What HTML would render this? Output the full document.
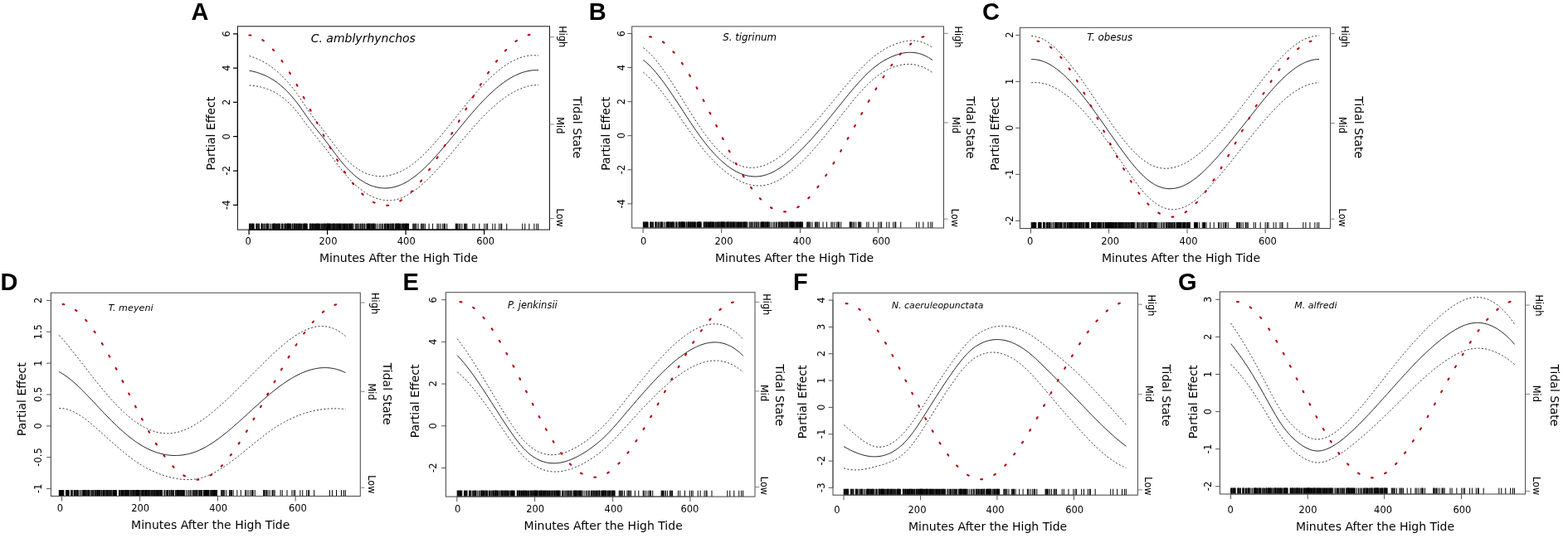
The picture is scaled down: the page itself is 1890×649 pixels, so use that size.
<!DOCTYPE html>
<html><head><meta charset="utf-8"><title>Partial effects of tidal state</title>
<style>html,body{margin:0;padding:0;background:#fff;}svg{display:block;}</style></head>
<body>
<svg width="1890" height="649" viewBox="0 0 1890 649">
<rect width="1890" height="649" fill="#fff"/>
<g><path d="M300.5 85.23 L302.69 85.66 L304.88 86.14 L307.08 86.69 L309.27 87.29 L311.46 87.97 L313.65 88.71 L315.84 89.53 L318.03 90.42 L320.23 91.4 L322.42 92.46 L324.61 93.6 L326.8 94.84 L328.99 96.17 L331.19 97.6 L333.38 99.13 L335.57 100.77 L337.76 102.51 L339.95 104.37 L342.14 106.34 L344.34 108.43 L346.53 110.63 L348.72 112.95 L350.91 115.37 L353.1 117.92 L355.3 120.58 L357.49 123.35 L359.68 126.23 L361.87 129.23 L364.06 132.32 L366.25 135.46 L368.45 138.6 L370.64 141.69 L372.83 144.72 L375.02 147.68 L377.21 150.58 L379.41 153.42 L381.6 156.2 L383.79 158.94 L385.98 161.66 L388.17 164.4 L390.36 167.16 L392.56 169.99 L394.75 172.88 L396.94 175.81 L399.13 178.77 L401.32 181.74 L403.52 184.7 L405.71 187.62 L407.9 190.49 L410.09 193.3 L412.28 196.01 L414.47 198.61 L416.67 201.1 L418.86 203.46 L421.05 205.72 L423.24 207.85 L425.43 209.87 L427.63 211.78 L429.82 213.57 L432.01 215.25 L434.2 216.81 L436.39 218.26 L438.58 219.6 L440.78 220.82 L442.97 221.93 L445.16 222.94 L447.35 223.82 L449.54 224.6 L451.74 225.27 L453.93 225.83 L456.12 226.28 L458.31 226.62 L460.5 226.85 L462.69 226.97 L464.89 226.98 L467.08 226.89 L469.27 226.69 L471.46 226.38 L473.65 225.97 L475.85 225.45 L478.04 224.82 L480.23 224.09 L482.42 223.25 L484.61 222.31 L486.81 221.27 L489 220.12 L491.19 218.87 L493.38 217.52 L495.57 216.07 L497.76 214.53 L499.96 212.89 L502.15 211.17 L504.34 209.36 L506.53 207.47 L508.72 205.51 L510.92 203.47 L513.11 201.37 L515.3 199.2 L517.49 196.97 L519.68 194.68 L521.87 192.34 L524.07 189.95 L526.26 187.51 L528.45 185.04 L530.64 182.52 L532.83 179.97 L535.03 177.39 L537.22 174.79 L539.41 172.16 L541.6 169.51 L543.79 166.84 L545.98 164.17 L548.18 161.49 L550.37 158.8 L552.56 156.11 L554.75 153.43 L556.94 150.75 L559.14 148.09 L561.33 145.44 L563.52 142.81 L565.71 140.2 L567.9 137.62 L570.09 135.07 L572.29 132.56 L574.48 130.08 L576.67 127.64 L578.86 125.25 L581.05 122.91 L583.25 120.62 L585.44 118.38 L587.63 116.2 L589.82 114.08 L592.01 112.02 L594.2 110.01 L596.4 108.07 L598.59 106.2 L600.78 104.39 L602.97 102.65 L605.16 100.97 L607.36 99.37 L609.55 97.84 L611.74 96.39 L613.93 95.01 L616.12 93.71 L618.31 92.49 L620.51 91.35 L622.7 90.29 L624.89 89.32 L627.08 88.43 L629.27 87.63 L631.47 86.93 L633.66 86.31 L635.85 85.79 L638.04 85.36 L640.23 85.03 L642.42 84.8 L644.62 84.67 L646.81 84.64 L649 84.71" fill="none" stroke="#222" stroke-width="1"/>
<path d="M300.5 67.49 L302.69 68.18 L304.88 68.93 L307.08 69.74 L309.27 70.62 L311.46 71.57 L313.65 72.6 L315.84 73.7 L318.03 74.88 L320.23 76.14 L322.42 77.49 L324.61 78.92 L326.8 80.45 L328.99 82.06 L331.19 83.78 L333.38 85.59 L335.57 87.5 L337.76 89.51 L339.95 91.64 L342.14 93.87 L344.34 96.21 L346.53 98.65 L348.72 101.2 L350.91 103.85 L353.1 106.61 L355.3 109.48 L357.49 112.44 L359.68 115.52 L361.87 118.69 L364.06 121.94 L366.25 125.23 L368.45 128.52 L370.64 131.75 L372.83 134.89 L375.02 137.97 L377.21 140.96 L379.41 143.89 L381.6 146.75 L383.79 149.56 L385.98 152.34 L388.17 155.11 L390.36 157.91 L392.56 160.76 L394.75 163.65 L396.94 166.59 L399.13 169.53 L401.32 172.47 L403.52 175.39 L405.71 178.26 L407.9 181.07 L410.09 183.8 L412.28 186.42 L414.47 188.92 L416.67 191.29 L418.86 193.53 L421.05 195.65 L423.24 197.63 L425.43 199.48 L427.63 201.21 L429.82 202.81 L432.01 204.28 L434.2 205.62 L436.39 206.85 L438.58 207.94 L440.78 208.92 L442.97 209.78 L445.16 210.53 L447.35 211.16 L449.54 211.67 L451.74 212.08 L453.93 212.37 L456.12 212.56 L458.31 212.65 L460.5 212.63 L462.69 212.51 L464.89 212.29 L467.08 211.97 L469.27 211.56 L471.46 211.05 L473.65 210.45 L475.85 209.76 L478.04 208.98 L480.23 208.11 L482.42 207.15 L484.61 206.1 L486.81 204.95 L489 203.72 L491.19 202.38 L493.38 200.95 L495.57 199.42 L497.76 197.8 L499.96 196.09 L502.15 194.29 L504.34 192.4 L506.53 190.44 L508.72 188.4 L510.92 186.28 L513.11 184.1 L515.3 181.85 L517.49 179.54 L519.68 177.18 L521.87 174.76 L524.07 172.29 L526.26 169.78 L528.45 167.22 L530.64 164.63 L532.83 162.01 L535.03 159.35 L537.22 156.67 L539.41 153.97 L541.6 151.25 L543.79 148.52 L545.98 145.78 L548.18 143.03 L550.37 140.28 L552.56 137.53 L554.75 134.78 L556.94 132.05 L559.14 129.33 L561.33 126.62 L563.52 123.94 L565.71 121.29 L567.9 118.66 L570.09 116.07 L572.29 113.51 L574.48 110.99 L576.67 108.52 L578.86 106.1 L581.05 103.73 L583.25 101.42 L585.44 99.16 L587.63 96.97 L589.82 94.83 L592.01 92.76 L594.2 90.75 L596.4 88.81 L598.59 86.94 L600.78 85.14 L602.97 83.41 L605.16 81.75 L607.36 80.17 L609.55 78.67 L611.74 77.25 L613.93 75.91 L616.12 74.65 L618.31 73.48 L620.51 72.4 L622.7 71.4 L624.89 70.49 L627.08 69.68 L629.27 68.96 L631.47 68.34 L633.66 67.82 L635.85 67.39 L638.04 67.07 L640.23 66.85 L642.42 66.73 L644.62 66.72 L646.81 66.83 L649 67.04" fill="none" stroke="#333" stroke-width="1" stroke-dasharray="2 2.3"/>
<path d="M300.5 102.96 L302.69 103.14 L304.88 103.36 L307.08 103.64 L309.27 103.97 L311.46 104.36 L313.65 104.83 L315.84 105.36 L318.03 105.97 L320.23 106.65 L322.42 107.42 L324.61 108.28 L326.8 109.23 L328.99 110.28 L331.19 111.42 L333.38 112.67 L335.57 114.04 L337.76 115.51 L339.95 117.1 L342.14 118.82 L344.34 120.65 L346.53 122.61 L348.72 124.69 L350.91 126.89 L353.1 129.22 L355.3 131.68 L357.49 134.25 L359.68 136.95 L361.87 139.78 L364.06 142.7 L366.25 145.68 L368.45 148.68 L370.64 151.64 L372.83 154.55 L375.02 157.4 L377.21 160.2 L379.41 162.94 L381.6 165.65 L383.79 168.32 L385.98 170.99 L388.17 173.68 L390.36 176.41 L392.56 179.22 L394.75 182.1 L396.94 185.04 L399.13 188.01 L401.32 191.01 L403.52 194 L405.71 196.98 L407.9 199.92 L410.09 202.8 L412.28 205.6 L414.47 208.3 L416.67 210.9 L418.86 213.39 L421.05 215.79 L423.24 218.08 L425.43 220.26 L427.63 222.35 L429.82 224.33 L432.01 226.22 L434.2 228 L436.39 229.68 L438.58 231.25 L440.78 232.72 L442.97 234.09 L445.16 235.34 L447.35 236.49 L449.54 237.53 L451.74 238.46 L453.93 239.28 L456.12 239.99 L458.31 240.58 L460.5 241.06 L462.69 241.43 L464.89 241.68 L467.08 241.81 L469.27 241.82 L471.46 241.71 L473.65 241.48 L475.85 241.13 L478.04 240.66 L480.23 240.07 L482.42 239.36 L484.61 238.53 L486.81 237.59 L489 236.53 L491.19 235.37 L493.38 234.1 L495.57 232.72 L497.76 231.25 L499.96 229.69 L502.15 228.04 L504.34 226.31 L506.53 224.5 L508.72 222.61 L510.92 220.66 L513.11 218.63 L515.3 216.54 L517.49 214.39 L519.68 212.18 L521.87 209.92 L524.07 207.61 L526.26 205.25 L528.45 202.85 L530.64 200.41 L532.83 197.94 L535.03 195.43 L537.22 192.9 L539.41 190.34 L541.6 187.76 L543.79 185.17 L545.98 182.56 L548.18 179.95 L550.37 177.32 L552.56 174.7 L554.75 172.08 L556.94 169.46 L559.14 166.85 L561.33 164.26 L563.52 161.68 L565.71 159.12 L567.9 156.59 L570.09 154.08 L572.29 151.6 L574.48 149.16 L576.67 146.76 L578.86 144.4 L581.05 142.09 L583.25 139.82 L585.44 137.61 L587.63 135.44 L589.82 133.33 L592.01 131.28 L594.2 129.28 L596.4 127.34 L598.59 125.46 L600.78 123.64 L602.97 121.88 L605.16 120.19 L607.36 118.57 L609.55 117.01 L611.74 115.52 L613.93 114.1 L616.12 112.76 L618.31 111.49 L620.51 110.3 L622.7 109.18 L624.89 108.14 L627.08 107.18 L629.27 106.31 L631.47 105.52 L633.66 104.81 L635.85 104.19 L638.04 103.66 L640.23 103.22 L642.42 102.87 L644.62 102.61 L646.81 102.45 L649 102.39" fill="none" stroke="#333" stroke-width="1" stroke-dasharray="2 2.3"/>
<path d="M300.5 42.47 L301.4 42.52 L302.24 42.57 L303.09 42.65 L303.93 42.77 L304.77 42.92 L305.61 43.1 L306.46 43.32 L307.3 43.56 L308.14 43.84 L308.99 44.15 L309.83 44.48 L310.67 44.85 L311.51 45.25 L312.36 45.68 L313.2 46.14 L314.04 46.62 L314.89 47.14 L315.73 47.68 L316.57 48.25 L317.41 48.84 L318.26 49.47 L319.1 50.12 L319.94 50.79 L320.79 51.5 L321.63 52.23 L322.47 52.98 L323.31 53.76 L324.16 54.56 L325 55.39 L325.84 56.24 L326.69 57.11 L327.53 58.01 L328.37 58.93 L329.21 59.87 L330.06 60.83 L330.9 61.82 L331.74 62.82 L332.59 63.85 L333.43 64.9 L334.27 65.96 L335.11 67.05 L335.96 68.16 L336.8 69.28 L337.64 70.43 L338.49 71.59 L339.33 72.77 L340.17 73.97 L341.01 75.19 L341.86 76.42 L342.7 77.67 L343.54 78.93 L344.39 80.21 L345.23 81.51 L346.07 82.82 L346.91 84.15 L347.76 85.49 L348.6 86.84 L349.44 88.21 L350.29 89.59 L351.13 90.99 L351.97 92.39 L352.81 93.81 L353.66 95.24 L354.5 96.69 L355.34 98.14 L356.19 99.61 L357.03 101.08 L357.87 102.57 L358.71 104.06 L359.56 105.56 L360.4 107.08 L361.24 108.6 L362.09 110.13 L362.93 111.67 L363.77 113.21 L364.61 114.76 L365.46 116.32 L366.3 117.89 L367.14 119.46 L367.99 121.04 L368.83 122.62 L369.67 124.21 L370.51 125.8 L371.36 127.4 L372.2 129 L373.04 130.6 L373.89 132.21 L374.73 133.82 L375.57 135.43 L376.41 137.05 L377.26 138.66 L378.1 140.28 L378.94 141.9 L379.79 143.52 L380.63 145.14 L381.47 146.76 L382.31 148.38 L383.16 150 L384 151.62 L384.84 153.23 L385.69 154.85 L386.53 156.46 L387.37 158.07 L388.21 159.68 L389.06 161.28 L389.9 162.88 L390.74 164.47 L391.59 166.06 L392.43 167.65 L393.27 169.23 L394.11 170.8 L394.96 172.37 L395.8 173.93 L396.64 175.48 L397.49 177.03 L398.33 178.56 L399.17 180.09 L400.01 181.61 L400.86 183.12 L401.7 184.63 L402.54 186.12 L403.39 187.6 L404.23 189.07 L405.07 190.53 L405.91 191.98 L406.76 193.42 L407.6 194.84 L408.44 196.25 L409.29 197.65 L410.13 199.03 L410.97 200.4 L411.81 201.76 L412.66 203.1 L413.5 204.43 L414.34 205.74 L415.19 207.03 L416.03 208.31 L416.87 209.57 L417.71 210.82 L418.56 212.04 L419.4 213.25 L420.24 214.44 L421.09 215.62 L421.93 216.77 L422.77 217.91 L423.61 219.03 L424.46 220.13 L425.3 221.21 L426.14 222.28 L426.99 223.32 L427.83 224.35 L428.67 225.35 L429.51 226.34 L430.36 227.3 L431.2 228.25 L432.04 229.18 L432.89 230.08 L433.73 230.97 L434.57 231.83 L435.41 232.68 L436.26 233.5 L437.1 234.3 L437.94 235.09 L438.79 235.85 L439.63 236.58 L440.47 237.3 L441.31 238 L442.16 238.67 L443 239.32 L443.84 239.95 L444.69 240.55 L445.53 241.14 L446.37 241.7 L447.21 242.24 L448.06 242.75 L448.9 243.24 L449.74 243.71 L450.59 244.15 L451.43 244.57 L452.27 244.97 L453.11 245.34 L453.96 245.69 L454.8 246.01 L455.64 246.31 L456.49 246.58 L457.33 246.83 L458.17 247.05 L459.01 247.25 L459.86 247.42 L460.7 247.57 L461.54 247.69 L462.39 247.78 L463.23 247.85 L464.07 247.89 L464.91 247.91 L465.76 247.9 L466.6 247.86 L467.44 247.8 L468.29 247.7 L469.13 247.59 L469.97 247.44 L470.81 247.27 L471.66 247.07 L472.5 246.85 L473.34 246.6 L474.19 246.33 L475.03 246.03 L475.87 245.71 L476.71 245.36 L477.56 244.99 L478.4 244.59 L479.24 244.17 L480.09 243.73 L480.93 243.27 L481.77 242.78 L482.61 242.27 L483.46 241.73 L484.3 241.18 L485.14 240.6 L485.99 240 L486.83 239.39 L487.67 238.75 L488.51 238.08 L489.36 237.4 L490.2 236.7 L491.04 235.98 L491.89 235.24 L492.73 234.48 L493.57 233.7 L494.41 232.9 L495.26 232.08 L496.1 231.25 L496.94 230.39 L497.79 229.52 L498.63 228.63 L499.47 227.73 L500.31 226.81 L501.16 225.87 L502 224.91 L502.84 223.94 L503.69 222.95 L504.53 221.94 L505.37 220.92 L506.21 219.89 L507.06 218.84 L507.9 217.78 L508.74 216.7 L509.59 215.6 L510.43 214.5 L511.27 213.38 L512.11 212.24 L512.96 211.1 L513.8 209.94 L514.64 208.76 L515.49 207.58 L516.33 206.38 L517.17 205.18 L518.01 203.96 L518.86 202.73 L519.7 201.48 L520.54 200.23 L521.39 198.97 L522.23 197.69 L523.07 196.41 L523.91 195.12 L524.76 193.82 L525.6 192.5 L526.44 191.18 L527.29 189.86 L528.13 188.52 L528.97 187.17 L529.81 185.82 L530.66 184.46 L531.5 183.09 L532.34 181.72 L533.19 180.34 L534.03 178.95 L534.87 177.55 L535.71 176.15 L536.56 174.75 L537.4 173.33 L538.24 171.92 L539.09 170.5 L539.93 169.07 L540.77 167.64 L541.61 166.2 L542.46 164.76 L543.3 163.32 L544.14 161.88 L544.99 160.43 L545.83 158.98 L546.67 157.52 L547.51 156.06 L548.36 154.61 L549.2 153.15 L550.04 151.68 L550.89 150.22 L551.73 148.76 L552.57 147.29 L553.41 145.83 L554.26 144.36 L555.1 142.89 L555.94 141.43 L556.79 139.96 L557.63 138.5 L558.47 137.04 L559.31 135.58 L560.16 134.12 L561 132.66 L561.84 131.2 L562.69 129.75 L563.53 128.3 L564.37 126.85 L565.21 125.41 L566.06 123.97 L566.9 122.53 L567.74 121.1 L568.59 119.67 L569.43 118.24 L570.27 116.82 L571.11 115.41 L571.96 114 L572.8 112.6 L573.64 111.2 L574.49 109.81 L575.33 108.42 L576.17 107.04 L577.01 105.67 L577.86 104.31 L578.7 102.95 L579.54 101.6 L580.39 100.26 L581.23 98.93 L582.07 97.6 L582.91 96.28 L583.76 94.98 L584.6 93.68 L585.44 92.39 L586.29 91.11 L587.13 89.84 L587.97 88.58 L588.81 87.34 L589.66 86.1 L590.5 84.87 L591.34 83.66 L592.19 82.46 L593.03 81.27 L593.87 80.09 L594.71 78.92 L595.56 77.77 L596.4 76.63 L597.24 75.5 L598.09 74.38 L598.93 73.28 L599.77 72.2 L600.61 71.12 L601.46 70.07 L602.3 69.02 L603.14 68 L603.99 66.98 L604.83 65.99 L605.67 65.01 L606.51 64.04 L607.36 63.09 L608.2 62.16 L609.04 61.24 L609.89 60.35 L610.73 59.46 L611.57 58.6 L612.41 57.76 L613.26 56.93 L614.1 56.12 L614.94 55.33 L615.79 54.56 L616.63 53.81 L617.47 53.08 L618.31 52.36 L619.16 51.67 L620 51 L620.84 50.35 L621.69 49.72 L622.53 49.11 L623.37 48.52 L624.21 47.95 L625.06 47.41 L625.9 46.88 L626.74 46.38 L627.59 45.91 L628.43 45.45 L629.27 45.02 L630.11 44.61 L630.96 44.23 L631.8 43.87 L632.64 43.53 L633.49 43.22 L634.33 42.93 L635.17 42.67 L636.01 42.43 L636.86 42.22 L637.7 42.03 L639.46 41.65" fill="none" stroke="#b2000e" stroke-width="2.1" stroke-dasharray="1.8 15.29" stroke-linecap="round"/>
<path d="M300.5 269.7V277.1M301.06 269.7V277.1M301.71 269.7V277.1M302.65 269.7V277.1M303.22 269.7V277.1M303.83 269.7V277.1M304.5 269.7V277.1M304.85 269.7V277.1M305.46 269.7V277.1M306.16 269.7V277.1M308.84 269.7V277.1M309.59 269.7V277.1M309.83 269.7V277.1M310.81 269.7V277.1M311.79 269.7V277.1M312.51 269.7V277.1M314.97 269.7V277.1M315.36 269.7V277.1M315.58 269.7V277.1M316.16 269.7V277.1M317.17 269.7V277.1M318.75 269.7V277.1M319.88 269.7V277.1M321.18 269.7V277.1M321.78 269.7V277.1M322.51 269.7V277.1M323.08 269.7V277.1M323.5 269.7V277.1M325.3 269.7V277.1M327.09 269.7V277.1M328.67 269.7V277.1M329.44 269.7V277.1M329.89 269.7V277.1M330.27 269.7V277.1M330.71 269.7V277.1M330.96 269.7V277.1M331.78 269.7V277.1M332.3 269.7V277.1M333.18 269.7V277.1M333.68 269.7V277.1M334.65 269.7V277.1M335.53 269.7V277.1M335.73 269.7V277.1M336.1 269.7V277.1M337.03 269.7V277.1M337.6 269.7V277.1M339.38 269.7V277.1M340.34 269.7V277.1M340.84 269.7V277.1M342.12 269.7V277.1M343.61 269.7V277.1M344.03 269.7V277.1M344.3 269.7V277.1M344.76 269.7V277.1M345.74 269.7V277.1M346.54 269.7V277.1M346.84 269.7V277.1M347.24 269.7V277.1M347.52 269.7V277.1M347.77 269.7V277.1M348.6 269.7V277.1M348.95 269.7V277.1M349.59 269.7V277.1M350.15 269.7V277.1M350.82 269.7V277.1M352.25 269.7V277.1M352.83 269.7V277.1M354.13 269.7V277.1M354.43 269.7V277.1M354.96 269.7V277.1M355.33 269.7V277.1M355.75 269.7V277.1M356.73 269.7V277.1M357.57 269.7V277.1M358.01 269.7V277.1M358.92 269.7V277.1M359.29 269.7V277.1M359.81 269.7V277.1M360.69 269.7V277.1M361.41 269.7V277.1M361.69 269.7V277.1M362.68 269.7V277.1M363.38 269.7V277.1M364.14 269.7V277.1M365.62 269.7V277.1M366.48 269.7V277.1M366.92 269.7V277.1M367.18 269.7V277.1M367.45 269.7V277.1M368.12 269.7V277.1M368.51 269.7V277.1M369.2 269.7V277.1M369.69 269.7V277.1M370.26 269.7V277.1M373.37 269.7V277.1M373.71 269.7V277.1M374.04 269.7V277.1M374.96 269.7V277.1M375.82 269.7V277.1M376.22 269.7V277.1M376.57 269.7V277.1M377.36 269.7V277.1M378.32 269.7V277.1M378.67 269.7V277.1M379.64 269.7V277.1M380.54 269.7V277.1M381.23 269.7V277.1M381.76 269.7V277.1M382.05 269.7V277.1M382.28 269.7V277.1M383.25 269.7V277.1M383.64 269.7V277.1M384.4 269.7V277.1M384.81 269.7V277.1M385.67 269.7V277.1M386.91 269.7V277.1M387.72 269.7V277.1M388.36 269.7V277.1M389.77 269.7V277.1M390.27 269.7V277.1M390.65 269.7V277.1M391.3 269.7V277.1M392.18 269.7V277.1M392.88 269.7V277.1M393.3 269.7V277.1M394.24 269.7V277.1M394.6 269.7V277.1M394.81 269.7V277.1M395.23 269.7V277.1M395.78 269.7V277.1M396.03 269.7V277.1M396.37 269.7V277.1M396.87 269.7V277.1M397.53 269.7V277.1M397.83 269.7V277.1M398.32 269.7V277.1M399.24 269.7V277.1M400.22 269.7V277.1M400.95 269.7V277.1M401.7 269.7V277.1M402.37 269.7V277.1M402.68 269.7V277.1M402.91 269.7V277.1M403.13 269.7V277.1M404.06 269.7V277.1M404.82 269.7V277.1M405.79 269.7V277.1M406 269.7V277.1M406.71 269.7V277.1M407.3 269.7V277.1M408.09 269.7V277.1M408.54 269.7V277.1M409.54 269.7V277.1M409.8 269.7V277.1M410.44 269.7V277.1M411.23 269.7V277.1M412.15 269.7V277.1M412.94 269.7V277.1M413.7 269.7V277.1M414.54 269.7V277.1M415.47 269.7V277.1M415.95 269.7V277.1M416.7 269.7V277.1M417.62 269.7V277.1M418.52 269.7V277.1M419.06 269.7V277.1M419.89 269.7V277.1M420.78 269.7V277.1M421.44 269.7V277.1M422.14 269.7V277.1M422.65 269.7V277.1M423.31 269.7V277.1M424 269.7V277.1M424.27 269.7V277.1M424.98 269.7V277.1M425.97 269.7V277.1M428.3 269.7V277.1M429.24 269.7V277.1M430.67 269.7V277.1M431.89 269.7V277.1M432.91 269.7V277.1M434.48 269.7V277.1M435 269.7V277.1M436.45 269.7V277.1M436.89 269.7V277.1M438.13 269.7V277.1M439.21 269.7V277.1M439.93 269.7V277.1M441.91 269.7V277.1M442.6 269.7V277.1M443.54 269.7V277.1M443.94 269.7V277.1M444.15 269.7V277.1M444.59 269.7V277.1M445.34 269.7V277.1M445.7 269.7V277.1M446.04 269.7V277.1M446.96 269.7V277.1M447.69 269.7V277.1M448.24 269.7V277.1M449.16 269.7V277.1M449.62 269.7V277.1M450.35 269.7V277.1M450.71 269.7V277.1M451.26 269.7V277.1M452.1 269.7V277.1M453.04 269.7V277.1M455.12 269.7V277.1M457.26 269.7V277.1M458.83 269.7V277.1M460.42 269.7V277.1M461.82 269.7V277.1M463.55 269.7V277.1M464.34 269.7V277.1M464.97 269.7V277.1M466 269.7V277.1M466.79 269.7V277.1M467.49 269.7V277.1M468.47 269.7V277.1M469.75 269.7V277.1M470.84 269.7V277.1M471.29 269.7V277.1M472.17 269.7V277.1M473.15 269.7V277.1M473.71 269.7V277.1M473.97 269.7V277.1M474.2 269.7V277.1M476.1 269.7V277.1M476.76 269.7V277.1M477.2 269.7V277.1M478.04 269.7V277.1M478.25 269.7V277.1M478.56 269.7V277.1M479.13 269.7V277.1M479.35 269.7V277.1M480.21 269.7V277.1M480.6 269.7V277.1M480.91 269.7V277.1M481.15 269.7V277.1M481.86 269.7V277.1M482.41 269.7V277.1M483.84 269.7V277.1M484.69 269.7V277.1M485.66 269.7V277.1M486.41 269.7V277.1M486.77 269.7V277.1M487.35 269.7V277.1M488.48 269.7V277.1M489.25 269.7V277.1M489.59 269.7V277.1M490.01 269.7V277.1M490.49 269.7V277.1M491.25 269.7V277.1M491.86 269.7V277.1M492.55 269.7V277.1M497.77 269.7V277.1M498.77 269.7V277.1M499.77 269.7V277.1M500.77 269.7V277.1M501.87 269.7V277.1M504.08 269.7V277.1M507.58 269.7V277.1M508.88 269.7V277.1M509.78 269.7V277.1M510.78 269.7V277.1M512.38 269.7V277.1M517.09 269.7V277.1M521.59 269.7V277.1M526.99 269.7V277.1M528.3 269.7V277.1M530.5 269.7V277.1M533 269.7V277.1M534.9 269.7V277.1M535.7 269.7V277.1M536.5 269.7V277.1M538.71 269.7V277.1M549.21 269.7V277.1M549.91 269.7V277.1M550.52 269.7V277.1M551.72 269.7V277.1M553.02 269.7V277.1M554.62 269.7V277.1M556.82 269.7V277.1M559.72 269.7V277.1M560.32 269.7V277.1M561.62 269.7V277.1M562.83 269.7V277.1M569.83 269.7V277.1M572.03 269.7V277.1M577.84 269.7V277.1M583.84 269.7V277.1M586.05 269.7V277.1M587.65 269.7V277.1M593.85 269.7V277.1M596.76 269.7V277.1M601.76 269.7V277.1M603.86 269.7V277.1M604.76 269.7V277.1M610.77 269.7V277.1M629.78 269.7V277.1M632.79 269.7V277.1M637.89 269.7V277.1M643.9 269.7V277.1M646.8 269.7V277.1M648.8 269.7V277.1" stroke="#000" stroke-width="1"/>
<rect x="286.4" y="31.8" width="376.1" height="245.3" fill="none" stroke="#111" stroke-width="1"/>
<path d="M286.4 40.9V247.3M281.1 247.3H286.4M281.1 206.02H286.4M281.1 164.74H286.4M281.1 123.46H286.4M281.1 82.18H286.4M281.1 40.9H286.4M300.1 277.1H583.6M300.1 277.1V283.1M394.6 277.1V283.1M489.1 277.1V283.1M583.6 277.1V283.1" fill="none" stroke="#000" stroke-width="1.25"/>
<path d="M662.5 44.7H667.8M662.5 150H667.8M662.5 263.5H667.8" fill="none" stroke="#777" stroke-width="0.9"/>
<text transform="translate(277 252.99) rotate(-90)" style="font-family:'DejaVu Sans', sans-serif;font-size:11.5px;">-4</text>
<text transform="translate(277 211.45) rotate(-90)" style="font-family:'DejaVu Sans', sans-serif;font-size:11.5px;">-2</text>
<text transform="translate(277 168.39) rotate(-90)" style="font-family:'DejaVu Sans', sans-serif;font-size:11.5px;">0</text>
<text transform="translate(277 126.97) rotate(-90)" style="font-family:'DejaVu Sans', sans-serif;font-size:11.5px;">2</text>
<text transform="translate(277 85.8) rotate(-90)" style="font-family:'DejaVu Sans', sans-serif;font-size:11.5px;">4</text>
<text transform="translate(277 44.61) rotate(-90)" style="font-family:'DejaVu Sans', sans-serif;font-size:11.5px;">6</text>
<text x="295.45" y="294.7" style="font-family:'DejaVu Sans', sans-serif;font-size:11.5px;">0</text>
<text x="384.56" y="294.7" style="font-family:'DejaVu Sans', sans-serif;font-size:11.5px;">200</text>
<text x="478.8" y="294.7" style="font-family:'DejaVu Sans', sans-serif;font-size:11.5px;">400</text>
<text x="574.19" y="294.7" style="font-family:'DejaVu Sans', sans-serif;font-size:11.5px;">600</text>
<text transform="translate(258.71 205.5) rotate(-90)" style="font-family:'DejaVu Sans', sans-serif;font-size:14px;">Partial Effect</text>
<text x="384.95" y="316" style="font-family:'DejaVu Sans', sans-serif;font-size:14px;">Minutes After the High Tide</text>
<text transform="translate(690.78 116.32) rotate(90)" style="font-family:'DejaVu Sans', sans-serif;font-size:14px;">Tidal State</text>
<text transform="translate(673.72 31.22) rotate(90) scale(1 1.12)" style="font-family:'DejaVu Sans', sans-serif;font-size:11.3px;">High</text>
<text transform="translate(670.99 141.31) rotate(90) scale(1 1.12)" style="font-family:'DejaVu Sans', sans-serif;font-size:11.3px;">Mid</text>
<text transform="translate(670.78 251.56) rotate(90) scale(1 1.12)" style="font-family:'DejaVu Sans', sans-serif;font-size:11.3px;">Low</text>
<text x="230.56" y="24" style="font-family:'Liberation Sans', Arial, sans-serif;font-size:29px;font-weight:bold;">A</text>
<text x="374.69" y="50.5" style="font-family:'DejaVu Sans', sans-serif;font-size:14px;font-style:italic;">C. amblyrhynchos</text></g>
<g><path d="M775.4 72.4 L777.59 74.15 L779.78 76.05 L781.98 78.09 L784.17 80.27 L786.36 82.59 L788.55 85.02 L790.75 87.57 L792.94 90.22 L795.13 92.98 L797.32 95.83 L799.52 98.76 L801.71 101.77 L803.9 104.85 L806.09 107.99 L808.29 111.19 L810.48 114.44 L812.67 117.72 L814.86 121.04 L817.06 124.38 L819.25 127.75 L821.44 131.12 L823.63 134.49 L825.83 137.86 L828.02 141.22 L830.21 144.55 L832.4 147.86 L834.6 151.14 L836.79 154.37 L838.98 157.55 L841.17 160.68 L843.37 163.74 L845.56 166.73 L847.75 169.64 L849.94 172.47 L852.14 175.22 L854.33 177.89 L856.52 180.47 L858.71 182.96 L860.91 185.37 L863.1 187.69 L865.29 189.92 L867.48 192.05 L869.68 194.09 L871.87 196.04 L874.06 197.88 L876.25 199.63 L878.45 201.27 L880.64 202.82 L882.83 204.26 L885.02 205.59 L887.22 206.81 L889.41 207.93 L891.6 208.94 L893.79 209.83 L895.98 210.62 L898.18 211.29 L900.37 211.86 L902.56 212.31 L904.75 212.65 L906.95 212.87 L909.14 212.98 L911.33 212.98 L913.52 212.86 L915.72 212.63 L917.91 212.28 L920.1 211.82 L922.29 211.24 L924.49 210.54 L926.68 209.73 L928.87 208.82 L931.06 207.8 L933.26 206.68 L935.45 205.46 L937.64 204.15 L939.83 202.75 L942.03 201.27 L944.22 199.7 L946.41 198.06 L948.6 196.34 L950.8 194.55 L952.99 192.69 L955.18 190.77 L957.37 188.79 L959.57 186.76 L961.76 184.67 L963.95 182.53 L966.14 180.35 L968.34 178.12 L970.53 175.85 L972.72 173.54 L974.91 171.19 L977.11 168.8 L979.3 166.38 L981.49 163.93 L983.68 161.44 L985.88 158.92 L988.07 156.37 L990.26 153.8 L992.45 151.2 L994.65 148.58 L996.84 145.93 L999.03 143.27 L1001.22 140.59 L1003.42 137.89 L1005.61 135.18 L1007.8 132.45 L1009.99 129.72 L1012.18 126.98 L1014.38 124.25 L1016.57 121.53 L1018.76 118.82 L1020.95 116.12 L1023.15 113.45 L1025.34 110.81 L1027.53 108.2 L1029.72 105.63 L1031.92 103.09 L1034.11 100.61 L1036.3 98.18 L1038.49 95.81 L1040.69 93.5 L1042.88 91.25 L1045.07 89.08 L1047.26 86.99 L1049.46 84.97 L1051.65 83.05 L1053.84 81.22 L1056.03 79.48 L1058.23 77.84 L1060.42 76.3 L1062.61 74.86 L1064.8 73.5 L1067 72.23 L1069.19 71.05 L1071.38 69.96 L1073.57 68.94 L1075.77 68 L1077.96 67.14 L1080.15 66.35 L1082.34 65.64 L1084.54 65.01 L1086.73 64.47 L1088.92 64.03 L1091.11 63.68 L1093.31 63.43 L1095.5 63.28 L1097.69 63.24 L1099.88 63.32 L1102.08 63.51 L1104.27 63.82 L1106.46 64.25 L1108.65 64.81 L1110.85 65.5 L1113.04 66.33 L1115.23 67.29 L1117.42 68.38 L1119.62 69.63 L1121.81 71.02 L1124 72.56" fill="none" stroke="#222" stroke-width="1"/>
<path d="M775.4 57.65 L777.59 59.32 L779.78 61.17 L781.98 63.18 L784.17 65.35 L786.36 67.67 L788.55 70.13 L790.75 72.72 L792.94 75.43 L795.13 78.25 L797.32 81.19 L799.52 84.22 L801.71 87.34 L803.9 90.54 L806.09 93.82 L808.29 97.16 L810.48 100.56 L812.67 104.01 L814.86 107.5 L817.06 111.03 L819.25 114.57 L821.44 118.13 L823.63 121.7 L825.83 125.27 L828.02 128.83 L830.21 132.38 L832.4 135.9 L834.6 139.38 L836.79 142.82 L838.98 146.22 L841.17 149.55 L843.37 152.82 L845.56 156.01 L847.75 159.12 L849.94 162.15 L852.14 165.09 L854.33 167.93 L856.52 170.69 L858.71 173.34 L860.91 175.9 L863.1 178.36 L865.29 180.7 L867.48 182.94 L869.68 185.07 L871.87 187.09 L874.06 188.98 L876.25 190.75 L878.45 192.4 L880.64 193.93 L882.83 195.32 L885.02 196.59 L887.22 197.73 L889.41 198.74 L891.6 199.63 L893.79 200.38 L895.98 201.01 L898.18 201.52 L900.37 201.9 L902.56 202.16 L904.75 202.29 L906.95 202.31 L909.14 202.2 L911.33 201.98 L913.52 201.63 L915.72 201.17 L917.91 200.59 L920.1 199.9 L922.29 199.08 L924.49 198.16 L926.68 197.13 L928.87 196 L931.06 194.76 L933.26 193.43 L935.45 192.01 L937.64 190.5 L939.83 188.92 L942.03 187.25 L944.22 185.51 L946.41 183.7 L948.6 181.83 L950.8 179.9 L952.99 177.92 L955.18 175.88 L957.37 173.79 L959.57 171.67 L961.76 169.5 L963.95 167.29 L966.14 165.05 L968.34 162.78 L970.53 160.47 L972.72 158.14 L974.91 155.77 L977.11 153.37 L979.3 150.95 L981.49 148.5 L983.68 146.03 L985.88 143.54 L988.07 141.02 L990.26 138.48 L992.45 135.92 L994.65 133.35 L996.84 130.76 L999.03 128.15 L1001.22 125.53 L1003.42 122.9 L1005.61 120.25 L1007.8 117.6 L1009.99 114.94 L1012.18 112.29 L1014.38 109.63 L1016.57 106.99 L1018.76 104.36 L1020.95 101.75 L1023.15 99.16 L1025.34 96.6 L1027.53 94.07 L1029.72 91.57 L1031.92 89.12 L1034.11 86.71 L1036.3 84.36 L1038.49 82.05 L1040.69 79.81 L1042.88 77.63 L1045.07 75.52 L1047.26 73.48 L1049.46 71.52 L1051.65 69.64 L1053.84 67.85 L1056.03 66.14 L1058.23 64.53 L1060.42 63.01 L1062.61 61.58 L1064.8 60.23 L1067 58.95 L1069.19 57.76 L1071.38 56.64 L1073.57 55.59 L1075.77 54.61 L1077.96 53.7 L1080.15 52.85 L1082.34 52.07 L1084.54 51.36 L1086.73 50.74 L1088.92 50.2 L1091.11 49.76 L1093.31 49.41 L1095.5 49.16 L1097.69 49.02 L1099.88 48.99 L1102.08 49.08 L1104.27 49.29 L1106.46 49.63 L1108.65 50.1 L1110.85 50.7 L1113.04 51.44 L1115.23 52.33 L1117.42 53.36 L1119.62 54.55 L1121.81 55.9 L1124 57.41" fill="none" stroke="#333" stroke-width="1" stroke-dasharray="2 2.3"/>
<path d="M775.4 87.16 L777.59 88.98 L779.78 90.93 L781.98 93 L784.17 95.19 L786.36 97.5 L788.55 99.91 L790.75 102.42 L792.94 105.02 L795.13 107.7 L797.32 110.47 L799.52 113.3 L801.71 116.2 L803.9 119.16 L806.09 122.17 L808.29 125.22 L810.48 128.31 L812.67 131.43 L814.86 134.58 L817.06 137.74 L819.25 140.92 L821.44 144.1 L823.63 147.28 L825.83 150.45 L828.02 153.6 L830.21 156.73 L832.4 159.83 L834.6 162.89 L836.79 165.92 L838.98 168.89 L841.17 171.81 L843.37 174.66 L845.56 177.45 L847.75 180.16 L849.94 182.79 L852.14 185.35 L854.33 187.84 L856.52 190.25 L858.71 192.58 L860.91 194.84 L863.1 197.02 L865.29 199.13 L867.48 201.16 L869.68 203.11 L871.87 204.99 L874.06 206.78 L876.25 208.5 L878.45 210.14 L880.64 211.7 L882.83 213.19 L885.02 214.58 L887.22 215.9 L889.41 217.12 L891.6 218.25 L893.79 219.28 L895.98 220.23 L898.18 221.07 L900.37 221.81 L902.56 222.46 L904.75 223 L906.95 223.43 L909.14 223.76 L911.33 223.98 L913.52 224.09 L915.72 224.09 L917.91 223.97 L920.1 223.74 L922.29 223.39 L924.49 222.92 L926.68 222.33 L928.87 221.64 L931.06 220.83 L933.26 219.92 L935.45 218.91 L937.64 217.8 L939.83 216.59 L942.03 215.29 L944.22 213.89 L946.41 212.41 L948.6 210.84 L950.8 209.2 L952.99 207.47 L955.18 205.66 L957.37 203.79 L959.57 201.84 L961.76 199.84 L963.95 197.77 L966.14 195.64 L968.34 193.46 L970.53 191.23 L972.72 188.94 L974.91 186.61 L977.11 184.23 L979.3 181.81 L981.49 179.35 L983.68 176.85 L985.88 174.3 L988.07 171.73 L990.26 169.12 L992.45 166.48 L994.65 163.81 L996.84 161.11 L999.03 158.39 L1001.22 155.65 L1003.42 152.88 L1005.61 150.1 L1007.8 147.3 L1009.99 144.49 L1012.18 141.68 L1014.38 138.87 L1016.57 136.07 L1018.76 133.27 L1020.95 130.5 L1023.15 127.75 L1025.34 125.02 L1027.53 122.33 L1029.72 119.68 L1031.92 117.07 L1034.11 114.51 L1036.3 112 L1038.49 109.56 L1040.69 107.18 L1042.88 104.87 L1045.07 102.64 L1047.26 100.49 L1049.46 98.43 L1051.65 96.46 L1053.84 94.59 L1056.03 92.82 L1058.23 91.15 L1060.42 89.59 L1062.61 88.13 L1064.8 86.78 L1067 85.51 L1069.19 84.34 L1071.38 83.27 L1073.57 82.28 L1075.77 81.39 L1077.96 80.57 L1080.15 79.85 L1082.34 79.21 L1084.54 78.66 L1086.73 78.21 L1088.92 77.85 L1091.11 77.6 L1093.31 77.45 L1095.5 77.4 L1097.69 77.47 L1099.88 77.65 L1102.08 77.94 L1104.27 78.35 L1106.46 78.88 L1108.65 79.53 L1110.85 80.31 L1113.04 81.21 L1115.23 82.24 L1117.42 83.41 L1119.62 84.7 L1121.81 86.14 L1124 87.71" fill="none" stroke="#333" stroke-width="1" stroke-dasharray="2 2.3"/>
<path d="M783.2 44.41 L784.1 44.49 L784.92 44.55 L785.75 44.65 L786.57 44.79 L787.39 44.95 L788.22 45.15 L789.04 45.37 L789.86 45.63 L790.68 45.92 L791.51 46.24 L792.33 46.59 L793.15 46.96 L793.98 47.37 L794.8 47.81 L795.62 48.27 L796.45 48.77 L797.27 49.29 L798.09 49.83 L798.92 50.41 L799.74 51.01 L800.56 51.64 L801.38 52.3 L802.21 52.98 L803.03 53.68 L803.85 54.41 L804.68 55.17 L805.5 55.95 L806.32 56.76 L807.15 57.58 L807.97 58.44 L808.79 59.31 L809.61 60.21 L810.44 61.13 L811.26 62.07 L812.08 63.03 L812.91 64.02 L813.73 65.03 L814.55 66.05 L815.38 67.1 L816.2 68.17 L817.02 69.25 L817.85 70.36 L818.67 71.48 L819.49 72.63 L820.31 73.79 L821.14 74.97 L821.96 76.17 L822.78 77.38 L823.61 78.61 L824.43 79.86 L825.25 81.13 L826.08 82.41 L826.9 83.7 L827.72 85.01 L828.55 86.34 L829.37 87.68 L830.19 89.03 L831.01 90.4 L831.84 91.78 L832.66 93.18 L833.48 94.59 L834.31 96.01 L835.13 97.44 L835.95 98.88 L836.78 100.34 L837.6 101.81 L838.42 103.28 L839.24 104.77 L840.07 106.27 L840.89 107.78 L841.71 109.29 L842.54 110.82 L843.36 112.35 L844.18 113.9 L845.01 115.45 L845.83 117.01 L846.65 118.57 L847.48 120.15 L848.3 121.73 L849.12 123.31 L849.94 124.91 L850.77 126.5 L851.59 128.11 L852.41 129.71 L853.24 131.33 L854.06 132.94 L854.88 134.56 L855.71 136.19 L856.53 137.82 L857.35 139.45 L858.18 141.08 L859 142.72 L859.82 144.35 L860.64 145.99 L861.47 147.63 L862.29 149.27 L863.11 150.91 L863.94 152.55 L864.76 154.19 L865.58 155.84 L866.41 157.47 L867.23 159.11 L868.05 160.75 L868.87 162.38 L869.7 164.01 L870.52 165.64 L871.34 167.27 L872.17 168.89 L872.99 170.51 L873.81 172.12 L874.64 173.73 L875.46 175.33 L876.28 176.92 L877.11 178.51 L877.93 180.1 L878.75 181.67 L879.57 183.24 L880.4 184.8 L881.22 186.36 L882.04 187.9 L882.87 189.44 L883.69 190.96 L884.51 192.48 L885.34 193.98 L886.16 195.48 L886.98 196.96 L887.81 198.43 L888.63 199.89 L889.45 201.34 L890.27 202.77 L891.1 204.19 L891.92 205.6 L892.74 207 L893.57 208.38 L894.39 209.74 L895.21 211.09 L896.04 212.42 L896.86 213.74 L897.68 215.04 L898.51 216.33 L899.33 217.6 L900.15 218.85 L900.97 220.08 L901.8 221.3 L902.62 222.5 L903.44 223.68 L904.27 224.84 L905.09 225.98 L905.91 227.11 L906.74 228.21 L907.56 229.3 L908.38 230.37 L909.2 231.41 L910.03 232.44 L910.85 233.45 L911.67 234.44 L912.5 235.41 L913.32 236.36 L914.14 237.29 L914.97 238.19 L915.79 239.08 L916.61 239.95 L917.44 240.79 L918.26 241.61 L919.08 242.41 L919.9 243.19 L920.73 243.95 L921.55 244.68 L922.37 245.4 L923.2 246.09 L924.02 246.75 L924.84 247.4 L925.67 248.02 L926.49 248.61 L927.31 249.19 L928.14 249.74 L928.96 250.26 L929.78 250.76 L930.6 251.24 L931.43 251.69 L932.25 252.12 L933.07 252.52 L933.9 252.9 L934.72 253.25 L935.54 253.58 L936.37 253.88 L937.19 254.15 L938.01 254.4 L938.83 254.62 L939.66 254.81 L940.48 254.98 L941.3 255.12 L942.13 255.24 L942.95 255.33 L943.77 255.39 L944.6 255.42 L945.42 255.42 L946.24 255.4 L947.07 255.34 L947.89 255.26 L948.71 255.15 L949.53 255.02 L950.36 254.85 L951.18 254.66 L952 254.44 L952.83 254.19 L953.65 253.92 L954.47 253.62 L955.3 253.29 L956.12 252.94 L956.94 252.57 L957.77 252.17 L958.59 251.74 L959.41 251.29 L960.23 250.81 L961.06 250.32 L961.88 249.79 L962.7 249.25 L963.53 248.68 L964.35 248.09 L965.17 247.47 L966 246.84 L966.82 246.18 L967.64 245.5 L968.46 244.8 L969.29 244.07 L970.11 243.33 L970.93 242.57 L971.76 241.78 L972.58 240.98 L973.4 240.16 L974.23 239.31 L975.05 238.45 L975.87 237.57 L976.7 236.67 L977.52 235.75 L978.34 234.82 L979.16 233.86 L979.99 232.89 L980.81 231.91 L981.63 230.9 L982.46 229.88 L983.28 228.84 L984.1 227.79 L984.93 226.72 L985.75 225.64 L986.57 224.54 L987.4 223.42 L988.22 222.3 L989.04 221.15 L989.86 220 L990.69 218.83 L991.51 217.64 L992.33 216.45 L993.16 215.24 L993.98 214.02 L994.8 212.78 L995.63 211.54 L996.45 210.28 L997.27 209.01 L998.09 207.73 L998.92 206.44 L999.74 205.14 L1000.56 203.83 L1001.39 202.51 L1002.21 201.17 L1003.03 199.83 L1003.86 198.49 L1004.68 197.13 L1005.5 195.76 L1006.33 194.39 L1007.15 193 L1007.97 191.61 L1008.79 190.22 L1009.62 188.81 L1010.44 187.4 L1011.26 185.98 L1012.09 184.56 L1012.91 183.13 L1013.73 181.69 L1014.56 180.25 L1015.38 178.81 L1016.2 177.36 L1017.03 175.9 L1017.85 174.44 L1018.67 172.98 L1019.49 171.51 L1020.32 170.04 L1021.14 168.57 L1021.96 167.09 L1022.79 165.62 L1023.61 164.13 L1024.43 162.65 L1025.26 161.17 L1026.08 159.68 L1026.9 158.2 L1027.73 156.71 L1028.55 155.22 L1029.37 153.74 L1030.19 152.25 L1031.02 150.76 L1031.84 149.27 L1032.66 147.79 L1033.49 146.3 L1034.31 144.82 L1035.13 143.34 L1035.96 141.86 L1036.78 140.38 L1037.6 138.91 L1038.42 137.43 L1039.25 135.96 L1040.07 134.5 L1040.89 133.03 L1041.72 131.57 L1042.54 130.11 L1043.36 128.66 L1044.19 127.21 L1045.01 125.77 L1045.83 124.33 L1046.66 122.89 L1047.48 121.46 L1048.3 120.04 L1049.12 118.62 L1049.95 117.2 L1050.77 115.8 L1051.59 114.39 L1052.42 113 L1053.24 111.61 L1054.06 110.23 L1054.89 108.86 L1055.71 107.49 L1056.53 106.13 L1057.36 104.78 L1058.18 103.43 L1059 102.1 L1059.82 100.77 L1060.65 99.46 L1061.47 98.15 L1062.29 96.85 L1063.12 95.56 L1063.94 94.28 L1064.76 93.01 L1065.59 91.75 L1066.41 90.5 L1067.23 89.26 L1068.05 88.04 L1068.88 86.82 L1069.7 85.61 L1070.52 84.42 L1071.35 83.24 L1072.17 82.07 L1072.99 80.91 L1073.82 79.77 L1074.64 78.64 L1075.46 77.52 L1076.29 76.41 L1077.11 75.32 L1077.93 74.24 L1078.75 73.18 L1079.58 72.13 L1080.4 71.09 L1081.22 70.07 L1082.05 69.07 L1082.87 68.07 L1083.69 67.1 L1084.52 66.14 L1085.34 65.2 L1086.16 64.27 L1086.99 63.36 L1087.81 62.46 L1088.63 61.58 L1089.45 60.72 L1090.28 59.88 L1091.1 59.05 L1091.92 58.24 L1092.75 57.45 L1093.57 56.68 L1094.39 55.92 L1095.22 55.19 L1096.04 54.47 L1096.86 53.77 L1097.68 53.09 L1098.51 52.44 L1099.33 51.8 L1100.15 51.18 L1100.98 50.58 L1101.8 50 L1102.62 49.44 L1103.45 48.91 L1104.27 48.39 L1105.09 47.9 L1105.92 47.43 L1106.74 46.98 L1107.56 46.55 L1108.38 46.14 L1109.21 45.76 L1110.03 45.4 L1110.85 45.06 L1111.68 44.75 L1112.5 44.46 L1114.2 43.86" fill="none" stroke="#b2000e" stroke-width="2.1" stroke-dasharray="1.8 15.37" stroke-linecap="round"/>
<path d="M775.4 267.6V275M775.96 267.6V275M776.61 267.6V275M777.55 267.6V275M778.12 267.6V275M778.73 267.6V275M779.4 267.6V275M779.75 267.6V275M780.36 267.6V275M781.07 267.6V275M783.74 267.6V275M784.5 267.6V275M784.73 267.6V275M785.72 267.6V275M786.69 267.6V275M787.41 267.6V275M789.87 267.6V275M790.26 267.6V275M790.49 267.6V275M791.06 267.6V275M792.08 267.6V275M793.66 267.6V275M794.79 267.6V275M796.09 267.6V275M796.69 267.6V275M797.42 267.6V275M797.98 267.6V275M798.41 267.6V275M800.2 267.6V275M802 267.6V275M803.58 267.6V275M804.35 267.6V275M804.8 267.6V275M805.18 267.6V275M805.61 267.6V275M805.87 267.6V275M806.69 267.6V275M807.21 267.6V275M808.08 267.6V275M808.59 267.6V275M809.56 267.6V275M810.44 267.6V275M810.64 267.6V275M811.01 267.6V275M811.94 267.6V275M812.52 267.6V275M814.29 267.6V275M815.25 267.6V275M815.75 267.6V275M817.03 267.6V275M818.52 267.6V275M818.94 267.6V275M819.21 267.6V275M819.68 267.6V275M820.65 267.6V275M821.46 267.6V275M821.75 267.6V275M822.15 267.6V275M822.43 267.6V275M822.68 267.6V275M823.52 267.6V275M823.86 267.6V275M824.51 267.6V275M825.07 267.6V275M825.73 267.6V275M827.16 267.6V275M827.74 267.6V275M829.05 267.6V275M829.34 267.6V275M829.88 267.6V275M830.25 267.6V275M830.67 267.6V275M831.64 267.6V275M832.49 267.6V275M832.93 267.6V275M833.84 267.6V275M834.21 267.6V275M834.72 267.6V275M835.61 267.6V275M836.32 267.6V275M836.6 267.6V275M837.6 267.6V275M838.3 267.6V275M839.06 267.6V275M840.54 267.6V275M841.4 267.6V275M841.84 267.6V275M842.1 267.6V275M842.37 267.6V275M843.04 267.6V275M843.43 267.6V275M844.12 267.6V275M844.61 267.6V275M845.18 267.6V275M848.29 267.6V275M848.63 267.6V275M848.96 267.6V275M849.89 267.6V275M850.74 267.6V275M851.14 267.6V275M851.49 267.6V275M852.29 267.6V275M853.24 267.6V275M853.6 267.6V275M854.56 267.6V275M855.47 267.6V275M856.15 267.6V275M856.69 267.6V275M856.97 267.6V275M857.2 267.6V275M858.17 267.6V275M858.56 267.6V275M859.33 267.6V275M859.73 267.6V275M860.59 267.6V275M861.83 267.6V275M862.64 267.6V275M863.29 267.6V275M864.7 267.6V275M865.2 267.6V275M865.58 267.6V275M866.23 267.6V275M867.11 267.6V275M867.8 267.6V275M868.23 267.6V275M869.16 267.6V275M869.53 267.6V275M869.74 267.6V275M870.15 267.6V275M870.71 267.6V275M870.96 267.6V275M871.3 267.6V275M871.8 267.6V275M872.46 267.6V275M872.76 267.6V275M873.25 267.6V275M874.17 267.6V275M875.15 267.6V275M875.88 267.6V275M876.63 267.6V275M877.3 267.6V275M877.61 267.6V275M877.84 267.6V275M878.06 267.6V275M878.98 267.6V275M879.75 267.6V275M880.72 267.6V275M880.93 267.6V275M881.64 267.6V275M882.23 267.6V275M883.02 267.6V275M883.47 267.6V275M884.47 267.6V275M884.73 267.6V275M885.37 267.6V275M886.16 267.6V275M887.08 267.6V275M887.87 267.6V275M888.64 267.6V275M889.47 267.6V275M890.41 267.6V275M890.89 267.6V275M891.64 267.6V275M892.56 267.6V275M893.46 267.6V275M893.99 267.6V275M894.82 267.6V275M895.72 267.6V275M896.37 267.6V275M897.08 267.6V275M897.58 267.6V275M898.25 267.6V275M898.94 267.6V275M899.2 267.6V275M899.91 267.6V275M900.91 267.6V275M903.24 267.6V275M904.18 267.6V275M905.61 267.6V275M906.83 267.6V275M907.84 267.6V275M909.42 267.6V275M909.94 267.6V275M911.39 267.6V275M911.83 267.6V275M913.07 267.6V275M914.15 267.6V275M914.87 267.6V275M916.85 267.6V275M917.54 267.6V275M918.48 267.6V275M918.88 267.6V275M919.09 267.6V275M919.54 267.6V275M920.28 267.6V275M920.64 267.6V275M920.98 267.6V275M921.9 267.6V275M922.63 267.6V275M923.19 267.6V275M924.1 267.6V275M924.56 267.6V275M925.3 267.6V275M925.66 267.6V275M926.2 267.6V275M927.05 267.6V275M927.98 267.6V275M930.06 267.6V275M932.2 267.6V275M933.77 267.6V275M935.36 267.6V275M936.76 267.6V275M938.49 267.6V275M939.28 267.6V275M939.92 267.6V275M940.95 267.6V275M941.74 267.6V275M942.44 267.6V275M943.42 267.6V275M944.7 267.6V275M945.79 267.6V275M946.24 267.6V275M947.11 267.6V275M948.1 267.6V275M948.66 267.6V275M948.92 267.6V275M949.15 267.6V275M951.05 267.6V275M951.71 267.6V275M952.16 267.6V275M952.99 267.6V275M953.2 267.6V275M953.51 267.6V275M954.08 267.6V275M954.3 267.6V275M955.16 267.6V275M955.55 267.6V275M955.87 267.6V275M956.1 267.6V275M956.81 267.6V275M957.37 267.6V275M958.8 267.6V275M959.64 267.6V275M960.61 267.6V275M961.36 267.6V275M961.72 267.6V275M962.3 267.6V275M963.43 267.6V275M964.2 267.6V275M964.55 267.6V275M964.96 267.6V275M965.44 267.6V275M966.2 267.6V275M966.82 267.6V275M967.51 267.6V275M972.73 267.6V275M973.73 267.6V275M974.73 267.6V275M975.73 267.6V275M976.83 267.6V275M979.03 267.6V275M982.54 267.6V275M983.84 267.6V275M984.74 267.6V275M985.74 267.6V275M987.34 267.6V275M992.05 267.6V275M996.55 267.6V275M1001.96 267.6V275M1003.26 267.6V275M1005.46 267.6V275M1007.97 267.6V275M1009.87 267.6V275M1010.67 267.6V275M1011.47 267.6V275M1013.67 267.6V275M1024.19 267.6V275M1024.89 267.6V275M1025.49 267.6V275M1026.69 267.6V275M1027.99 267.6V275M1029.59 267.6V275M1031.79 267.6V275M1034.7 267.6V275M1035.3 267.6V275M1036.6 267.6V275M1037.8 267.6V275M1044.81 267.6V275M1047.01 267.6V275M1052.82 267.6V275M1058.83 267.6V275M1061.03 267.6V275M1062.63 267.6V275M1068.84 267.6V275M1071.74 267.6V275M1076.75 267.6V275M1078.85 267.6V275M1079.75 267.6V275M1085.76 267.6V275M1104.78 267.6V275M1107.78 267.6V275M1112.89 267.6V275M1118.89 267.6V275M1121.8 267.6V275M1123.8 267.6V275" stroke="#000" stroke-width="1"/>
<rect x="761.7" y="31.9" width="375.8" height="243.1" fill="none" stroke="#444" stroke-width="1"/>
<path d="M761.7 40.46V245.86M756.4 245.86H761.7M756.4 204.78H761.7M756.4 163.7H761.7M756.4 122.62H761.7M756.4 81.54H761.7M756.4 40.46H761.7M775.1 275H1058.6M775.1 275V281M869.6 275V281M964.5 275V281M1058.6 275V281" fill="none" stroke="#555" stroke-width="1"/>
<path d="M1137.5 40.3H1142.8M1137.5 148H1142.8M1137.5 264.1H1142.8" fill="none" stroke="#777" stroke-width="0.9"/>
<text transform="translate(753 251.55) rotate(-90)" style="font-family:'DejaVu Sans', sans-serif;font-size:11.5px;">-4</text>
<text transform="translate(753 210.21) rotate(-90)" style="font-family:'DejaVu Sans', sans-serif;font-size:11.5px;">-2</text>
<text transform="translate(753 167.35) rotate(-90)" style="font-family:'DejaVu Sans', sans-serif;font-size:11.5px;">0</text>
<text transform="translate(753 126.13) rotate(-90)" style="font-family:'DejaVu Sans', sans-serif;font-size:11.5px;">2</text>
<text transform="translate(753 85.16) rotate(-90)" style="font-family:'DejaVu Sans', sans-serif;font-size:11.5px;">4</text>
<text transform="translate(753 44.17) rotate(-90)" style="font-family:'DejaVu Sans', sans-serif;font-size:11.5px;">6</text>
<text x="772.05" y="294.9" style="font-family:'DejaVu Sans', sans-serif;font-size:11.5px;">0</text>
<text x="861.56" y="294.9" style="font-family:'DejaVu Sans', sans-serif;font-size:11.5px;">200</text>
<text x="955.8" y="294.9" style="font-family:'DejaVu Sans', sans-serif;font-size:11.5px;">400</text>
<text x="1051.19" y="294.9" style="font-family:'DejaVu Sans', sans-serif;font-size:11.5px;">600</text>
<text transform="translate(735.01 205.71) rotate(-90)" style="font-family:'DejaVu Sans', sans-serif;font-size:14px;">Partial Effect</text>
<text x="861.95" y="315.6" style="font-family:'DejaVu Sans', sans-serif;font-size:14px;">Minutes After the High Tide</text>
<text transform="translate(1165.29 116.37) rotate(90)" style="font-family:'DejaVu Sans', sans-serif;font-size:14px;">Tidal State</text>
<text transform="translate(1150.57 31.42) rotate(90) scale(1 1.12)" style="font-family:'DejaVu Sans', sans-serif;font-size:11.3px;">High</text>
<text transform="translate(1147.89 140.91) rotate(90) scale(1 1.12)" style="font-family:'DejaVu Sans', sans-serif;font-size:11.3px;">Mid</text>
<text transform="translate(1147.38 251.86) rotate(90) scale(1 1.12)" style="font-family:'DejaVu Sans', sans-serif;font-size:11.3px;">Low</text>
<text x="709.72" y="24" style="font-family:'Liberation Sans', Arial, sans-serif;font-size:29px;font-weight:bold;">B</text>
<text x="871.15" y="48.6" style="font-family:'DejaVu Sans', sans-serif;font-size:11.8px;font-style:italic;">S. tigrinum</text></g>
<g><path d="M1243.2 71.62 L1245.38 71.61 L1247.56 71.74 L1249.74 72.01 L1251.92 72.41 L1254.11 72.96 L1256.29 73.63 L1258.47 74.43 L1260.65 75.35 L1262.83 76.39 L1265.01 77.55 L1267.19 78.83 L1269.37 80.21 L1271.55 81.7 L1273.74 83.3 L1275.92 84.99 L1278.1 86.78 L1280.28 88.66 L1282.46 90.64 L1284.64 92.7 L1286.82 94.84 L1289 97.07 L1291.18 99.37 L1293.37 101.74 L1295.55 104.19 L1297.73 106.7 L1299.91 109.27 L1302.09 111.91 L1304.27 114.6 L1306.45 117.34 L1308.63 120.13 L1310.82 122.97 L1313 125.85 L1315.18 128.78 L1317.36 131.73 L1319.54 134.73 L1321.72 137.75 L1323.9 140.79 L1326.08 143.86 L1328.26 146.95 L1330.45 150.06 L1332.63 153.18 L1334.81 156.31 L1336.99 159.44 L1339.17 162.58 L1341.35 165.71 L1343.53 168.84 L1345.71 171.95 L1347.89 175.04 L1350.08 178.1 L1352.26 181.13 L1354.44 184.12 L1356.62 187.06 L1358.8 189.94 L1360.98 192.77 L1363.16 195.53 L1365.34 198.22 L1367.52 200.82 L1369.71 203.35 L1371.89 205.78 L1374.07 208.11 L1376.25 210.34 L1378.43 212.45 L1380.61 214.45 L1382.79 216.33 L1384.97 218.07 L1387.15 219.68 L1389.34 221.14 L1391.52 222.45 L1393.7 223.61 L1395.88 224.63 L1398.06 225.49 L1400.24 226.22 L1402.42 226.79 L1404.6 227.23 L1406.78 227.52 L1408.97 227.67 L1411.15 227.69 L1413.33 227.57 L1415.51 227.31 L1417.69 226.93 L1419.87 226.41 L1422.05 225.76 L1424.23 224.98 L1426.42 224.08 L1428.6 223.06 L1430.78 221.91 L1432.96 220.66 L1435.14 219.29 L1437.32 217.82 L1439.5 216.25 L1441.68 214.59 L1443.86 212.83 L1446.05 210.99 L1448.23 209.07 L1450.41 207.07 L1452.59 204.99 L1454.77 202.85 L1456.95 200.65 L1459.13 198.38 L1461.31 196.06 L1463.49 193.69 L1465.68 191.28 L1467.86 188.82 L1470.04 186.32 L1472.22 183.79 L1474.4 181.23 L1476.58 178.63 L1478.76 176.01 L1480.94 173.36 L1483.12 170.68 L1485.31 167.99 L1487.49 165.27 L1489.67 162.54 L1491.85 159.8 L1494.03 157.04 L1496.21 154.28 L1498.39 151.51 L1500.57 148.73 L1502.75 145.95 L1504.94 143.17 L1507.12 140.4 L1509.3 137.63 L1511.48 134.87 L1513.66 132.12 L1515.84 129.38 L1518.02 126.65 L1520.2 123.95 L1522.38 121.27 L1524.57 118.62 L1526.75 116.01 L1528.93 113.42 L1531.11 110.88 L1533.29 108.39 L1535.47 105.94 L1537.65 103.54 L1539.83 101.21 L1542.02 98.93 L1544.2 96.72 L1546.38 94.57 L1548.56 92.5 L1550.74 90.51 L1552.92 88.6 L1555.1 86.77 L1557.28 85.03 L1559.46 83.38 L1561.65 81.83 L1563.83 80.38 L1566.01 79.03 L1568.19 77.78 L1570.37 76.63 L1572.55 75.59 L1574.73 74.66 L1576.91 73.85 L1579.09 73.15 L1581.28 72.56 L1583.46 72.1 L1585.64 71.76 L1587.82 71.55 L1590 71.46" fill="none" stroke="#222" stroke-width="1"/>
<path d="M1243.2 43.41 L1245.38 43.57 L1247.56 43.9 L1249.74 44.4 L1251.92 45.06 L1254.11 45.87 L1256.29 46.85 L1258.47 47.97 L1260.65 49.23 L1262.83 50.63 L1265.01 52.16 L1267.19 53.82 L1269.37 55.61 L1271.55 57.51 L1273.74 59.53 L1275.92 61.65 L1278.1 63.88 L1280.28 66.21 L1282.46 68.63 L1284.64 71.14 L1286.82 73.74 L1289 76.41 L1291.18 79.16 L1293.37 81.97 L1295.55 84.85 L1297.73 87.79 L1299.91 90.79 L1302.09 93.83 L1304.27 96.92 L1306.45 100.05 L1308.63 103.21 L1310.82 106.4 L1313 109.62 L1315.18 112.85 L1317.36 116.11 L1319.54 119.37 L1321.72 122.64 L1323.9 125.91 L1326.08 129.17 L1328.26 132.42 L1330.45 135.66 L1332.63 138.88 L1334.81 142.08 L1336.99 145.24 L1339.17 148.38 L1341.35 151.47 L1343.53 154.51 L1345.71 157.51 L1347.89 160.45 L1350.08 163.33 L1352.26 166.14 L1354.44 168.89 L1356.62 171.56 L1358.8 174.16 L1360.98 176.67 L1363.16 179.1 L1365.34 181.43 L1367.52 183.67 L1369.71 185.82 L1371.89 187.85 L1374.07 189.78 L1376.25 191.59 L1378.43 193.29 L1380.61 194.86 L1382.79 196.31 L1384.97 197.62 L1387.15 198.8 L1389.34 199.84 L1391.52 200.73 L1393.7 201.48 L1395.88 202.09 L1398.06 202.57 L1400.24 202.91 L1402.42 203.12 L1404.6 203.21 L1406.78 203.17 L1408.97 203.02 L1411.15 202.75 L1413.33 202.37 L1415.51 201.88 L1417.69 201.29 L1419.87 200.59 L1422.05 199.8 L1424.23 198.9 L1426.42 197.9 L1428.6 196.81 L1430.78 195.62 L1432.96 194.33 L1435.14 192.96 L1437.32 191.49 L1439.5 189.94 L1441.68 188.31 L1443.86 186.59 L1446.05 184.8 L1448.23 182.93 L1450.41 180.99 L1452.59 178.98 L1454.77 176.9 L1456.95 174.76 L1459.13 172.56 L1461.31 170.31 L1463.49 168 L1465.68 165.65 L1467.86 163.25 L1470.04 160.82 L1472.22 158.34 L1474.4 155.83 L1476.58 153.28 L1478.76 150.7 L1480.94 148.09 L1483.12 145.45 L1485.31 142.78 L1487.49 140.09 L1489.67 137.37 L1491.85 134.64 L1494.03 131.88 L1496.21 129.11 L1498.39 126.32 L1500.57 123.51 L1502.75 120.7 L1504.94 117.87 L1507.12 115.04 L1509.3 112.2 L1511.48 109.37 L1513.66 106.53 L1515.84 103.7 L1518.02 100.89 L1520.2 98.08 L1522.38 95.3 L1524.57 92.54 L1526.75 89.81 L1528.93 87.11 L1531.11 84.45 L1533.29 81.83 L1535.47 79.26 L1537.65 76.74 L1539.83 74.28 L1542.02 71.88 L1544.2 69.55 L1546.38 67.28 L1548.56 65.1 L1550.74 62.99 L1552.92 60.97 L1555.1 59.04 L1557.28 57.2 L1559.46 55.46 L1561.65 53.82 L1563.83 52.29 L1566.01 50.86 L1568.19 49.55 L1570.37 48.35 L1572.55 47.26 L1574.73 46.3 L1576.91 45.46 L1579.09 44.75 L1581.28 44.17 L1583.46 43.72 L1585.64 43.4 L1587.82 43.23 L1590 43.2" fill="none" stroke="#333" stroke-width="1" stroke-dasharray="2 2.3"/>
<path d="M1243.2 99.83 L1245.38 99.64 L1247.56 99.58 L1249.74 99.62 L1251.92 99.77 L1254.11 100.04 L1256.29 100.41 L1258.47 100.89 L1260.65 101.47 L1262.83 102.16 L1265.01 102.95 L1267.19 103.83 L1269.37 104.81 L1271.55 105.89 L1273.74 107.06 L1275.92 108.32 L1278.1 109.68 L1280.28 111.12 L1282.46 112.65 L1284.64 114.26 L1286.82 115.95 L1289 117.73 L1291.18 119.58 L1293.37 121.52 L1295.55 123.52 L1297.73 125.6 L1299.91 127.76 L1302.09 129.98 L1304.27 132.27 L1306.45 134.63 L1308.63 137.06 L1310.82 139.54 L1313 142.09 L1315.18 144.7 L1317.36 147.36 L1319.54 150.08 L1321.72 152.86 L1323.9 155.68 L1326.08 158.56 L1328.26 161.48 L1330.45 164.46 L1332.63 167.47 L1334.81 170.53 L1336.99 173.64 L1339.17 176.78 L1341.35 179.96 L1343.53 183.16 L1345.71 186.39 L1347.89 189.63 L1350.08 192.87 L1352.26 196.11 L1354.44 199.34 L1356.62 202.55 L1358.8 205.73 L1360.98 208.87 L1363.16 211.96 L1365.34 215 L1367.52 217.97 L1369.71 220.88 L1371.89 223.7 L1374.07 226.44 L1376.25 229.08 L1378.43 231.62 L1380.61 234.04 L1382.79 236.34 L1384.97 238.52 L1387.15 240.55 L1389.34 242.44 L1391.52 244.17 L1393.7 245.75 L1395.88 247.16 L1398.06 248.42 L1400.24 249.52 L1402.42 250.46 L1404.6 251.24 L1406.78 251.86 L1408.97 252.33 L1411.15 252.63 L1413.33 252.77 L1415.51 252.75 L1417.69 252.57 L1419.87 252.22 L1422.05 251.72 L1424.23 251.07 L1426.42 250.26 L1428.6 249.3 L1430.78 248.21 L1432.96 246.98 L1435.14 245.63 L1437.32 244.16 L1439.5 242.57 L1441.68 240.87 L1443.86 239.08 L1446.05 237.19 L1448.23 235.21 L1450.41 233.15 L1452.59 231.01 L1454.77 228.8 L1456.95 226.53 L1459.13 224.2 L1461.31 221.82 L1463.49 219.38 L1465.68 216.9 L1467.86 214.39 L1470.04 211.83 L1472.22 209.24 L1474.4 206.63 L1476.58 203.98 L1478.76 201.31 L1480.94 198.63 L1483.12 195.92 L1485.31 193.19 L1487.49 190.46 L1489.67 187.71 L1491.85 184.96 L1494.03 182.21 L1496.21 179.45 L1498.39 176.7 L1500.57 173.95 L1502.75 171.21 L1504.94 168.48 L1507.12 165.76 L1509.3 163.06 L1511.48 160.37 L1513.66 157.7 L1515.84 155.05 L1518.02 152.42 L1520.2 149.82 L1522.38 147.25 L1524.57 144.71 L1526.75 142.21 L1528.93 139.74 L1531.11 137.32 L1533.29 134.94 L1535.47 132.62 L1537.65 130.35 L1539.83 128.13 L1542.02 125.98 L1544.2 123.89 L1546.38 121.86 L1548.56 119.91 L1550.74 118.03 L1552.92 116.22 L1555.1 114.5 L1557.28 112.86 L1559.46 111.31 L1561.65 109.85 L1563.83 108.47 L1566.01 107.19 L1568.19 106 L1570.37 104.91 L1572.55 103.92 L1574.73 103.03 L1576.91 102.23 L1579.09 101.55 L1581.28 100.96 L1583.46 100.49 L1585.64 100.12 L1587.82 99.87 L1590 99.73" fill="none" stroke="#333" stroke-width="1" stroke-dasharray="2 2.3"/>
<path d="M1250.51 49.68 L1251.4 49.83 L1252.22 49.97 L1253.04 50.14 L1253.87 50.34 L1254.69 50.57 L1255.51 50.83 L1256.33 51.12 L1257.16 51.44 L1257.98 51.79 L1258.8 52.17 L1259.62 52.57 L1260.45 53 L1261.27 53.46 L1262.09 53.95 L1262.91 54.47 L1263.73 55.01 L1264.56 55.58 L1265.38 56.17 L1266.2 56.79 L1267.02 57.43 L1267.85 58.1 L1268.67 58.8 L1269.49 59.52 L1270.31 60.26 L1271.14 61.02 L1271.96 61.81 L1272.78 62.63 L1273.6 63.46 L1274.42 64.32 L1275.25 65.2 L1276.07 66.1 L1276.89 67.03 L1277.71 67.97 L1278.54 68.94 L1279.36 69.92 L1280.18 70.93 L1281 71.96 L1281.83 73 L1282.65 74.07 L1283.47 75.15 L1284.29 76.25 L1285.11 77.37 L1285.94 78.51 L1286.76 79.67 L1287.58 80.84 L1288.4 82.03 L1289.23 83.24 L1290.05 84.46 L1290.87 85.7 L1291.69 86.96 L1292.52 88.23 L1293.34 89.51 L1294.16 90.81 L1294.98 92.13 L1295.8 93.45 L1296.63 94.8 L1297.45 96.15 L1298.27 97.52 L1299.09 98.9 L1299.92 100.3 L1300.74 101.7 L1301.56 103.12 L1302.38 104.55 L1303.21 105.99 L1304.03 107.44 L1304.85 108.9 L1305.67 110.37 L1306.49 111.86 L1307.32 113.35 L1308.14 114.85 L1308.96 116.36 L1309.78 117.88 L1310.61 119.4 L1311.43 120.94 L1312.25 122.48 L1313.07 124.03 L1313.9 125.58 L1314.72 127.15 L1315.54 128.72 L1316.36 130.29 L1317.18 131.87 L1318.01 133.46 L1318.83 135.05 L1319.65 136.64 L1320.47 138.24 L1321.3 139.85 L1322.12 141.46 L1322.94 143.07 L1323.76 144.68 L1324.59 146.3 L1325.41 147.92 L1326.23 149.54 L1327.05 151.16 L1327.87 152.79 L1328.7 154.42 L1329.52 156.04 L1330.34 157.67 L1331.16 159.3 L1331.99 160.92 L1332.81 162.55 L1333.63 164.18 L1334.45 165.8 L1335.28 167.43 L1336.1 169.05 L1336.92 170.66 L1337.74 172.28 L1338.56 173.89 L1339.39 175.5 L1340.21 177.1 L1341.03 178.7 L1341.85 180.3 L1342.68 181.89 L1343.5 183.47 L1344.32 185.05 L1345.14 186.62 L1345.97 188.18 L1346.79 189.74 L1347.61 191.29 L1348.43 192.83 L1349.25 194.36 L1350.08 195.89 L1350.9 197.4 L1351.72 198.9 L1352.54 200.4 L1353.37 201.88 L1354.19 203.35 L1355.01 204.82 L1355.83 206.26 L1356.66 207.7 L1357.48 209.13 L1358.3 210.54 L1359.12 211.94 L1359.94 213.32 L1360.77 214.69 L1361.59 216.05 L1362.41 217.39 L1363.23 218.72 L1364.06 220.03 L1364.88 221.32 L1365.7 222.6 L1366.52 223.86 L1367.35 225.11 L1368.17 226.33 L1368.99 227.54 L1369.81 228.74 L1370.63 229.91 L1371.46 231.07 L1372.28 232.21 L1373.1 233.33 L1373.92 234.44 L1374.75 235.52 L1375.57 236.59 L1376.39 237.63 L1377.21 238.66 L1378.04 239.67 L1378.86 240.66 L1379.68 241.63 L1380.5 242.57 L1381.32 243.5 L1382.15 244.41 L1382.97 245.3 L1383.79 246.16 L1384.61 247.01 L1385.44 247.83 L1386.26 248.64 L1387.08 249.42 L1387.9 250.17 L1388.73 250.91 L1389.55 251.62 L1390.37 252.32 L1391.19 252.98 L1392.01 253.63 L1392.84 254.25 L1393.66 254.85 L1394.48 255.43 L1395.3 255.98 L1396.13 256.5 L1396.95 257.01 L1397.77 257.49 L1398.59 257.94 L1399.42 258.37 L1400.24 258.77 L1401.06 259.15 L1401.88 259.5 L1402.7 259.83 L1403.53 260.13 L1404.35 260.41 L1405.17 260.65 L1405.99 260.88 L1406.82 261.07 L1407.64 261.24 L1408.46 261.38 L1409.28 261.5 L1410.11 261.58 L1410.93 261.64 L1411.75 261.67 L1412.57 261.67 L1413.39 261.64 L1414.22 261.59 L1415.04 261.5 L1415.86 261.39 L1416.68 261.25 L1417.51 261.08 L1418.33 260.89 L1419.15 260.66 L1419.97 260.41 L1420.79 260.14 L1421.62 259.83 L1422.44 259.5 L1423.26 259.15 L1424.08 258.76 L1424.91 258.36 L1425.73 257.93 L1426.55 257.47 L1427.37 256.99 L1428.2 256.49 L1429.02 255.96 L1429.84 255.4 L1430.66 254.83 L1431.48 254.23 L1432.31 253.61 L1433.13 252.97 L1433.95 252.3 L1434.77 251.62 L1435.6 250.91 L1436.42 250.18 L1437.24 249.43 L1438.06 248.66 L1438.89 247.86 L1439.71 247.05 L1440.53 246.22 L1441.35 245.37 L1442.17 244.5 L1443 243.61 L1443.82 242.7 L1444.64 241.78 L1445.46 240.84 L1446.29 239.87 L1447.11 238.9 L1447.93 237.9 L1448.75 236.89 L1449.58 235.86 L1450.4 234.81 L1451.22 233.75 L1452.04 232.67 L1452.86 231.58 L1453.69 230.47 L1454.51 229.35 L1455.33 228.22 L1456.15 227.07 L1456.98 225.9 L1457.8 224.72 L1458.62 223.53 L1459.44 222.33 L1460.27 221.11 L1461.09 219.88 L1461.91 218.64 L1462.73 217.38 L1463.55 216.12 L1464.38 214.84 L1465.2 213.55 L1466.02 212.25 L1466.84 210.94 L1467.67 209.63 L1468.49 208.3 L1469.31 206.96 L1470.13 205.61 L1470.96 204.25 L1471.78 202.89 L1472.6 201.51 L1473.42 200.13 L1474.24 198.74 L1475.07 197.35 L1475.89 195.94 L1476.71 194.53 L1477.53 193.11 L1478.36 191.69 L1479.18 190.26 L1480 188.82 L1480.82 187.38 L1481.65 185.94 L1482.47 184.48 L1483.29 183.03 L1484.11 181.57 L1484.93 180.1 L1485.76 178.64 L1486.58 177.16 L1487.4 175.69 L1488.22 174.21 L1489.05 172.73 L1489.87 171.25 L1490.69 169.77 L1491.51 168.28 L1492.34 166.79 L1493.16 165.3 L1493.98 163.81 L1494.8 162.33 L1495.62 160.84 L1496.45 159.35 L1497.27 157.86 L1498.09 156.37 L1498.91 154.88 L1499.74 153.39 L1500.56 151.91 L1501.38 150.42 L1502.2 148.94 L1503.03 147.46 L1503.85 145.98 L1504.67 144.51 L1505.49 143.03 L1506.31 141.56 L1507.14 140.1 L1507.96 138.63 L1508.78 137.17 L1509.6 135.72 L1510.43 134.26 L1511.25 132.81 L1512.07 131.37 L1512.89 129.93 L1513.72 128.5 L1514.54 127.07 L1515.36 125.65 L1516.18 124.23 L1517 122.82 L1517.83 121.41 L1518.65 120.01 L1519.47 118.62 L1520.29 117.23 L1521.12 115.85 L1521.94 114.48 L1522.76 113.11 L1523.58 111.76 L1524.41 110.41 L1525.23 109.07 L1526.05 107.73 L1526.87 106.41 L1527.69 105.1 L1528.52 103.79 L1529.34 102.49 L1530.16 101.2 L1530.98 99.93 L1531.81 98.66 L1532.63 97.4 L1533.45 96.15 L1534.27 94.92 L1535.1 93.69 L1535.92 92.48 L1536.74 91.27 L1537.56 90.08 L1538.38 88.9 L1539.21 87.73 L1540.03 86.57 L1540.85 85.43 L1541.67 84.3 L1542.5 83.18 L1543.32 82.08 L1544.14 80.98 L1544.96 79.91 L1545.79 78.84 L1546.61 77.79 L1547.43 76.76 L1548.25 75.73 L1549.07 74.73 L1549.9 73.74 L1550.72 72.76 L1551.54 71.8 L1552.36 70.85 L1553.19 69.92 L1554.01 69.01 L1554.83 68.11 L1555.65 67.23 L1556.48 66.37 L1557.3 65.52 L1558.12 64.69 L1558.94 63.88 L1559.76 63.08 L1560.59 62.3 L1561.41 61.54 L1562.23 60.8 L1563.05 60.08 L1563.88 59.38 L1564.7 58.69 L1565.52 58.03 L1566.34 57.38 L1567.17 56.76 L1567.99 56.15 L1568.81 55.57 L1569.63 55 L1570.45 54.46 L1571.28 53.93 L1572.1 53.43 L1572.92 52.95 L1573.74 52.49 L1574.57 52.05 L1575.39 51.63 L1576.21 51.24 L1577.03 50.87 L1577.86 50.52 L1578.68 50.19 L1579.5 49.89 L1581.19 49.27" fill="none" stroke="#b2000e" stroke-width="2.1" stroke-dasharray="1.8 15.39" stroke-linecap="round"/>
<path d="M1243.2 268.1V275.5M1243.76 268.1V275.5M1244.4 268.1V275.5M1245.34 268.1V275.5M1245.91 268.1V275.5M1246.51 268.1V275.5M1247.18 268.1V275.5M1247.53 268.1V275.5M1248.14 268.1V275.5M1248.84 268.1V275.5M1251.5 268.1V275.5M1252.25 268.1V275.5M1252.48 268.1V275.5M1253.46 268.1V275.5M1254.43 268.1V275.5M1255.15 268.1V275.5M1257.6 268.1V275.5M1257.99 268.1V275.5M1258.21 268.1V275.5M1258.78 268.1V275.5M1259.79 268.1V275.5M1261.37 268.1V275.5M1262.49 268.1V275.5M1263.78 268.1V275.5M1264.38 268.1V275.5M1265.1 268.1V275.5M1265.67 268.1V275.5M1266.09 268.1V275.5M1267.88 268.1V275.5M1269.66 268.1V275.5M1271.23 268.1V275.5M1272 268.1V275.5M1272.45 268.1V275.5M1272.83 268.1V275.5M1273.26 268.1V275.5M1273.51 268.1V275.5M1274.32 268.1V275.5M1274.84 268.1V275.5M1275.72 268.1V275.5M1276.22 268.1V275.5M1277.19 268.1V275.5M1278.06 268.1V275.5M1278.26 268.1V275.5M1278.63 268.1V275.5M1279.55 268.1V275.5M1280.12 268.1V275.5M1281.89 268.1V275.5M1282.84 268.1V275.5M1283.34 268.1V275.5M1284.62 268.1V275.5M1286.1 268.1V275.5M1286.52 268.1V275.5M1286.78 268.1V275.5M1287.25 268.1V275.5M1288.22 268.1V275.5M1289.02 268.1V275.5M1289.31 268.1V275.5M1289.71 268.1V275.5M1289.99 268.1V275.5M1290.23 268.1V275.5M1291.07 268.1V275.5M1291.41 268.1V275.5M1292.05 268.1V275.5M1292.61 268.1V275.5M1293.27 268.1V275.5M1294.69 268.1V275.5M1295.27 268.1V275.5M1296.57 268.1V275.5M1296.86 268.1V275.5M1297.4 268.1V275.5M1297.77 268.1V275.5M1298.18 268.1V275.5M1299.15 268.1V275.5M1299.99 268.1V275.5M1300.43 268.1V275.5M1301.34 268.1V275.5M1301.71 268.1V275.5M1302.22 268.1V275.5M1303.1 268.1V275.5M1303.81 268.1V275.5M1304.09 268.1V275.5M1305.08 268.1V275.5M1305.77 268.1V275.5M1306.53 268.1V275.5M1308.01 268.1V275.5M1308.86 268.1V275.5M1309.3 268.1V275.5M1309.56 268.1V275.5M1309.83 268.1V275.5M1310.49 268.1V275.5M1310.88 268.1V275.5M1311.56 268.1V275.5M1312.06 268.1V275.5M1312.62 268.1V275.5M1315.71 268.1V275.5M1316.06 268.1V275.5M1316.38 268.1V275.5M1317.3 268.1V275.5M1318.15 268.1V275.5M1318.55 268.1V275.5M1318.9 268.1V275.5M1319.69 268.1V275.5M1320.64 268.1V275.5M1320.99 268.1V275.5M1321.95 268.1V275.5M1322.85 268.1V275.5M1323.53 268.1V275.5M1324.07 268.1V275.5M1324.35 268.1V275.5M1324.58 268.1V275.5M1325.55 268.1V275.5M1325.93 268.1V275.5M1326.69 268.1V275.5M1327.1 268.1V275.5M1327.95 268.1V275.5M1329.18 268.1V275.5M1329.99 268.1V275.5M1330.63 268.1V275.5M1332.04 268.1V275.5M1332.53 268.1V275.5M1332.91 268.1V275.5M1333.56 268.1V275.5M1334.44 268.1V275.5M1335.13 268.1V275.5M1335.55 268.1V275.5M1336.48 268.1V275.5M1336.84 268.1V275.5M1337.05 268.1V275.5M1337.47 268.1V275.5M1338.02 268.1V275.5M1338.27 268.1V275.5M1338.61 268.1V275.5M1339.1 268.1V275.5M1339.76 268.1V275.5M1340.06 268.1V275.5M1340.55 268.1V275.5M1341.46 268.1V275.5M1342.44 268.1V275.5M1343.16 268.1V275.5M1343.91 268.1V275.5M1344.57 268.1V275.5M1344.88 268.1V275.5M1345.11 268.1V275.5M1345.33 268.1V275.5M1346.25 268.1V275.5M1347.01 268.1V275.5M1347.97 268.1V275.5M1348.19 268.1V275.5M1348.9 268.1V275.5M1349.48 268.1V275.5M1350.26 268.1V275.5M1350.71 268.1V275.5M1351.71 268.1V275.5M1351.97 268.1V275.5M1352.6 268.1V275.5M1353.39 268.1V275.5M1354.31 268.1V275.5M1355.09 268.1V275.5M1355.85 268.1V275.5M1356.68 268.1V275.5M1357.61 268.1V275.5M1358.09 268.1V275.5M1358.84 268.1V275.5M1359.75 268.1V275.5M1360.65 268.1V275.5M1361.18 268.1V275.5M1362.01 268.1V275.5M1362.89 268.1V275.5M1363.55 268.1V275.5M1364.25 268.1V275.5M1364.75 268.1V275.5M1365.41 268.1V275.5M1366.1 268.1V275.5M1366.36 268.1V275.5M1367.07 268.1V275.5M1368.06 268.1V275.5M1370.38 268.1V275.5M1371.32 268.1V275.5M1372.74 268.1V275.5M1373.95 268.1V275.5M1374.96 268.1V275.5M1376.53 268.1V275.5M1377.04 268.1V275.5M1378.49 268.1V275.5M1378.93 268.1V275.5M1380.16 268.1V275.5M1381.23 268.1V275.5M1381.95 268.1V275.5M1383.92 268.1V275.5M1384.61 268.1V275.5M1385.54 268.1V275.5M1385.94 268.1V275.5M1386.15 268.1V275.5M1386.59 268.1V275.5M1387.33 268.1V275.5M1387.69 268.1V275.5M1388.03 268.1V275.5M1388.95 268.1V275.5M1389.67 268.1V275.5M1390.22 268.1V275.5M1391.13 268.1V275.5M1391.59 268.1V275.5M1392.32 268.1V275.5M1392.68 268.1V275.5M1393.22 268.1V275.5M1394.06 268.1V275.5M1394.99 268.1V275.5M1397.06 268.1V275.5M1399.19 268.1V275.5M1400.76 268.1V275.5M1402.34 268.1V275.5M1403.73 268.1V275.5M1405.45 268.1V275.5M1406.24 268.1V275.5M1406.87 268.1V275.5M1407.9 268.1V275.5M1408.68 268.1V275.5M1409.38 268.1V275.5M1410.35 268.1V275.5M1411.62 268.1V275.5M1412.71 268.1V275.5M1413.16 268.1V275.5M1414.03 268.1V275.5M1415.01 268.1V275.5M1415.57 268.1V275.5M1415.83 268.1V275.5M1416.05 268.1V275.5M1417.94 268.1V275.5M1418.6 268.1V275.5M1419.04 268.1V275.5M1419.87 268.1V275.5M1420.09 268.1V275.5M1420.39 268.1V275.5M1420.96 268.1V275.5M1421.17 268.1V275.5M1422.03 268.1V275.5M1422.42 268.1V275.5M1422.73 268.1V275.5M1422.97 268.1V275.5M1423.67 268.1V275.5M1424.23 268.1V275.5M1425.65 268.1V275.5M1426.49 268.1V275.5M1427.45 268.1V275.5M1428.2 268.1V275.5M1428.56 268.1V275.5M1429.13 268.1V275.5M1430.26 268.1V275.5M1431.03 268.1V275.5M1431.37 268.1V275.5M1431.79 268.1V275.5M1432.26 268.1V275.5M1433.02 268.1V275.5M1433.63 268.1V275.5M1434.32 268.1V275.5M1439.51 268.1V275.5M1440.5 268.1V275.5M1441.5 268.1V275.5M1442.5 268.1V275.5M1443.59 268.1V275.5M1445.78 268.1V275.5M1449.27 268.1V275.5M1450.56 268.1V275.5M1451.46 268.1V275.5M1452.46 268.1V275.5M1454.05 268.1V275.5M1458.73 268.1V275.5M1463.21 268.1V275.5M1468.59 268.1V275.5M1469.88 268.1V275.5M1472.08 268.1V275.5M1474.57 268.1V275.5M1476.46 268.1V275.5M1477.26 268.1V275.5M1478.05 268.1V275.5M1480.24 268.1V275.5M1490.7 268.1V275.5M1491.4 268.1V275.5M1492 268.1V275.5M1493.19 268.1V275.5M1494.49 268.1V275.5M1496.08 268.1V275.5M1498.27 268.1V275.5M1501.16 268.1V275.5M1501.76 268.1V275.5M1503.05 268.1V275.5M1504.25 268.1V275.5M1511.22 268.1V275.5M1513.41 268.1V275.5M1519.19 268.1V275.5M1525.16 268.1V275.5M1527.35 268.1V275.5M1528.95 268.1V275.5M1535.12 268.1V275.5M1538.01 268.1V275.5M1542.99 268.1V275.5M1545.08 268.1V275.5M1545.98 268.1V275.5M1551.95 268.1V275.5M1570.88 268.1V275.5M1573.87 268.1V275.5M1578.94 268.1V275.5M1584.92 268.1V275.5M1587.81 268.1V275.5M1589.8 268.1V275.5" stroke="#000" stroke-width="1"/>
<rect x="1229.4" y="33.3" width="374.1" height="242.2" fill="none" stroke="#444" stroke-width="1"/>
<path d="M1229.4 42.35V266.35M1224.1 266.35H1229.4M1224.1 210.35H1229.4M1224.1 154.35H1229.4M1224.1 98.35H1229.4M1224.1 42.35H1229.4M1242.5 275.5H1525.1M1242.5 275.5V281.5M1336.6 275.5V281.5M1431 275.5V281.5M1525.1 275.5V281.5" fill="none" stroke="#555" stroke-width="1"/>
<path d="M1603.5 40.6H1608.8M1603.5 148.5H1608.8M1603.5 264.2H1608.8" fill="none" stroke="#777" stroke-width="0.9"/>
<text transform="translate(1221.3 271.78) rotate(-90)" style="font-family:'DejaVu Sans', sans-serif;font-size:11.5px;">-2</text>
<text transform="translate(1221.3 215.84) rotate(-90)" style="font-family:'DejaVu Sans', sans-serif;font-size:11.5px;">-1</text>
<text transform="translate(1221.3 158) rotate(-90)" style="font-family:'DejaVu Sans', sans-serif;font-size:11.5px;">0</text>
<text transform="translate(1221.3 102.12) rotate(-90)" style="font-family:'DejaVu Sans', sans-serif;font-size:11.5px;">1</text>
<text transform="translate(1221.3 45.86) rotate(-90)" style="font-family:'DejaVu Sans', sans-serif;font-size:11.5px;">2</text>
<text x="1238.05" y="294.9" style="font-family:'DejaVu Sans', sans-serif;font-size:11.5px;">0</text>
<text x="1327.16" y="294.9" style="font-family:'DejaVu Sans', sans-serif;font-size:11.5px;">200</text>
<text x="1421.6" y="294.9" style="font-family:'DejaVu Sans', sans-serif;font-size:11.5px;">400</text>
<text x="1516.99" y="294.9" style="font-family:'DejaVu Sans', sans-serif;font-size:11.5px;">600</text>
<text transform="translate(1204.06 205.71) rotate(-90)" style="font-family:'DejaVu Sans', sans-serif;font-size:14px;">Partial Effect</text>
<text x="1327.9" y="315.5" style="font-family:'DejaVu Sans', sans-serif;font-size:14px;">Minutes After the High Tide</text>
<text transform="translate(1633.49 116.32) rotate(90)" style="font-family:'DejaVu Sans', sans-serif;font-size:14px;">Tidal State</text>
<text transform="translate(1616.72 31.22) rotate(90) scale(1 1.12)" style="font-family:'DejaVu Sans', sans-serif;font-size:11.3px;">High</text>
<text transform="translate(1613.99 140.91) rotate(90) scale(1 1.12)" style="font-family:'DejaVu Sans', sans-serif;font-size:11.3px;">Mid</text>
<text transform="translate(1613.78 251.56) rotate(90) scale(1 1.12)" style="font-family:'DejaVu Sans', sans-serif;font-size:11.3px;">Low</text>
<text x="1183.94" y="24" style="font-family:'Liberation Sans', Arial, sans-serif;font-size:29px;font-weight:bold;">C</text>
<text x="1310.13" y="48.5" style="font-family:'DejaVu Sans', sans-serif;font-size:11.8px;font-style:italic;">T. obesus</text></g>
<g><path d="M71.3 448.54 L73.47 449.72 L75.64 451.02 L77.81 452.43 L79.98 453.94 L82.16 455.54 L84.33 457.23 L86.5 459.01 L88.67 460.86 L90.84 462.78 L93.01 464.78 L95.18 466.83 L97.35 468.93 L99.52 471.08 L101.69 473.27 L103.87 475.5 L106.04 477.76 L108.21 480.04 L110.38 482.34 L112.55 484.65 L114.72 486.97 L116.89 489.28 L119.06 491.59 L121.23 493.9 L123.41 496.18 L125.58 498.46 L127.75 500.71 L129.92 502.94 L132.09 505.15 L134.26 507.34 L136.43 509.49 L138.6 511.61 L140.77 513.7 L142.95 515.75 L145.12 517.75 L147.29 519.72 L149.46 521.64 L151.63 523.5 L153.8 525.32 L155.97 527.08 L158.14 528.79 L160.31 530.43 L162.48 532.01 L164.66 533.52 L166.83 534.97 L169 536.35 L171.17 537.66 L173.34 538.9 L175.51 540.08 L177.68 541.18 L179.85 542.22 L182.02 543.19 L184.2 544.09 L186.37 544.92 L188.54 545.69 L190.71 546.38 L192.88 547 L195.05 547.56 L197.22 548.05 L199.39 548.46 L201.56 548.81 L203.74 549.08 L205.91 549.29 L208.08 549.42 L210.25 549.49 L212.42 549.48 L214.59 549.41 L216.76 549.26 L218.93 549.04 L221.1 548.75 L223.27 548.39 L225.45 547.95 L227.62 547.45 L229.79 546.87 L231.96 546.23 L234.13 545.51 L236.3 544.71 L238.47 543.85 L240.64 542.91 L242.81 541.9 L244.99 540.82 L247.16 539.67 L249.33 538.45 L251.5 537.17 L253.67 535.83 L255.84 534.44 L258.01 532.98 L260.18 531.48 L262.35 529.92 L264.53 528.32 L266.7 526.68 L268.87 524.99 L271.04 523.26 L273.21 521.5 L275.38 519.7 L277.55 517.88 L279.72 516.02 L281.89 514.14 L284.06 512.24 L286.24 510.31 L288.41 508.37 L290.58 506.42 L292.75 504.45 L294.92 502.47 L297.09 500.49 L299.26 498.5 L301.43 496.51 L303.6 494.52 L305.78 492.54 L307.95 490.56 L310.12 488.6 L312.29 486.64 L314.46 484.7 L316.63 482.78 L318.8 480.88 L320.97 479 L323.14 477.15 L325.32 475.33 L327.49 473.53 L329.66 471.77 L331.83 470.05 L334 468.37 L336.17 466.72 L338.34 465.12 L340.51 463.56 L342.68 462.04 L344.85 460.57 L347.03 459.15 L349.2 457.78 L351.37 456.47 L353.54 455.2 L355.71 453.99 L357.88 452.84 L360.05 451.75 L362.22 450.71 L364.39 449.74 L366.57 448.84 L368.74 448 L370.91 447.22 L373.08 446.52 L375.25 445.89 L377.42 445.32 L379.59 444.84 L381.76 444.43 L383.93 444.1 L386.11 443.84 L388.28 443.67 L390.45 443.58 L392.62 443.58 L394.79 443.66 L396.96 443.83 L399.13 444.09 L401.3 444.44 L403.47 444.89 L405.64 445.43 L407.82 446.06 L409.99 446.8 L412.16 447.64 L414.33 448.57 L416.5 449.62" fill="none" stroke="#222" stroke-width="1"/>
<path d="M71.3 404.53 L73.47 406.92 L75.64 409.37 L77.81 411.88 L79.98 414.44 L82.16 417.04 L84.33 419.69 L86.5 422.37 L88.67 425.09 L90.84 427.84 L93.01 430.61 L95.18 433.39 L97.35 436.2 L99.52 439.01 L101.69 441.83 L103.87 444.65 L106.04 447.46 L108.21 450.27 L110.38 453.06 L112.55 455.84 L114.72 458.59 L116.89 461.32 L119.06 464.01 L121.23 466.68 L123.41 469.3 L125.58 471.89 L127.75 474.45 L129.92 476.96 L132.09 479.43 L134.26 481.86 L136.43 484.24 L138.6 486.57 L140.77 488.85 L142.95 491.08 L145.12 493.25 L147.29 495.36 L149.46 497.41 L151.63 499.39 L153.8 501.3 L155.97 503.15 L158.14 504.92 L160.31 506.61 L162.48 508.23 L164.66 509.76 L166.83 511.21 L169 512.58 L171.17 513.87 L173.34 515.07 L175.51 516.19 L177.68 517.22 L179.85 518.18 L182.02 519.04 L184.2 519.82 L186.37 520.51 L188.54 521.12 L190.71 521.63 L192.88 522.06 L195.05 522.39 L197.22 522.64 L199.39 522.79 L201.56 522.85 L203.74 522.81 L205.91 522.69 L208.08 522.46 L210.25 522.14 L212.42 521.72 L214.59 521.21 L216.76 520.61 L218.93 519.92 L221.1 519.15 L223.27 518.29 L225.45 517.35 L227.62 516.34 L229.79 515.26 L231.96 514.1 L234.13 512.87 L236.3 511.58 L238.47 510.23 L240.64 508.82 L242.81 507.35 L244.99 505.83 L247.16 504.26 L249.33 502.64 L251.5 500.97 L253.67 499.26 L255.84 497.5 L258.01 495.7 L260.18 493.87 L262.35 491.99 L264.53 490.08 L266.7 488.14 L268.87 486.17 L271.04 484.16 L273.21 482.13 L275.38 480.08 L277.55 478 L279.72 475.9 L281.89 473.78 L284.06 471.65 L286.24 469.5 L288.41 467.34 L290.58 465.16 L292.75 462.98 L294.92 460.79 L297.09 458.59 L299.26 456.4 L301.43 454.2 L303.6 452 L305.78 449.8 L307.95 447.61 L310.12 445.43 L312.29 443.25 L314.46 441.09 L316.63 438.94 L318.8 436.8 L320.97 434.68 L323.14 432.58 L325.32 430.5 L327.49 428.44 L329.66 426.41 L331.83 424.4 L334 422.43 L336.17 420.49 L338.34 418.59 L340.51 416.73 L342.68 414.91 L344.85 413.14 L347.03 411.43 L349.2 409.77 L351.37 408.17 L353.54 406.63 L355.71 405.16 L357.88 403.76 L360.05 402.44 L362.22 401.19 L364.39 400.02 L366.57 398.94 L368.74 397.94 L370.91 397.04 L373.08 396.23 L375.25 395.52 L377.42 394.92 L379.59 394.42 L381.76 394.03 L383.93 393.75 L386.11 393.59 L388.28 393.55 L390.45 393.63 L392.62 393.84 L394.79 394.18 L396.96 394.66 L399.13 395.27 L401.3 396.03 L403.47 396.93 L405.64 397.98 L407.82 399.18 L409.99 400.54 L412.16 402.06 L414.33 403.74 L416.5 405.59" fill="none" stroke="#333" stroke-width="1" stroke-dasharray="2 2.3"/>
<path d="M71.3 492.54 L73.47 492.52 L75.64 492.67 L77.81 492.98 L79.98 493.43 L82.16 494.03 L84.33 494.77 L86.5 495.64 L88.67 496.63 L90.84 497.73 L93.01 498.95 L95.18 500.26 L97.35 501.66 L99.52 503.15 L101.69 504.72 L103.87 506.35 L106.04 508.05 L108.21 509.81 L110.38 511.62 L112.55 513.46 L114.72 515.34 L116.89 517.25 L119.06 519.17 L121.23 521.11 L123.41 523.06 L125.58 525.02 L127.75 526.98 L129.92 528.93 L132.09 530.88 L134.26 532.82 L136.43 534.74 L138.6 536.65 L140.77 538.54 L142.95 540.41 L145.12 542.26 L147.29 544.08 L149.46 545.86 L151.63 547.62 L153.8 549.34 L155.97 551.02 L158.14 552.65 L160.31 554.25 L162.48 555.79 L164.66 557.29 L166.83 558.73 L169 560.12 L171.17 561.45 L173.34 562.73 L175.51 563.96 L177.68 565.14 L179.85 566.27 L182.02 567.34 L184.2 568.36 L186.37 569.33 L188.54 570.26 L190.71 571.13 L192.88 571.95 L195.05 572.73 L197.22 573.45 L199.39 574.13 L201.56 574.76 L203.74 575.35 L205.91 575.89 L208.08 576.39 L210.25 576.84 L212.42 577.24 L214.59 577.6 L216.76 577.9 L218.93 578.16 L221.1 578.35 L223.27 578.49 L225.45 578.56 L227.62 578.56 L229.79 578.49 L231.96 578.35 L234.13 578.14 L236.3 577.84 L238.47 577.46 L240.64 577 L242.81 576.45 L244.99 575.8 L247.16 575.07 L249.33 574.26 L251.5 573.37 L253.67 572.41 L255.84 571.37 L258.01 570.26 L260.18 569.09 L262.35 567.86 L264.53 566.56 L266.7 565.21 L268.87 563.81 L271.04 562.36 L273.21 560.86 L275.38 559.33 L277.55 557.75 L279.72 556.14 L281.89 554.49 L284.06 552.82 L286.24 551.12 L288.41 549.41 L290.58 547.67 L292.75 545.92 L294.92 544.15 L297.09 542.38 L299.26 540.6 L301.43 538.82 L303.6 537.05 L305.78 535.28 L307.95 533.52 L310.12 531.77 L312.29 530.03 L314.46 528.32 L316.63 526.63 L318.8 524.96 L320.97 523.32 L323.14 521.72 L325.32 520.15 L327.49 518.62 L329.66 517.14 L331.83 515.7 L334 514.3 L336.17 512.95 L338.34 511.65 L340.51 510.39 L342.68 509.17 L344.85 508 L347.03 506.88 L349.2 505.8 L351.37 504.76 L353.54 503.77 L355.71 502.82 L357.88 501.92 L360.05 501.05 L362.22 500.24 L364.39 499.46 L366.57 498.73 L368.74 498.05 L370.91 497.4 L373.08 496.8 L375.25 496.25 L377.42 495.73 L379.59 495.26 L381.76 494.83 L383.93 494.44 L386.11 494.1 L388.28 493.8 L390.45 493.53 L392.62 493.32 L394.79 493.14 L396.96 493 L399.13 492.91 L401.3 492.86 L403.47 492.85 L405.64 492.88 L407.82 492.95 L409.99 493.06 L412.16 493.21 L414.33 493.41 L416.5 493.64" fill="none" stroke="#333" stroke-width="1" stroke-dasharray="2 2.3"/>
<path d="M75.51 366.99 L76.4 367.14 L77.22 367.28 L78.04 367.45 L78.86 367.65 L79.69 367.88 L80.51 368.14 L81.33 368.43 L82.15 368.75 L82.97 369.1 L83.79 369.47 L84.62 369.88 L85.44 370.31 L86.26 370.77 L87.08 371.25 L87.9 371.77 L88.72 372.31 L89.54 372.87 L90.37 373.47 L91.19 374.08 L92.01 374.73 L92.83 375.39 L93.65 376.09 L94.47 376.8 L95.3 377.54 L96.12 378.31 L96.94 379.09 L97.76 379.9 L98.58 380.74 L99.4 381.59 L100.23 382.47 L101.05 383.37 L101.87 384.29 L102.69 385.23 L103.51 386.19 L104.33 387.18 L105.15 388.18 L105.98 389.2 L106.8 390.24 L107.62 391.3 L108.44 392.38 L109.26 393.48 L110.08 394.6 L110.91 395.73 L111.73 396.89 L112.55 398.05 L113.37 399.24 L114.19 400.44 L115.01 401.66 L115.83 402.9 L116.66 404.15 L117.48 405.41 L118.3 406.69 L119.12 407.99 L119.94 409.29 L120.76 410.62 L121.59 411.95 L122.41 413.3 L123.23 414.67 L124.05 416.04 L124.87 417.43 L125.69 418.83 L126.51 420.24 L127.34 421.67 L128.16 423.1 L128.98 424.55 L129.8 426 L130.62 427.47 L131.44 428.94 L132.27 430.43 L133.09 431.92 L133.91 433.42 L134.73 434.93 L135.55 436.45 L136.37 437.98 L137.19 439.52 L138.02 441.06 L138.84 442.61 L139.66 444.16 L140.48 445.72 L141.3 447.29 L142.12 448.87 L142.95 450.44 L143.77 452.03 L144.59 453.61 L145.41 455.21 L146.23 456.8 L147.05 458.4 L147.88 460.01 L148.7 461.61 L149.52 463.22 L150.34 464.83 L151.16 466.45 L151.98 468.06 L152.8 469.68 L153.63 471.3 L154.45 472.92 L155.27 474.53 L156.09 476.15 L156.91 477.77 L157.73 479.39 L158.56 481.01 L159.38 482.62 L160.2 484.24 L161.02 485.85 L161.84 487.46 L162.66 489.07 L163.48 490.67 L164.31 492.27 L165.13 493.87 L165.95 495.46 L166.77 497.05 L167.59 498.63 L168.41 500.2 L169.24 501.77 L170.06 503.34 L170.88 504.89 L171.7 506.44 L172.52 507.98 L173.34 509.52 L174.16 511.04 L174.99 512.56 L175.81 514.07 L176.63 515.57 L177.45 517.06 L178.27 518.53 L179.09 520 L179.92 521.46 L180.74 522.9 L181.56 524.34 L182.38 525.76 L183.2 527.17 L184.02 528.56 L184.85 529.94 L185.67 531.31 L186.49 532.67 L187.31 534.01 L188.13 535.33 L188.95 536.64 L189.77 537.93 L190.6 539.21 L191.42 540.47 L192.24 541.72 L193.06 542.94 L193.88 544.15 L194.7 545.35 L195.53 546.52 L196.35 547.68 L197.17 548.82 L197.99 549.95 L198.81 551.05 L199.63 552.14 L200.45 553.2 L201.28 554.25 L202.1 555.28 L202.92 556.29 L203.74 557.28 L204.56 558.25 L205.38 559.21 L206.21 560.14 L207.03 561.05 L207.85 561.94 L208.67 562.81 L209.49 563.66 L210.31 564.48 L211.13 565.29 L211.96 566.08 L212.78 566.84 L213.6 567.58 L214.42 568.3 L215.24 569 L216.06 569.67 L216.89 570.32 L217.71 570.95 L218.53 571.56 L219.35 572.14 L220.17 572.7 L220.99 573.24 L221.82 573.75 L222.64 574.23 L223.46 574.7 L224.28 575.14 L225.1 575.55 L225.92 575.94 L226.74 576.3 L227.57 576.64 L228.39 576.95 L229.21 577.24 L230.03 577.5 L230.85 577.73 L231.67 577.94 L232.5 578.12 L233.32 578.28 L234.14 578.41 L234.96 578.51 L235.78 578.58 L236.6 578.63 L237.42 578.64 L238.25 578.63 L239.07 578.59 L239.89 578.53 L240.71 578.43 L241.53 578.31 L242.35 578.16 L243.18 577.98 L244 577.78 L244.82 577.55 L245.64 577.29 L246.46 577.01 L247.28 576.7 L248.1 576.36 L248.93 576 L249.75 575.61 L250.57 575.2 L251.39 574.77 L252.21 574.31 L253.03 573.83 L253.86 573.32 L254.68 572.79 L255.5 572.24 L256.32 571.66 L257.14 571.06 L257.96 570.44 L258.78 569.8 L259.61 569.14 L260.43 568.45 L261.25 567.75 L262.07 567.02 L262.89 566.27 L263.71 565.5 L264.54 564.71 L265.36 563.91 L266.18 563.08 L267 562.23 L267.82 561.37 L268.64 560.48 L269.47 559.58 L270.29 558.66 L271.11 557.72 L271.93 556.77 L272.75 555.79 L273.57 554.8 L274.39 553.8 L275.22 552.78 L276.04 551.74 L276.86 550.68 L277.68 549.61 L278.5 548.53 L279.32 547.43 L280.15 546.31 L280.97 545.18 L281.79 544.04 L282.61 542.88 L283.43 541.71 L284.25 540.53 L285.07 539.33 L285.9 538.12 L286.72 536.9 L287.54 535.67 L288.36 534.42 L289.18 533.16 L290 531.89 L290.83 530.61 L291.65 529.32 L292.47 528.02 L293.29 526.71 L294.11 525.39 L294.93 524.06 L295.75 522.72 L296.58 521.37 L297.4 520.01 L298.22 518.64 L299.04 517.27 L299.86 515.88 L300.68 514.49 L301.51 513.09 L302.33 511.69 L303.15 510.28 L303.97 508.86 L304.79 507.43 L305.61 506 L306.44 504.57 L307.26 503.12 L308.08 501.68 L308.9 500.23 L309.72 498.77 L310.54 497.31 L311.36 495.84 L312.19 494.37 L313.01 492.9 L313.83 491.43 L314.65 489.95 L315.47 488.47 L316.29 486.98 L317.12 485.5 L317.94 484.01 L318.76 482.52 L319.58 481.03 L320.4 479.54 L321.22 478.05 L322.04 476.56 L322.87 475.06 L323.69 473.57 L324.51 472.08 L325.33 470.59 L326.15 469.1 L326.97 467.61 L327.8 466.12 L328.62 464.64 L329.44 463.15 L330.26 461.67 L331.08 460.19 L331.9 458.71 L332.72 457.24 L333.55 455.77 L334.37 454.3 L335.19 452.84 L336.01 451.38 L336.83 449.92 L337.65 448.47 L338.48 447.02 L339.3 445.58 L340.12 444.14 L340.94 442.71 L341.76 441.28 L342.58 439.86 L343.41 438.44 L344.23 437.03 L345.05 435.63 L345.87 434.24 L346.69 432.85 L347.51 431.47 L348.33 430.09 L349.16 428.72 L349.98 427.37 L350.8 426.02 L351.62 424.67 L352.44 423.34 L353.26 422.02 L354.09 420.7 L354.91 419.4 L355.73 418.1 L356.55 416.82 L357.37 415.54 L358.19 414.28 L359.01 413.02 L359.84 411.78 L360.66 410.55 L361.48 409.33 L362.3 408.12 L363.12 406.92 L363.94 405.73 L364.77 404.56 L365.59 403.4 L366.41 402.25 L367.23 401.12 L368.05 400 L368.87 398.89 L369.69 397.8 L370.52 396.72 L371.34 395.65 L372.16 394.6 L372.98 393.57 L373.8 392.55 L374.62 391.54 L375.45 390.55 L376.27 389.58 L377.09 388.62 L377.91 387.68 L378.73 386.75 L379.55 385.85 L380.37 384.95 L381.2 384.08 L382.02 383.22 L382.84 382.39 L383.66 381.57 L384.48 380.76 L385.3 379.98 L386.13 379.21 L386.95 378.47 L387.77 377.74 L388.59 377.03 L389.41 376.35 L390.23 375.68 L391.06 375.03 L391.88 374.41 L392.7 373.8 L393.52 373.21 L394.34 372.65 L395.16 372.11 L395.98 371.59 L396.81 371.09 L397.63 370.61 L398.45 370.16 L399.27 369.72 L400.09 369.32 L400.91 368.93 L401.74 368.57 L402.56 368.23 L403.38 367.91 L404.2 367.62 L405.9 367.02" fill="none" stroke="#b2000e" stroke-width="2.1" stroke-dasharray="1.8 15.36" stroke-linecap="round"/>
<path d="M71.3 591.1V598.5M71.86 591.1V598.5M72.5 591.1V598.5M73.43 591.1V598.5M74 591.1V598.5M74.6 591.1V598.5M75.26 591.1V598.5M75.61 591.1V598.5M76.21 591.1V598.5M76.91 591.1V598.5M79.56 591.1V598.5M80.31 591.1V598.5M80.54 591.1V598.5M81.52 591.1V598.5M82.48 591.1V598.5M83.2 591.1V598.5M85.63 591.1V598.5M86.02 591.1V598.5M86.24 591.1V598.5M86.81 591.1V598.5M87.82 591.1V598.5M89.38 591.1V598.5M90.5 591.1V598.5M91.78 591.1V598.5M92.38 591.1V598.5M93.1 591.1V598.5M93.66 591.1V598.5M94.08 591.1V598.5M95.86 591.1V598.5M97.64 591.1V598.5M99.2 591.1V598.5M99.96 591.1V598.5M100.41 591.1V598.5M100.79 591.1V598.5M101.22 591.1V598.5M101.47 591.1V598.5M102.28 591.1V598.5M102.8 591.1V598.5M103.67 591.1V598.5M104.17 591.1V598.5M105.13 591.1V598.5M106 591.1V598.5M106.2 591.1V598.5M106.56 591.1V598.5M107.48 591.1V598.5M108.05 591.1V598.5M109.81 591.1V598.5M110.76 591.1V598.5M111.26 591.1V598.5M112.53 591.1V598.5M114 591.1V598.5M114.42 591.1V598.5M114.68 591.1V598.5M115.15 591.1V598.5M116.11 591.1V598.5M116.91 591.1V598.5M117.2 591.1V598.5M117.59 591.1V598.5M117.87 591.1V598.5M118.12 591.1V598.5M118.95 591.1V598.5M119.29 591.1V598.5M119.93 591.1V598.5M120.48 591.1V598.5M121.14 591.1V598.5M122.56 591.1V598.5M123.13 591.1V598.5M124.42 591.1V598.5M124.72 591.1V598.5M125.25 591.1V598.5M125.61 591.1V598.5M126.03 591.1V598.5M126.99 591.1V598.5M127.83 591.1V598.5M128.27 591.1V598.5M129.17 591.1V598.5M129.54 591.1V598.5M130.05 591.1V598.5M130.92 591.1V598.5M131.63 591.1V598.5M131.91 591.1V598.5M132.89 591.1V598.5M133.58 591.1V598.5M134.34 591.1V598.5M135.81 591.1V598.5M136.66 591.1V598.5M137.09 591.1V598.5M137.35 591.1V598.5M137.62 591.1V598.5M138.28 591.1V598.5M138.67 591.1V598.5M139.35 591.1V598.5M139.84 591.1V598.5M140.4 591.1V598.5M143.48 591.1V598.5M143.82 591.1V598.5M144.14 591.1V598.5M145.06 591.1V598.5M145.91 591.1V598.5M146.3 591.1V598.5M146.65 591.1V598.5M147.44 591.1V598.5M148.38 591.1V598.5M148.73 591.1V598.5M149.69 591.1V598.5M150.58 591.1V598.5M151.26 591.1V598.5M151.79 591.1V598.5M152.07 591.1V598.5M152.3 591.1V598.5M153.27 591.1V598.5M153.65 591.1V598.5M154.41 591.1V598.5M154.81 591.1V598.5M155.66 591.1V598.5M156.89 591.1V598.5M157.69 591.1V598.5M158.33 591.1V598.5M159.73 591.1V598.5M160.22 591.1V598.5M160.6 591.1V598.5M161.24 591.1V598.5M162.12 591.1V598.5M162.8 591.1V598.5M163.22 591.1V598.5M164.15 591.1V598.5M164.51 591.1V598.5M164.72 591.1V598.5M165.13 591.1V598.5M165.68 591.1V598.5M165.93 591.1V598.5M166.27 591.1V598.5M166.76 591.1V598.5M167.41 591.1V598.5M167.71 591.1V598.5M168.2 591.1V598.5M169.1 591.1V598.5M170.08 591.1V598.5M170.8 591.1V598.5M171.54 591.1V598.5M172.21 591.1V598.5M172.52 591.1V598.5M172.74 591.1V598.5M172.95 591.1V598.5M173.87 591.1V598.5M174.63 591.1V598.5M175.59 591.1V598.5M175.81 591.1V598.5M176.51 591.1V598.5M177.09 591.1V598.5M177.87 591.1V598.5M178.32 591.1V598.5M179.31 591.1V598.5M179.57 591.1V598.5M180.2 591.1V598.5M180.98 591.1V598.5M181.89 591.1V598.5M182.68 591.1V598.5M183.43 591.1V598.5M184.26 591.1V598.5M185.18 591.1V598.5M185.66 591.1V598.5M186.4 591.1V598.5M187.32 591.1V598.5M188.2 591.1V598.5M188.73 591.1V598.5M189.56 591.1V598.5M190.44 591.1V598.5M191.09 591.1V598.5M191.79 591.1V598.5M192.29 591.1V598.5M192.95 591.1V598.5M193.63 591.1V598.5M193.89 591.1V598.5M194.6 591.1V598.5M195.59 591.1V598.5M197.89 591.1V598.5M198.82 591.1V598.5M200.24 591.1V598.5M201.44 591.1V598.5M202.45 591.1V598.5M204.01 591.1V598.5M204.52 591.1V598.5M205.96 591.1V598.5M206.4 591.1V598.5M207.63 591.1V598.5M208.7 591.1V598.5M209.41 591.1V598.5M211.37 591.1V598.5M212.06 591.1V598.5M212.98 591.1V598.5M213.39 591.1V598.5M213.59 591.1V598.5M214.03 591.1V598.5M214.77 591.1V598.5M215.12 591.1V598.5M215.46 591.1V598.5M216.37 591.1V598.5M217.1 591.1V598.5M217.64 591.1V598.5M218.55 591.1V598.5M219.01 591.1V598.5M219.73 591.1V598.5M220.09 591.1V598.5M220.63 591.1V598.5M221.47 591.1V598.5M222.39 591.1V598.5M224.45 591.1V598.5M226.57 591.1V598.5M228.13 591.1V598.5M229.7 591.1V598.5M231.09 591.1V598.5M232.8 591.1V598.5M233.58 591.1V598.5M234.22 591.1V598.5M235.24 591.1V598.5M236.02 591.1V598.5M236.71 591.1V598.5M237.68 591.1V598.5M238.95 591.1V598.5M240.03 591.1V598.5M240.48 591.1V598.5M241.34 591.1V598.5M242.32 591.1V598.5M242.87 591.1V598.5M243.13 591.1V598.5M243.35 591.1V598.5M245.24 591.1V598.5M245.89 591.1V598.5M246.33 591.1V598.5M247.16 591.1V598.5M247.37 591.1V598.5M247.68 591.1V598.5M248.24 591.1V598.5M248.45 591.1V598.5M249.31 591.1V598.5M249.7 591.1V598.5M250.01 591.1V598.5M250.24 591.1V598.5M250.94 591.1V598.5M251.49 591.1V598.5M252.91 591.1V598.5M253.75 591.1V598.5M254.7 591.1V598.5M255.45 591.1V598.5M255.8 591.1V598.5M256.38 591.1V598.5M257.5 591.1V598.5M258.26 591.1V598.5M258.6 591.1V598.5M259.02 591.1V598.5M259.49 591.1V598.5M260.24 591.1V598.5M260.85 591.1V598.5M261.54 591.1V598.5M266.7 591.1V598.5M267.69 591.1V598.5M268.68 591.1V598.5M269.68 591.1V598.5M270.77 591.1V598.5M272.95 591.1V598.5M276.42 591.1V598.5M277.71 591.1V598.5M278.6 591.1V598.5M279.59 591.1V598.5M281.18 591.1V598.5M285.84 591.1V598.5M290.3 591.1V598.5M295.65 591.1V598.5M296.94 591.1V598.5M299.12 591.1V598.5M301.6 591.1V598.5M303.48 591.1V598.5M304.28 591.1V598.5M305.07 591.1V598.5M307.25 591.1V598.5M317.66 591.1V598.5M318.35 591.1V598.5M318.95 591.1V598.5M320.14 591.1V598.5M321.43 591.1V598.5M323.01 591.1V598.5M325.19 591.1V598.5M328.07 591.1V598.5M328.66 591.1V598.5M329.95 591.1V598.5M331.14 591.1V598.5M338.08 591.1V598.5M340.26 591.1V598.5M346.01 591.1V598.5M351.96 591.1V598.5M354.14 591.1V598.5M355.73 591.1V598.5M361.87 591.1V598.5M364.75 591.1V598.5M369.71 591.1V598.5M371.79 591.1V598.5M372.68 591.1V598.5M378.63 591.1V598.5M397.47 591.1V598.5M400.44 591.1V598.5M405.5 591.1V598.5M411.44 591.1V598.5M414.32 591.1V598.5M416.3 591.1V598.5" stroke="#000" stroke-width="1"/>
<rect x="61.4" y="353.2" width="372.9" height="245.3" fill="none" stroke="#444" stroke-width="1"/>
<path d="M61.4 362.4V589.59M56.1 589.59H61.4M56.1 551.73H61.4M56.1 513.86H61.4M56.1 476H61.4M56.1 438.13H61.4M56.1 400.26H61.4M56.1 362.4H61.4M74.5 598.5H356.1M74.5 598.5V604.5M168.6 598.5V604.5M262.5 598.5V604.5M356.1 598.5V604.5" fill="none" stroke="#555" stroke-width="1"/>
<path d="M434.3 365.1H439.6M434.3 472.3H439.6M434.3 588.3H439.6" fill="none" stroke="#777" stroke-width="0.9"/>
<text transform="translate(50.2 595.08) rotate(-90)" style="font-family:'DejaVu Sans', sans-serif;font-size:11.5px;">-1</text>
<text transform="translate(50.2 562.74) rotate(-90)" style="font-family:'DejaVu Sans', sans-serif;font-size:11.5px;">-0.5</text>
<text transform="translate(50.2 517.51) rotate(-90)" style="font-family:'DejaVu Sans', sans-serif;font-size:11.5px;">0</text>
<text transform="translate(50.2 485.02) rotate(-90)" style="font-family:'DejaVu Sans', sans-serif;font-size:11.5px;">0.5</text>
<text transform="translate(50.2 441.9) rotate(-90)" style="font-family:'DejaVu Sans', sans-serif;font-size:11.5px;">1</text>
<text transform="translate(50.2 409.55) rotate(-90)" style="font-family:'DejaVu Sans', sans-serif;font-size:11.5px;">1.5</text>
<text transform="translate(50.2 365.91) rotate(-90)" style="font-family:'DejaVu Sans', sans-serif;font-size:11.5px;">2</text>
<text x="68.85" y="616.6" style="font-family:'DejaVu Sans', sans-serif;font-size:11.5px;">0</text>
<text x="158.16" y="616.6" style="font-family:'DejaVu Sans', sans-serif;font-size:11.5px;">200</text>
<text x="252.2" y="616.6" style="font-family:'DejaVu Sans', sans-serif;font-size:11.5px;">400</text>
<text x="347.99" y="616.6" style="font-family:'DejaVu Sans', sans-serif;font-size:11.5px;">600</text>
<text transform="translate(30.86 526.05) rotate(-90)" style="font-family:'DejaVu Sans', sans-serif;font-size:14px;">Partial Effect</text>
<text x="158.1" y="637.5" style="font-family:'DejaVu Sans', sans-serif;font-size:14px;">Minutes After the High Tide</text>
<text transform="translate(461.79 437.72) rotate(90)" style="font-family:'DejaVu Sans', sans-serif;font-size:14px;">Tidal State</text>
<text transform="translate(447.72 353.12) rotate(90) scale(1 1.12)" style="font-family:'DejaVu Sans', sans-serif;font-size:11.3px;">High</text>
<text transform="translate(444.29 462.51) rotate(90) scale(1 1.12)" style="font-family:'DejaVu Sans', sans-serif;font-size:11.3px;">Mid</text>
<text transform="translate(444.18 573.16) rotate(90) scale(1 1.12)" style="font-family:'DejaVu Sans', sans-serif;font-size:11.3px;">Low</text>
<text x="0.55" y="350" style="font-family:'Liberation Sans', Arial, sans-serif;font-size:29px;font-weight:bold;">D</text>
<text x="130.5" y="374.5" style="font-family:'DejaVu Sans', sans-serif;font-size:11.2px;font-style:italic;">T. meyeni</text></g>
<g><path d="M551.2 428.71 L553.37 431.03 L555.53 433.44 L557.7 435.96 L559.87 438.56 L562.04 441.26 L564.2 444.04 L566.37 446.89 L568.54 449.82 L570.71 452.81 L572.87 455.86 L575.04 458.97 L577.21 462.14 L579.37 465.34 L581.54 468.59 L583.71 471.88 L585.88 475.19 L588.04 478.53 L590.21 481.9 L592.38 485.27 L594.55 488.66 L596.71 492.05 L598.88 495.44 L601.05 498.83 L603.22 502.21 L605.38 505.56 L607.55 508.89 L609.72 512.19 L611.88 515.44 L614.05 518.65 L616.22 521.79 L618.39 524.88 L620.55 527.89 L622.72 530.81 L624.89 533.64 L627.06 536.33 L629.22 538.87 L631.39 541.25 L633.56 543.45 L635.72 545.49 L637.89 547.38 L640.06 549.1 L642.23 550.67 L644.39 552.09 L646.56 553.36 L648.73 554.49 L650.9 555.48 L653.06 556.34 L655.23 557.06 L657.4 557.66 L659.56 558.13 L661.73 558.47 L663.9 558.7 L666.07 558.82 L668.23 558.83 L670.4 558.73 L672.57 558.53 L674.74 558.22 L676.9 557.82 L679.07 557.33 L681.24 556.75 L683.41 556.09 L685.57 555.34 L687.74 554.52 L689.91 553.62 L692.07 552.65 L694.24 551.62 L696.41 550.52 L698.58 549.36 L700.74 548.13 L702.91 546.85 L705.08 545.5 L707.25 544.1 L709.41 542.64 L711.58 541.12 L713.75 539.55 L715.91 537.92 L718.08 536.23 L720.25 534.48 L722.42 532.66 L724.58 530.77 L726.75 528.79 L728.92 526.74 L731.09 524.6 L733.25 522.39 L735.42 520.11 L737.59 517.77 L739.75 515.37 L741.92 512.93 L744.09 510.45 L746.26 507.94 L748.42 505.41 L750.59 502.86 L752.76 500.3 L754.93 497.74 L757.09 495.18 L759.26 492.62 L761.43 490.08 L763.59 487.54 L765.76 485.01 L767.93 482.49 L770.1 479.98 L772.26 477.49 L774.43 475.02 L776.6 472.56 L778.77 470.13 L780.93 467.72 L783.1 465.33 L785.27 462.97 L787.44 460.64 L789.6 458.34 L791.77 456.07 L793.94 453.84 L796.1 451.64 L798.27 449.48 L800.44 447.37 L802.61 445.29 L804.77 443.26 L806.94 441.27 L809.11 439.33 L811.28 437.45 L813.44 435.61 L815.61 433.83 L817.78 432.1 L819.94 430.44 L822.11 428.83 L824.28 427.28 L826.45 425.8 L828.61 424.38 L830.78 423.03 L832.95 421.75 L835.12 420.54 L837.28 419.41 L839.45 418.36 L841.62 417.39 L843.78 416.51 L845.95 415.72 L848.12 415.01 L850.29 414.41 L852.45 413.9 L854.62 413.5 L856.79 413.19 L858.96 413 L861.12 412.92 L863.29 412.95 L865.46 413.1 L867.63 413.37 L869.79 413.76 L871.96 414.28 L874.13 414.93 L876.29 415.71 L878.46 416.63 L880.63 417.69 L882.8 418.89 L884.96 420.23 L887.13 421.72 L889.3 423.37 L891.47 425.17 L893.63 427.13 L895.8 429.25" fill="none" stroke="#222" stroke-width="1"/>
<path d="M551.2 408.76 L553.37 411.56 L555.53 414.46 L557.7 417.45 L559.87 420.51 L562.04 423.65 L564.2 426.85 L566.37 430.13 L568.54 433.46 L570.71 436.85 L572.87 440.28 L575.04 443.76 L577.21 447.28 L579.37 450.83 L581.54 454.42 L583.71 458.02 L585.88 461.65 L588.04 465.28 L590.21 468.93 L592.38 472.58 L594.55 476.23 L596.71 479.87 L598.88 483.5 L601.05 487.11 L603.22 490.7 L605.38 494.26 L607.55 497.78 L609.72 501.25 L611.88 504.67 L614.05 508.04 L616.22 511.33 L618.39 514.54 L620.55 517.68 L622.72 520.71 L624.89 523.64 L627.06 526.42 L629.22 529.04 L631.39 531.48 L633.56 533.74 L635.72 535.82 L637.89 537.73 L640.06 539.48 L642.23 541.06 L644.39 542.48 L646.56 543.74 L648.73 544.85 L650.9 545.81 L653.06 546.62 L655.23 547.29 L657.4 547.83 L659.56 548.23 L661.73 548.5 L663.9 548.65 L666.07 548.67 L668.23 548.58 L670.4 548.37 L672.57 548.06 L674.74 547.64 L676.9 547.12 L679.07 546.5 L681.24 545.79 L683.41 544.98 L685.57 544.1 L687.74 543.13 L689.91 542.09 L692.07 540.97 L694.24 539.78 L696.41 538.53 L698.58 537.21 L700.74 535.83 L702.91 534.39 L705.08 532.89 L707.25 531.33 L709.41 529.71 L711.58 528.03 L713.75 526.3 L715.91 524.51 L718.08 522.67 L720.25 520.75 L722.42 518.77 L724.58 516.72 L726.75 514.58 L728.92 512.36 L731.09 510.06 L733.25 507.69 L735.42 505.25 L737.59 502.74 L739.75 500.18 L741.92 497.58 L744.09 494.94 L746.26 492.27 L748.42 489.57 L750.59 486.86 L752.76 484.13 L754.93 481.41 L757.09 478.68 L759.26 475.97 L761.43 473.26 L763.59 470.55 L765.76 467.86 L767.93 465.18 L770.1 462.51 L772.26 459.86 L774.43 457.22 L776.6 454.6 L778.77 452.01 L780.93 449.44 L783.1 446.89 L785.27 444.37 L787.44 441.88 L789.6 439.42 L791.77 436.99 L793.94 434.6 L796.1 432.25 L798.27 429.94 L800.44 427.67 L802.61 425.44 L804.77 423.26 L806.94 421.12 L809.11 419.04 L811.28 417.01 L813.44 415.04 L815.61 413.13 L817.78 411.27 L819.94 409.48 L822.11 407.75 L824.28 406.08 L826.45 404.49 L828.61 402.96 L830.78 401.51 L832.95 400.14 L835.12 398.85 L837.28 397.63 L839.45 396.51 L841.62 395.47 L843.78 394.53 L845.95 393.69 L848.12 392.94 L850.29 392.3 L852.45 391.77 L854.62 391.35 L856.79 391.05 L858.96 390.86 L861.12 390.8 L863.29 390.87 L865.46 391.06 L867.63 391.39 L869.79 391.85 L871.96 392.46 L874.13 393.21 L876.29 394.11 L878.46 395.17 L880.63 396.38 L882.8 397.74 L884.96 399.27 L887.13 400.97 L889.3 402.84 L891.47 404.89 L893.63 407.11 L895.8 409.51" fill="none" stroke="#333" stroke-width="1" stroke-dasharray="2 2.3"/>
<path d="M551.2 448.67 L553.37 450.49 L555.53 452.42 L557.7 454.47 L559.87 456.62 L562.04 458.87 L564.2 461.22 L566.37 463.65 L568.54 466.17 L570.71 468.77 L572.87 471.44 L575.04 474.19 L577.21 476.99 L579.37 479.85 L581.54 482.77 L583.71 485.73 L585.88 488.74 L588.04 491.79 L590.21 494.86 L592.38 497.97 L594.55 501.09 L596.71 504.24 L598.88 507.39 L601.05 510.55 L603.22 513.71 L605.38 516.87 L607.55 520.01 L609.72 523.12 L611.88 526.21 L614.05 529.26 L616.22 532.26 L618.39 535.21 L620.55 538.1 L622.72 540.91 L624.89 543.64 L627.06 546.24 L629.22 548.71 L631.39 551.02 L633.56 553.17 L635.72 555.17 L637.89 557.02 L640.06 558.72 L642.23 560.28 L644.39 561.7 L646.56 562.98 L648.73 564.13 L650.9 565.16 L653.06 566.05 L655.23 566.83 L657.4 567.48 L659.56 568.02 L661.73 568.45 L663.9 568.76 L666.07 568.97 L668.23 569.08 L670.4 569.09 L672.57 568.99 L674.74 568.81 L676.9 568.53 L679.07 568.17 L681.24 567.72 L683.41 567.2 L685.57 566.59 L687.74 565.91 L689.91 565.16 L692.07 564.34 L694.24 563.46 L696.41 562.51 L698.58 561.5 L700.74 560.43 L702.91 559.3 L705.08 558.12 L707.25 556.87 L709.41 555.57 L711.58 554.21 L713.75 552.8 L715.91 551.33 L718.08 549.8 L720.25 548.21 L722.42 546.55 L724.58 544.82 L726.75 543.01 L728.92 541.11 L731.09 539.13 L733.25 537.08 L735.42 534.97 L737.59 532.79 L739.75 530.56 L741.92 528.28 L744.09 525.97 L746.26 523.62 L748.42 521.25 L750.59 518.86 L752.76 516.47 L754.93 514.07 L757.09 511.67 L759.26 509.28 L761.43 506.9 L763.59 504.52 L765.76 502.15 L767.93 499.8 L770.1 497.45 L772.26 495.12 L774.43 492.81 L776.6 490.52 L778.77 488.25 L780.93 486 L783.1 483.77 L785.27 481.57 L787.44 479.4 L789.6 477.26 L791.77 475.15 L793.94 473.07 L796.1 471.03 L798.27 469.03 L800.44 467.06 L802.61 465.14 L804.77 463.26 L806.94 461.42 L809.11 459.63 L811.28 457.88 L813.44 456.18 L815.61 454.53 L817.78 452.94 L819.94 451.4 L822.11 449.91 L824.28 448.48 L826.45 447.1 L828.61 445.79 L830.78 444.54 L832.95 443.36 L835.12 442.24 L837.28 441.19 L839.45 440.21 L841.62 439.31 L843.78 438.49 L845.95 437.74 L848.12 437.09 L850.29 436.51 L852.45 436.03 L854.62 435.64 L856.79 435.34 L858.96 435.14 L861.12 435.04 L863.29 435.03 L865.46 435.14 L867.63 435.35 L869.79 435.67 L871.96 436.1 L874.13 436.65 L876.29 437.31 L878.46 438.09 L880.63 439 L882.8 440.03 L884.96 441.19 L887.13 442.48 L889.3 443.9 L891.47 445.45 L893.63 447.15 L895.8 448.98" fill="none" stroke="#333" stroke-width="1" stroke-dasharray="2 2.3"/>
<path d="M554.61 364.13 L555.5 364.25 L556.32 364.36 L557.14 364.5 L557.96 364.67 L558.78 364.87 L559.61 365.11 L560.43 365.37 L561.25 365.67 L562.07 366 L562.89 366.35 L563.71 366.74 L564.53 367.15 L565.35 367.59 L566.17 368.06 L566.99 368.56 L567.82 369.09 L568.64 369.64 L569.46 370.22 L570.28 370.83 L571.1 371.46 L571.92 372.12 L572.74 372.81 L573.56 373.52 L574.38 374.25 L575.21 375.01 L576.03 375.79 L576.85 376.6 L577.67 377.43 L578.49 378.29 L579.31 379.16 L580.13 380.06 L580.95 380.98 L581.77 381.93 L582.59 382.89 L583.42 383.88 L584.24 384.89 L585.06 385.91 L585.88 386.96 L586.7 388.03 L587.52 389.11 L588.34 390.22 L589.16 391.34 L589.98 392.49 L590.81 393.65 L591.63 394.83 L592.45 396.02 L593.27 397.24 L594.09 398.47 L594.91 399.71 L595.73 400.97 L596.55 402.25 L597.37 403.55 L598.19 404.85 L599.02 406.18 L599.84 407.51 L600.66 408.87 L601.48 410.23 L602.3 411.61 L603.12 413 L603.94 414.4 L604.76 415.82 L605.58 417.25 L606.41 418.69 L607.23 420.14 L608.05 421.6 L608.87 423.07 L609.69 424.56 L610.51 426.05 L611.33 427.55 L612.15 429.06 L612.97 430.58 L613.79 432.11 L614.62 433.65 L615.44 435.19 L616.26 436.75 L617.08 438.31 L617.9 439.87 L618.72 441.44 L619.54 443.02 L620.36 444.61 L621.18 446.2 L622.01 447.79 L622.83 449.39 L623.65 451 L624.47 452.61 L625.29 454.22 L626.11 455.84 L626.93 457.46 L627.75 459.08 L628.57 460.7 L629.39 462.33 L630.22 463.96 L631.04 465.59 L631.86 467.22 L632.68 468.85 L633.5 470.48 L634.32 472.11 L635.14 473.74 L635.96 475.37 L636.78 477 L637.61 478.63 L638.43 480.26 L639.25 481.88 L640.07 483.5 L640.89 485.12 L641.71 486.74 L642.53 488.35 L643.35 489.96 L644.17 491.56 L644.99 493.16 L645.82 494.75 L646.64 496.34 L647.46 497.92 L648.28 499.49 L649.1 501.06 L649.92 502.62 L650.74 504.17 L651.56 505.72 L652.38 507.26 L653.21 508.78 L654.03 510.3 L654.85 511.81 L655.67 513.31 L656.49 514.8 L657.31 516.27 L658.13 517.74 L658.95 519.2 L659.77 520.64 L660.59 522.07 L661.42 523.49 L662.24 524.89 L663.06 526.28 L663.88 527.66 L664.7 529.02 L665.52 530.37 L666.34 531.71 L667.16 533.02 L667.98 534.33 L668.81 535.61 L669.63 536.88 L670.45 538.14 L671.27 539.37 L672.09 540.59 L672.91 541.79 L673.73 542.98 L674.55 544.15 L675.37 545.3 L676.19 546.43 L677.02 547.54 L677.84 548.64 L678.66 549.71 L679.48 550.77 L680.3 551.81 L681.12 552.83 L681.94 553.83 L682.76 554.81 L683.58 555.77 L684.41 556.71 L685.23 557.63 L686.05 558.53 L686.87 559.41 L687.69 560.27 L688.51 561.11 L689.33 561.93 L690.15 562.72 L690.97 563.5 L691.79 564.25 L692.62 564.98 L693.44 565.69 L694.26 566.37 L695.08 567.04 L695.9 567.68 L696.72 568.3 L697.54 568.89 L698.36 569.46 L699.18 570.01 L700.01 570.53 L700.83 571.03 L701.65 571.51 L702.47 571.96 L703.29 572.39 L704.11 572.79 L704.93 573.17 L705.75 573.52 L706.57 573.85 L707.39 574.15 L708.22 574.43 L709.04 574.68 L709.86 574.9 L710.68 575.1 L711.5 575.27 L712.32 575.41 L713.14 575.53 L713.96 575.62 L714.78 575.69 L715.61 575.72 L716.43 575.73 L717.25 575.71 L718.07 575.66 L718.89 575.59 L719.71 575.48 L720.53 575.35 L721.35 575.19 L722.17 575.01 L722.99 574.79 L723.82 574.55 L724.64 574.29 L725.46 574 L726.28 573.68 L727.1 573.34 L727.92 572.97 L728.74 572.57 L729.56 572.16 L730.38 571.71 L731.21 571.25 L732.03 570.76 L732.85 570.24 L733.67 569.71 L734.49 569.15 L735.31 568.56 L736.13 567.96 L736.95 567.33 L737.77 566.68 L738.59 566.01 L739.42 565.32 L740.24 564.6 L741.06 563.87 L741.88 563.12 L742.7 562.34 L743.52 561.55 L744.34 560.73 L745.16 559.9 L745.98 559.05 L746.81 558.18 L747.63 557.29 L748.45 556.38 L749.27 555.45 L750.09 554.51 L750.91 553.55 L751.73 552.57 L752.55 551.57 L753.37 550.56 L754.19 549.53 L755.02 548.49 L755.84 547.43 L756.66 546.36 L757.48 545.26 L758.3 544.16 L759.12 543.04 L759.94 541.91 L760.76 540.76 L761.58 539.6 L762.41 538.42 L763.23 537.23 L764.05 536.03 L764.87 534.82 L765.69 533.59 L766.51 532.35 L767.33 531.1 L768.15 529.84 L768.97 528.57 L769.79 527.28 L770.62 525.99 L771.44 524.68 L772.26 523.37 L773.08 522.04 L773.9 520.7 L774.72 519.36 L775.54 518.01 L776.36 516.65 L777.18 515.27 L778.01 513.9 L778.83 512.51 L779.65 511.12 L780.47 509.71 L781.29 508.3 L782.11 506.89 L782.93 505.47 L783.75 504.04 L784.57 502.61 L785.39 501.17 L786.22 499.72 L787.04 498.27 L787.86 496.81 L788.68 495.35 L789.5 493.89 L790.32 492.42 L791.14 490.95 L791.96 489.48 L792.78 488 L793.61 486.52 L794.43 485.03 L795.25 483.55 L796.07 482.06 L796.89 480.57 L797.71 479.08 L798.53 477.58 L799.35 476.09 L800.17 474.59 L800.99 473.1 L801.82 471.61 L802.64 470.11 L803.46 468.62 L804.28 467.12 L805.1 465.63 L805.92 464.14 L806.74 462.65 L807.56 461.16 L808.38 459.67 L809.21 458.19 L810.03 456.71 L810.85 455.23 L811.67 453.75 L812.49 452.28 L813.31 450.81 L814.13 449.34 L814.95 447.88 L815.77 446.42 L816.59 444.97 L817.42 443.52 L818.24 442.07 L819.06 440.63 L819.88 439.2 L820.7 437.77 L821.52 436.35 L822.34 434.93 L823.16 433.52 L823.98 432.12 L824.81 430.73 L825.63 429.34 L826.45 427.95 L827.27 426.58 L828.09 425.21 L828.91 423.86 L829.73 422.51 L830.55 421.17 L831.37 419.83 L832.19 418.51 L833.02 417.2 L833.84 415.89 L834.66 414.6 L835.48 413.32 L836.3 412.04 L837.12 410.78 L837.94 409.53 L838.76 408.29 L839.58 407.06 L840.41 405.84 L841.23 404.64 L842.05 403.44 L842.87 402.26 L843.69 401.09 L844.51 399.94 L845.33 398.79 L846.15 397.66 L846.97 396.55 L847.79 395.45 L848.62 394.36 L849.44 393.29 L850.26 392.23 L851.08 391.19 L851.9 390.16 L852.72 389.14 L853.54 388.15 L854.36 387.16 L855.18 386.2 L856.01 385.25 L856.83 384.32 L857.65 383.4 L858.47 382.5 L859.29 381.62 L860.11 380.76 L860.93 379.91 L861.75 379.09 L862.57 378.28 L863.39 377.49 L864.22 376.72 L865.04 375.96 L865.86 375.23 L866.68 374.52 L867.5 373.83 L868.32 373.15 L869.14 372.5 L869.96 371.87 L870.78 371.26 L871.61 370.67 L872.43 370.1 L873.25 369.55 L874.07 369.02 L874.89 368.52 L875.71 368.04 L876.53 367.58 L877.35 367.15 L878.17 366.74 L878.99 366.35 L879.82 365.98 L880.64 365.64 L881.46 365.32 L882.28 365.03 L883.1 364.76 L884.81 364.2" fill="none" stroke="#b2000e" stroke-width="2.1" stroke-dasharray="1.8 15.36" stroke-linecap="round"/>
<path d="M551.2 591.7V599.1M551.76 591.7V599.1M552.4 591.7V599.1M553.33 591.7V599.1M553.89 591.7V599.1M554.49 591.7V599.1M555.16 591.7V599.1M555.5 591.7V599.1M556.1 591.7V599.1M556.8 591.7V599.1M559.45 591.7V599.1M560.19 591.7V599.1M560.42 591.7V599.1M561.4 591.7V599.1M562.36 591.7V599.1M563.08 591.7V599.1M565.5 591.7V599.1M565.89 591.7V599.1M566.12 591.7V599.1M566.68 591.7V599.1M567.69 591.7V599.1M569.25 591.7V599.1M570.36 591.7V599.1M571.65 591.7V599.1M572.24 591.7V599.1M572.96 591.7V599.1M573.52 591.7V599.1M573.94 591.7V599.1M575.72 591.7V599.1M577.5 591.7V599.1M579.06 591.7V599.1M579.81 591.7V599.1M580.26 591.7V599.1M580.64 591.7V599.1M581.07 591.7V599.1M581.32 591.7V599.1M582.13 591.7V599.1M582.64 591.7V599.1M583.51 591.7V599.1M584.01 591.7V599.1M584.97 591.7V599.1M585.84 591.7V599.1M586.04 591.7V599.1M586.4 591.7V599.1M587.32 591.7V599.1M587.89 591.7V599.1M589.64 591.7V599.1M590.59 591.7V599.1M591.09 591.7V599.1M592.36 591.7V599.1M593.83 591.7V599.1M594.24 591.7V599.1M594.51 591.7V599.1M594.97 591.7V599.1M595.93 591.7V599.1M596.73 591.7V599.1M597.02 591.7V599.1M597.41 591.7V599.1M597.69 591.7V599.1M597.94 591.7V599.1M598.77 591.7V599.1M599.1 591.7V599.1M599.74 591.7V599.1M600.3 591.7V599.1M600.96 591.7V599.1M602.37 591.7V599.1M602.94 591.7V599.1M604.23 591.7V599.1M604.52 591.7V599.1M605.05 591.7V599.1M605.42 591.7V599.1M605.83 591.7V599.1M606.8 591.7V599.1M607.63 591.7V599.1M608.07 591.7V599.1M608.97 591.7V599.1M609.33 591.7V599.1M609.84 591.7V599.1M610.72 591.7V599.1M611.42 591.7V599.1M611.7 591.7V599.1M612.68 591.7V599.1M613.37 591.7V599.1M614.13 591.7V599.1M615.59 591.7V599.1M616.45 591.7V599.1M616.88 591.7V599.1M617.13 591.7V599.1M617.4 591.7V599.1M618.06 591.7V599.1M618.45 591.7V599.1M619.13 591.7V599.1M619.62 591.7V599.1M620.18 591.7V599.1M623.25 591.7V599.1M623.59 591.7V599.1M623.91 591.7V599.1M624.83 591.7V599.1M625.68 591.7V599.1M626.07 591.7V599.1M626.42 591.7V599.1M627.2 591.7V599.1M628.15 591.7V599.1M628.5 591.7V599.1M629.45 591.7V599.1M630.35 591.7V599.1M631.02 591.7V599.1M631.55 591.7V599.1M631.83 591.7V599.1M632.06 591.7V599.1M633.02 591.7V599.1M633.41 591.7V599.1M634.17 591.7V599.1M634.57 591.7V599.1M635.42 591.7V599.1M636.64 591.7V599.1M637.44 591.7V599.1M638.08 591.7V599.1M639.47 591.7V599.1M639.97 591.7V599.1M640.34 591.7V599.1M640.98 591.7V599.1M641.86 591.7V599.1M642.54 591.7V599.1M642.96 591.7V599.1M643.89 591.7V599.1M644.25 591.7V599.1M644.46 591.7V599.1M644.87 591.7V599.1M645.42 591.7V599.1M645.66 591.7V599.1M646 591.7V599.1M646.49 591.7V599.1M647.14 591.7V599.1M647.44 591.7V599.1M647.93 591.7V599.1M648.83 591.7V599.1M649.81 591.7V599.1M650.52 591.7V599.1M651.27 591.7V599.1M651.93 591.7V599.1M652.24 591.7V599.1M652.47 591.7V599.1M652.68 591.7V599.1M653.6 591.7V599.1M654.35 591.7V599.1M655.31 591.7V599.1M655.52 591.7V599.1M656.23 591.7V599.1M656.81 591.7V599.1M657.58 591.7V599.1M658.03 591.7V599.1M659.02 591.7V599.1M659.28 591.7V599.1M659.91 591.7V599.1M660.69 591.7V599.1M661.6 591.7V599.1M662.38 591.7V599.1M663.14 591.7V599.1M663.96 591.7V599.1M664.89 591.7V599.1M665.36 591.7V599.1M666.1 591.7V599.1M667.01 591.7V599.1M667.9 591.7V599.1M668.43 591.7V599.1M669.25 591.7V599.1M670.14 591.7V599.1M670.79 591.7V599.1M671.48 591.7V599.1M671.98 591.7V599.1M672.64 591.7V599.1M673.32 591.7V599.1M673.58 591.7V599.1M674.28 591.7V599.1M675.27 591.7V599.1M677.57 591.7V599.1M678.5 591.7V599.1M679.92 591.7V599.1M681.12 591.7V599.1M682.12 591.7V599.1M683.68 591.7V599.1M684.19 591.7V599.1M685.63 591.7V599.1M686.07 591.7V599.1M687.29 591.7V599.1M688.36 591.7V599.1M689.07 591.7V599.1M691.03 591.7V599.1M691.71 591.7V599.1M692.64 591.7V599.1M693.04 591.7V599.1M693.25 591.7V599.1M693.68 591.7V599.1M694.42 591.7V599.1M694.77 591.7V599.1M695.11 591.7V599.1M696.02 591.7V599.1M696.74 591.7V599.1M697.29 591.7V599.1M698.19 591.7V599.1M698.65 591.7V599.1M699.38 591.7V599.1M699.73 591.7V599.1M700.27 591.7V599.1M701.11 591.7V599.1M702.03 591.7V599.1M704.08 591.7V599.1M706.2 591.7V599.1M707.76 591.7V599.1M709.33 591.7V599.1M710.71 591.7V599.1M712.42 591.7V599.1M713.2 591.7V599.1M713.83 591.7V599.1M714.85 591.7V599.1M715.63 591.7V599.1M716.32 591.7V599.1M717.29 591.7V599.1M718.55 591.7V599.1M719.63 591.7V599.1M720.08 591.7V599.1M720.94 591.7V599.1M721.92 591.7V599.1M722.48 591.7V599.1M722.73 591.7V599.1M722.96 591.7V599.1M724.83 591.7V599.1M725.48 591.7V599.1M725.93 591.7V599.1M726.75 591.7V599.1M726.96 591.7V599.1M727.27 591.7V599.1M727.83 591.7V599.1M728.05 591.7V599.1M728.9 591.7V599.1M729.29 591.7V599.1M729.6 591.7V599.1M729.83 591.7V599.1M730.53 591.7V599.1M731.08 591.7V599.1M732.49 591.7V599.1M733.33 591.7V599.1M734.29 591.7V599.1M735.03 591.7V599.1M735.38 591.7V599.1M735.96 591.7V599.1M737.07 591.7V599.1M737.84 591.7V599.1M738.18 591.7V599.1M738.59 591.7V599.1M739.06 591.7V599.1M739.81 591.7V599.1M740.42 591.7V599.1M741.11 591.7V599.1M746.26 591.7V599.1M747.25 591.7V599.1M748.24 591.7V599.1M749.23 591.7V599.1M750.32 591.7V599.1M752.5 591.7V599.1M755.96 591.7V599.1M757.25 591.7V599.1M758.14 591.7V599.1M759.13 591.7V599.1M760.71 591.7V599.1M765.36 591.7V599.1M769.82 591.7V599.1M775.16 591.7V599.1M776.45 591.7V599.1M778.62 591.7V599.1M781.1 591.7V599.1M782.98 591.7V599.1M783.77 591.7V599.1M784.56 591.7V599.1M786.74 591.7V599.1M797.13 591.7V599.1M797.82 591.7V599.1M798.42 591.7V599.1M799.6 591.7V599.1M800.89 591.7V599.1M802.47 591.7V599.1M804.65 591.7V599.1M807.52 591.7V599.1M808.12 591.7V599.1M809.4 591.7V599.1M810.59 591.7V599.1M817.52 591.7V599.1M819.7 591.7V599.1M825.44 591.7V599.1M831.37 591.7V599.1M833.55 591.7V599.1M835.13 591.7V599.1M841.27 591.7V599.1M844.14 591.7V599.1M849.09 591.7V599.1M851.17 591.7V599.1M852.06 591.7V599.1M857.99 591.7V599.1M876.8 591.7V599.1M879.77 591.7V599.1M884.81 591.7V599.1M890.75 591.7V599.1M893.62 591.7V599.1M895.6 591.7V599.1" stroke="#000" stroke-width="1"/>
<rect x="537.4" y="352.7" width="372.6" height="246.4" fill="none" stroke="#444" stroke-width="1"/>
<path d="M537.4 361.7V564.5M532.1 564.5H537.4M532.1 513.8H537.4M532.1 463.1H537.4M532.1 412.4H537.4M532.1 361.7H537.4M550.8 599.1H831.9M550.8 599.1V605.1M644.6 599.1V605.1M738.6 599.1V605.1M831.9 599.1V605.1" fill="none" stroke="#555" stroke-width="1"/>
<path d="M910 364.4H915.3M910 471.9H915.3M910 587.6H915.3" fill="none" stroke="#777" stroke-width="0.9"/>
<text transform="translate(526.1 569.93) rotate(-90)" style="font-family:'DejaVu Sans', sans-serif;font-size:11.5px;">-2</text>
<text transform="translate(526.1 517.45) rotate(-90)" style="font-family:'DejaVu Sans', sans-serif;font-size:11.5px;">0</text>
<text transform="translate(526.1 466.61) rotate(-90)" style="font-family:'DejaVu Sans', sans-serif;font-size:11.5px;">2</text>
<text transform="translate(526.1 416.02) rotate(-90)" style="font-family:'DejaVu Sans', sans-serif;font-size:11.5px;">4</text>
<text transform="translate(526.1 365.41) rotate(-90)" style="font-family:'DejaVu Sans', sans-serif;font-size:11.5px;">6</text>
<text x="548.05" y="617.7" style="font-family:'DejaVu Sans', sans-serif;font-size:11.5px;">0</text>
<text x="634.16" y="617.7" style="font-family:'DejaVu Sans', sans-serif;font-size:11.5px;">200</text>
<text x="728.6" y="617.7" style="font-family:'DejaVu Sans', sans-serif;font-size:11.5px;">400</text>
<text x="820.49" y="617.7" style="font-family:'DejaVu Sans', sans-serif;font-size:11.5px;">600</text>
<text transform="translate(504.91 528.3) rotate(-90)" style="font-family:'DejaVu Sans', sans-serif;font-size:14px;">Partial Effect</text>
<text x="631.55" y="639" style="font-family:'DejaVu Sans', sans-serif;font-size:14px;">Minutes After the High Tide</text>
<text transform="translate(934.78 439.22) rotate(90)" style="font-family:'DejaVu Sans', sans-serif;font-size:14px;">Tidal State</text>
<text transform="translate(920.02 354.32) rotate(90) scale(1 1.12)" style="font-family:'DejaVu Sans', sans-serif;font-size:11.3px;">High</text>
<text transform="translate(917.19 464.01) rotate(90) scale(1 1.12)" style="font-family:'DejaVu Sans', sans-serif;font-size:11.3px;">Mid</text>
<text transform="translate(916.78 574.86) rotate(90) scale(1 1.12)" style="font-family:'DejaVu Sans', sans-serif;font-size:11.3px;">Low</text>
<text x="485.62" y="350" style="font-family:'Liberation Sans', Arial, sans-serif;font-size:29px;font-weight:bold;">E</text>
<text x="612.06" y="371.9" style="font-family:'DejaVu Sans', sans-serif;font-size:11.5px;font-style:italic;">P. jenkinsii</text></g>
<g><path d="M1017.2 538.71 L1019.34 539.93 L1021.48 541.1 L1023.62 542.22 L1025.76 543.29 L1027.9 544.31 L1030.04 545.26 L1032.18 546.15 L1034.32 546.98 L1036.46 547.73 L1038.6 548.42 L1040.74 549.02 L1042.88 549.55 L1045.02 549.99 L1047.16 550.35 L1049.3 550.62 L1051.44 550.79 L1053.58 550.87 L1055.72 550.84 L1057.86 550.72 L1060.01 550.49 L1062.15 550.14 L1064.29 549.69 L1066.43 549.11 L1068.57 548.42 L1070.71 547.6 L1072.85 546.66 L1074.99 545.58 L1077.13 544.37 L1079.27 543.03 L1081.41 541.54 L1083.55 539.91 L1085.69 538.13 L1087.83 536.2 L1089.97 534.12 L1092.11 531.88 L1094.25 529.48 L1096.39 526.92 L1098.53 524.2 L1100.67 521.35 L1102.81 518.37 L1104.95 515.28 L1107.09 512.1 L1109.23 508.84 L1111.37 505.51 L1113.51 502.14 L1115.65 498.74 L1117.79 495.32 L1119.93 491.9 L1122.07 488.48 L1124.21 485.08 L1126.35 481.71 L1128.49 478.35 L1130.63 475.01 L1132.77 471.7 L1134.91 468.42 L1137.05 465.18 L1139.19 461.96 L1141.33 458.78 L1143.47 455.65 L1145.62 452.55 L1147.76 449.5 L1149.9 446.5 L1152.04 443.54 L1154.18 440.66 L1156.32 437.84 L1158.46 435.12 L1160.6 432.51 L1162.74 430.02 L1164.88 427.65 L1167.02 425.44 L1169.16 423.39 L1171.3 421.51 L1173.44 419.8 L1175.58 418.26 L1177.72 416.86 L1179.86 415.6 L1182 414.47 L1184.14 413.46 L1186.28 412.56 L1188.42 411.79 L1190.56 411.14 L1192.7 410.6 L1194.84 410.17 L1196.98 409.86 L1199.12 409.66 L1201.26 409.58 L1203.4 409.6 L1205.54 409.73 L1207.68 409.96 L1209.82 410.3 L1211.96 410.74 L1214.1 411.29 L1216.24 411.93 L1218.38 412.68 L1220.52 413.52 L1222.66 414.45 L1224.8 415.49 L1226.94 416.61 L1229.08 417.83 L1231.23 419.14 L1233.37 420.53 L1235.51 422.02 L1237.65 423.59 L1239.79 425.24 L1241.93 426.98 L1244.07 428.79 L1246.21 430.66 L1248.35 432.6 L1250.49 434.59 L1252.63 436.62 L1254.77 438.68 L1256.91 440.78 L1259.05 442.9 L1261.19 445.03 L1263.33 447.17 L1265.47 449.31 L1267.61 451.45 L1269.75 453.58 L1271.89 455.71 L1274.03 457.83 L1276.17 459.96 L1278.31 462.09 L1280.45 464.22 L1282.59 466.35 L1284.73 468.5 L1286.87 470.64 L1289.01 472.8 L1291.15 474.97 L1293.29 477.15 L1295.43 479.34 L1297.57 481.55 L1299.71 483.77 L1301.85 485.99 L1303.99 488.22 L1306.13 490.45 L1308.27 492.68 L1310.41 494.91 L1312.55 497.13 L1314.69 499.34 L1316.84 501.54 L1318.98 503.72 L1321.12 505.89 L1323.26 508.04 L1325.4 510.17 L1327.54 512.27 L1329.68 514.35 L1331.82 516.41 L1333.96 518.43 L1336.1 520.43 L1338.24 522.39 L1340.38 524.33 L1342.52 526.22 L1344.66 528.08 L1346.8 529.9 L1348.94 531.68 L1351.08 533.42 L1353.22 535.11 L1355.36 536.75 L1357.5 538.35" fill="none" stroke="#222" stroke-width="1"/>
<path d="M1017.2 512.67 L1019.34 514.43 L1021.48 516.24 L1023.62 518.06 L1025.76 519.9 L1027.9 521.74 L1030.04 523.55 L1032.18 525.34 L1034.32 527.08 L1036.46 528.76 L1038.6 530.37 L1040.74 531.89 L1042.88 533.31 L1045.02 534.61 L1047.16 535.79 L1049.3 536.82 L1051.44 537.7 L1053.58 538.4 L1055.72 538.92 L1057.86 539.25 L1060.01 539.36 L1062.15 539.26 L1064.29 538.97 L1066.43 538.47 L1068.57 537.78 L1070.71 536.91 L1072.85 535.85 L1074.99 534.62 L1077.13 533.22 L1079.27 531.65 L1081.41 529.92 L1083.55 528.04 L1085.69 526.01 L1087.83 523.83 L1089.97 521.51 L1092.11 519.06 L1094.25 516.48 L1096.39 513.76 L1098.53 510.9 L1100.67 507.93 L1102.81 504.86 L1104.95 501.69 L1107.09 498.45 L1109.23 495.15 L1111.37 491.81 L1113.51 488.43 L1115.65 485.03 L1117.79 481.62 L1119.93 478.22 L1122.07 474.84 L1124.21 471.49 L1126.35 468.16 L1128.49 464.86 L1130.63 461.59 L1132.77 458.34 L1134.91 455.13 L1137.05 451.95 L1139.19 448.81 L1141.33 445.7 L1143.47 442.62 L1145.62 439.59 L1147.76 436.6 L1149.9 433.64 L1152.04 430.73 L1154.18 427.88 L1156.32 425.09 L1158.46 422.39 L1160.6 419.77 L1162.74 417.27 L1164.88 414.88 L1167.02 412.62 L1169.16 410.51 L1171.3 408.55 L1173.44 406.75 L1175.58 405.09 L1177.72 403.57 L1179.86 402.16 L1182 400.86 L1184.14 399.67 L1186.28 398.58 L1188.42 397.59 L1190.56 396.71 L1192.7 395.93 L1194.84 395.26 L1196.98 394.68 L1199.12 394.2 L1201.26 393.82 L1203.4 393.53 L1205.54 393.35 L1207.68 393.25 L1209.82 393.26 L1211.96 393.35 L1214.1 393.54 L1216.24 393.82 L1218.38 394.19 L1220.52 394.65 L1222.66 395.19 L1224.8 395.83 L1226.94 396.55 L1229.08 397.36 L1231.23 398.25 L1233.37 399.22 L1235.51 400.28 L1237.65 401.42 L1239.79 402.64 L1241.93 403.93 L1244.07 405.3 L1246.21 406.74 L1248.35 408.23 L1250.49 409.77 L1252.63 411.36 L1254.77 412.99 L1256.91 414.65 L1259.05 416.34 L1261.19 418.05 L1263.33 419.77 L1265.47 421.5 L1267.61 423.22 L1269.75 424.96 L1271.89 426.7 L1274.03 428.45 L1276.17 430.21 L1278.31 431.98 L1280.45 433.78 L1282.59 435.59 L1284.73 437.42 L1286.87 439.27 L1289.01 441.15 L1291.15 443.06 L1293.29 445 L1295.43 446.97 L1297.57 448.98 L1299.71 451.02 L1301.85 453.09 L1303.99 455.19 L1306.13 457.31 L1308.27 459.46 L1310.41 461.64 L1312.55 463.83 L1314.69 466.04 L1316.84 468.27 L1318.98 470.51 L1321.12 472.76 L1323.26 475.03 L1325.4 477.32 L1327.54 479.61 L1329.68 481.91 L1331.82 484.23 L1333.96 486.55 L1336.1 488.88 L1338.24 491.21 L1340.38 493.56 L1342.52 495.9 L1344.66 498.25 L1346.8 500.61 L1348.94 502.96 L1351.08 505.32 L1353.22 507.67 L1355.36 510.03 L1357.5 512.38" fill="none" stroke="#333" stroke-width="1" stroke-dasharray="2 2.3"/>
<path d="M1017.2 564.76 L1019.34 565.43 L1021.48 565.97 L1023.62 566.38 L1025.76 566.68 L1027.9 566.88 L1030.04 566.97 L1032.18 566.97 L1034.32 566.88 L1036.46 566.71 L1038.6 566.46 L1040.74 566.16 L1042.88 565.79 L1045.02 565.37 L1047.16 564.91 L1049.3 564.41 L1051.44 563.88 L1053.58 563.33 L1055.72 562.77 L1057.86 562.19 L1060.01 561.61 L1062.15 561.02 L1064.29 560.41 L1066.43 559.75 L1068.57 559.05 L1070.71 558.29 L1072.85 557.46 L1074.99 556.54 L1077.13 555.53 L1079.27 554.41 L1081.41 553.16 L1083.55 551.78 L1085.69 550.26 L1087.83 548.58 L1089.97 546.73 L1092.11 544.7 L1094.25 542.48 L1096.39 540.08 L1098.53 537.5 L1100.67 534.76 L1102.81 531.87 L1104.95 528.86 L1107.09 525.74 L1109.23 522.52 L1111.37 519.22 L1113.51 515.86 L1115.65 512.45 L1117.79 509.02 L1119.93 505.57 L1122.07 502.12 L1124.21 498.68 L1126.35 495.25 L1128.49 491.83 L1130.63 488.44 L1132.77 485.06 L1134.91 481.72 L1137.05 478.4 L1139.19 475.12 L1141.33 471.87 L1143.47 468.67 L1145.62 465.51 L1147.76 462.4 L1149.9 459.35 L1152.04 456.35 L1154.18 453.43 L1156.32 450.6 L1158.46 447.86 L1160.6 445.25 L1162.74 442.76 L1164.88 440.43 L1167.02 438.26 L1169.16 436.26 L1171.3 434.46 L1173.44 432.85 L1175.58 431.42 L1177.72 430.16 L1179.86 429.04 L1182 428.08 L1184.14 427.24 L1186.28 426.55 L1188.42 425.99 L1190.56 425.56 L1192.7 425.26 L1194.84 425.09 L1196.98 425.05 L1199.12 425.13 L1201.26 425.34 L1203.4 425.66 L1205.54 426.11 L1207.68 426.67 L1209.82 427.34 L1211.96 428.13 L1214.1 429.04 L1216.24 430.05 L1218.38 431.16 L1220.52 432.39 L1222.66 433.72 L1224.8 435.15 L1226.94 436.68 L1229.08 438.3 L1231.23 440.03 L1233.37 441.85 L1235.51 443.76 L1237.65 445.76 L1239.79 447.85 L1241.93 450.02 L1244.07 452.27 L1246.21 454.59 L1248.35 456.97 L1250.49 459.4 L1252.63 461.87 L1254.77 464.38 L1256.91 466.91 L1259.05 469.46 L1261.19 472.02 L1263.33 474.58 L1265.47 477.13 L1267.61 479.67 L1269.75 482.2 L1271.89 484.72 L1274.03 487.22 L1276.17 489.71 L1278.31 492.19 L1280.45 494.66 L1282.59 497.12 L1284.73 499.57 L1286.87 502.02 L1289.01 504.45 L1291.15 506.88 L1293.29 509.3 L1295.43 511.71 L1297.57 514.12 L1299.71 516.51 L1301.85 518.89 L1303.99 521.25 L1306.13 523.59 L1308.27 525.9 L1310.41 528.19 L1312.55 530.44 L1314.69 532.65 L1316.84 534.82 L1318.98 536.94 L1321.12 539.02 L1323.26 541.04 L1325.4 543.01 L1327.54 544.93 L1329.68 546.79 L1331.82 548.59 L1333.96 550.32 L1336.1 551.98 L1338.24 553.58 L1340.38 555.1 L1342.52 556.54 L1344.66 557.91 L1346.8 559.2 L1348.94 560.4 L1351.08 561.52 L1353.22 562.54 L1355.36 563.48 L1357.5 564.32" fill="none" stroke="#333" stroke-width="1" stroke-dasharray="2 2.3"/>
<path d="M1019.71 366.1 L1020.6 366.2 L1021.42 366.29 L1022.25 366.42 L1023.07 366.58 L1023.89 366.77 L1024.71 367 L1025.54 367.25 L1026.36 367.54 L1027.18 367.86 L1028.01 368.21 L1028.83 368.59 L1029.65 369.01 L1030.47 369.45 L1031.3 369.92 L1032.12 370.42 L1032.94 370.95 L1033.76 371.5 L1034.59 372.09 L1035.41 372.7 L1036.23 373.34 L1037.06 374.01 L1037.88 374.7 L1038.7 375.42 L1039.52 376.16 L1040.35 376.93 L1041.17 377.73 L1041.99 378.55 L1042.82 379.39 L1043.64 380.26 L1044.46 381.15 L1045.28 382.06 L1046.11 383 L1046.93 383.95 L1047.75 384.93 L1048.58 385.94 L1049.4 386.96 L1050.22 388 L1051.04 389.07 L1051.87 390.15 L1052.69 391.25 L1053.51 392.38 L1054.34 393.52 L1055.16 394.68 L1055.98 395.86 L1056.8 397.05 L1057.63 398.27 L1058.45 399.5 L1059.27 400.74 L1060.09 402.01 L1060.92 403.29 L1061.74 404.58 L1062.56 405.89 L1063.39 407.22 L1064.21 408.56 L1065.03 409.91 L1065.85 411.28 L1066.68 412.66 L1067.5 414.05 L1068.32 415.45 L1069.15 416.87 L1069.97 418.3 L1070.79 419.74 L1071.61 421.19 L1072.44 422.66 L1073.26 424.13 L1074.08 425.61 L1074.91 427.1 L1075.73 428.6 L1076.55 430.11 L1077.37 431.63 L1078.2 433.16 L1079.02 434.69 L1079.84 436.23 L1080.66 437.78 L1081.49 439.34 L1082.31 440.9 L1083.13 442.46 L1083.96 444.04 L1084.78 445.61 L1085.6 447.19 L1086.42 448.78 L1087.25 450.37 L1088.07 451.96 L1088.89 453.56 L1089.72 455.16 L1090.54 456.76 L1091.36 458.36 L1092.18 459.97 L1093.01 461.58 L1093.83 463.18 L1094.65 464.79 L1095.48 466.4 L1096.3 468.01 L1097.12 469.61 L1097.94 471.22 L1098.77 472.82 L1099.59 474.43 L1100.41 476.03 L1101.24 477.63 L1102.06 479.22 L1102.88 480.82 L1103.7 482.4 L1104.53 483.99 L1105.35 485.57 L1106.17 487.15 L1106.99 488.72 L1107.82 490.29 L1108.64 491.86 L1109.46 493.42 L1110.29 494.97 L1111.11 496.52 L1111.93 498.06 L1112.75 499.59 L1113.58 501.12 L1114.4 502.64 L1115.22 504.16 L1116.05 505.66 L1116.87 507.16 L1117.69 508.66 L1118.51 510.14 L1119.34 511.61 L1120.16 513.08 L1120.98 514.54 L1121.81 515.99 L1122.63 517.42 L1123.45 518.85 L1124.27 520.27 L1125.1 521.68 L1125.92 523.08 L1126.74 524.46 L1127.56 525.84 L1128.39 527.2 L1129.21 528.55 L1130.03 529.89 L1130.86 531.22 L1131.68 532.54 L1132.5 533.84 L1133.32 535.13 L1134.15 536.4 L1134.97 537.67 L1135.79 538.91 L1136.62 540.15 L1137.44 541.37 L1138.26 542.57 L1139.08 543.76 L1139.91 544.94 L1140.73 546.1 L1141.55 547.24 L1142.38 548.37 L1143.2 549.48 L1144.02 550.57 L1144.84 551.65 L1145.67 552.71 L1146.49 553.75 L1147.31 554.77 L1148.14 555.78 L1148.96 556.77 L1149.78 557.74 L1150.6 558.69 L1151.43 559.62 L1152.25 560.53 L1153.07 561.43 L1153.89 562.3 L1154.72 563.15 L1155.54 563.99 L1156.36 564.8 L1157.19 565.59 L1158.01 566.36 L1158.83 567.1 L1159.65 567.83 L1160.48 568.53 L1161.3 569.22 L1162.12 569.87 L1162.95 570.51 L1163.77 571.12 L1164.59 571.71 L1165.41 572.28 L1166.24 572.82 L1167.06 573.34 L1167.88 573.83 L1168.71 574.3 L1169.53 574.74 L1170.35 575.16 L1171.17 575.55 L1172 575.91 L1172.82 576.25 L1173.64 576.56 L1174.46 576.85 L1175.29 577.11 L1176.11 577.34 L1176.93 577.55 L1177.76 577.72 L1178.58 577.87 L1179.4 577.99 L1180.22 578.08 L1181.05 578.15 L1181.87 578.18 L1182.69 578.18 L1183.52 578.16 L1184.34 578.1 L1185.16 578.02 L1185.98 577.9 L1186.81 577.76 L1187.63 577.59 L1188.45 577.39 L1189.28 577.16 L1190.1 576.9 L1190.92 576.62 L1191.74 576.31 L1192.57 575.97 L1193.39 575.61 L1194.21 575.22 L1195.04 574.81 L1195.86 574.37 L1196.68 573.9 L1197.5 573.41 L1198.33 572.89 L1199.15 572.35 L1199.97 571.79 L1200.79 571.2 L1201.62 570.59 L1202.44 569.96 L1203.26 569.3 L1204.09 568.62 L1204.91 567.92 L1205.73 567.2 L1206.55 566.45 L1207.38 565.69 L1208.2 564.9 L1209.02 564.09 L1209.85 563.27 L1210.67 562.42 L1211.49 561.55 L1212.31 560.66 L1213.14 559.76 L1213.96 558.83 L1214.78 557.89 L1215.61 556.93 L1216.43 555.95 L1217.25 554.95 L1218.07 553.93 L1218.9 552.9 L1219.72 551.85 L1220.54 550.79 L1221.36 549.71 L1222.19 548.61 L1223.01 547.5 L1223.83 546.37 L1224.66 545.23 L1225.48 544.07 L1226.3 542.9 L1227.12 541.72 L1227.95 540.52 L1228.77 539.31 L1229.59 538.08 L1230.42 536.85 L1231.24 535.6 L1232.06 534.33 L1232.88 533.06 L1233.71 531.78 L1234.53 530.48 L1235.35 529.17 L1236.18 527.85 L1237 526.52 L1237.82 525.19 L1238.64 523.84 L1239.47 522.48 L1240.29 521.11 L1241.11 519.74 L1241.94 518.36 L1242.76 516.96 L1243.58 515.56 L1244.4 514.16 L1245.23 512.74 L1246.05 511.32 L1246.87 509.89 L1247.69 508.46 L1248.52 507.02 L1249.34 505.57 L1250.16 504.12 L1250.99 502.66 L1251.81 501.2 L1252.63 499.74 L1253.45 498.26 L1254.28 496.79 L1255.1 495.31 L1255.92 493.83 L1256.75 492.35 L1257.57 490.86 L1258.39 489.37 L1259.21 487.88 L1260.04 486.39 L1260.86 484.89 L1261.68 483.4 L1262.51 481.9 L1263.33 480.4 L1264.15 478.91 L1264.97 477.41 L1265.8 475.91 L1266.62 474.42 L1267.44 472.92 L1268.26 471.43 L1269.09 469.94 L1269.91 468.45 L1270.73 466.96 L1271.56 465.47 L1272.38 463.99 L1273.2 462.5 L1274.02 461.02 L1274.85 459.55 L1275.67 458.08 L1276.49 456.61 L1277.32 455.14 L1278.14 453.68 L1278.96 452.22 L1279.78 450.77 L1280.61 449.32 L1281.43 447.87 L1282.25 446.43 L1283.08 445 L1283.9 443.57 L1284.72 442.14 L1285.54 440.73 L1286.37 439.31 L1287.19 437.91 L1288.01 436.51 L1288.84 435.12 L1289.66 433.73 L1290.48 432.35 L1291.3 430.98 L1292.13 429.62 L1292.95 428.26 L1293.77 426.91 L1294.59 425.57 L1295.42 424.24 L1296.24 422.92 L1297.06 421.6 L1297.89 420.3 L1298.71 419 L1299.53 417.72 L1300.35 416.44 L1301.18 415.17 L1302 413.92 L1302.82 412.67 L1303.65 411.43 L1304.47 410.21 L1305.29 409 L1306.11 407.79 L1306.94 406.6 L1307.76 405.42 L1308.58 404.25 L1309.41 403.1 L1310.23 401.96 L1311.05 400.82 L1311.87 399.71 L1312.7 398.6 L1313.52 397.51 L1314.34 396.43 L1315.16 395.37 L1315.99 394.31 L1316.81 393.28 L1317.63 392.25 L1318.46 391.25 L1319.28 390.25 L1320.1 389.27 L1320.92 388.31 L1321.75 387.36 L1322.57 386.43 L1323.39 385.51 L1324.22 384.61 L1325.04 383.73 L1325.86 382.86 L1326.68 382.01 L1327.51 381.17 L1328.33 380.35 L1329.15 379.55 L1329.98 378.77 L1330.8 378 L1331.62 377.26 L1332.44 376.53 L1333.27 375.82 L1334.09 375.13 L1334.91 374.45 L1335.74 373.8 L1336.56 373.16 L1337.38 372.55 L1338.2 371.95 L1339.03 371.38 L1339.85 370.82 L1340.67 370.28 L1341.49 369.77 L1342.32 369.27 L1343.14 368.8 L1343.96 368.35 L1344.79 367.92 L1345.61 367.51 L1346.43 367.12 L1347.25 366.76 L1348.08 366.42 L1348.9 366.1 L1350.58 365.44" fill="none" stroke="#b2000e" stroke-width="2.1" stroke-dasharray="1.8 15.4" stroke-linecap="round"/>
<path d="M1017.2 589.8V597.2M1017.75 589.8V597.2M1018.38 589.8V597.2M1019.3 589.8V597.2M1019.86 589.8V597.2M1020.45 589.8V597.2M1021.11 589.8V597.2M1021.45 589.8V597.2M1022.04 589.8V597.2M1022.73 589.8V597.2M1025.34 589.8V597.2M1026.08 589.8V597.2M1026.31 589.8V597.2M1027.27 589.8V597.2M1028.22 589.8V597.2M1028.93 589.8V597.2M1031.33 589.8V597.2M1031.71 589.8V597.2M1031.93 589.8V597.2M1032.49 589.8V597.2M1033.48 589.8V597.2M1035.02 589.8V597.2M1036.13 589.8V597.2M1037.39 589.8V597.2M1037.98 589.8V597.2M1038.69 589.8V597.2M1039.25 589.8V597.2M1039.66 589.8V597.2M1041.41 589.8V597.2M1043.17 589.8V597.2M1044.71 589.8V597.2M1045.46 589.8V597.2M1045.9 589.8V597.2M1046.27 589.8V597.2M1046.7 589.8V597.2M1046.95 589.8V597.2M1047.74 589.8V597.2M1048.25 589.8V597.2M1049.11 589.8V597.2M1049.6 589.8V597.2M1050.55 589.8V597.2M1051.41 589.8V597.2M1051.6 589.8V597.2M1051.96 589.8V597.2M1052.87 589.8V597.2M1053.43 589.8V597.2M1055.16 589.8V597.2M1056.1 589.8V597.2M1056.59 589.8V597.2M1057.84 589.8V597.2M1059.3 589.8V597.2M1059.7 589.8V597.2M1059.97 589.8V597.2M1060.42 589.8V597.2M1061.37 589.8V597.2M1062.16 589.8V597.2M1062.45 589.8V597.2M1062.84 589.8V597.2M1063.11 589.8V597.2M1063.35 589.8V597.2M1064.17 589.8V597.2M1064.51 589.8V597.2M1065.14 589.8V597.2M1065.68 589.8V597.2M1066.34 589.8V597.2M1067.73 589.8V597.2M1068.3 589.8V597.2M1069.57 589.8V597.2M1069.86 589.8V597.2M1070.38 589.8V597.2M1070.74 589.8V597.2M1071.15 589.8V597.2M1072.1 589.8V597.2M1072.93 589.8V597.2M1073.36 589.8V597.2M1074.25 589.8V597.2M1074.61 589.8V597.2M1075.11 589.8V597.2M1075.98 589.8V597.2M1076.67 589.8V597.2M1076.95 589.8V597.2M1077.92 589.8V597.2M1078.6 589.8V597.2M1079.34 589.8V597.2M1080.79 589.8V597.2M1081.63 589.8V597.2M1082.06 589.8V597.2M1082.31 589.8V597.2M1082.58 589.8V597.2M1083.23 589.8V597.2M1083.61 589.8V597.2M1084.28 589.8V597.2M1084.77 589.8V597.2M1085.32 589.8V597.2M1088.35 589.8V597.2M1088.69 589.8V597.2M1089.01 589.8V597.2M1089.91 589.8V597.2M1090.75 589.8V597.2M1091.14 589.8V597.2M1091.48 589.8V597.2M1092.26 589.8V597.2M1093.19 589.8V597.2M1093.54 589.8V597.2M1094.47 589.8V597.2M1095.36 589.8V597.2M1096.03 589.8V597.2M1096.55 589.8V597.2M1096.83 589.8V597.2M1097.05 589.8V597.2M1098 589.8V597.2M1098.38 589.8V597.2M1099.13 589.8V597.2M1099.53 589.8V597.2M1100.37 589.8V597.2M1101.57 589.8V597.2M1102.37 589.8V597.2M1103 589.8V597.2M1104.37 589.8V597.2M1104.86 589.8V597.2M1105.23 589.8V597.2M1105.86 589.8V597.2M1106.73 589.8V597.2M1107.4 589.8V597.2M1107.82 589.8V597.2M1108.73 589.8V597.2M1109.08 589.8V597.2M1109.29 589.8V597.2M1109.7 589.8V597.2M1110.24 589.8V597.2M1110.49 589.8V597.2M1110.82 589.8V597.2M1111.3 589.8V597.2M1111.95 589.8V597.2M1112.24 589.8V597.2M1112.72 589.8V597.2M1113.61 589.8V597.2M1114.58 589.8V597.2M1115.29 589.8V597.2M1116.02 589.8V597.2M1116.67 589.8V597.2M1116.98 589.8V597.2M1117.2 589.8V597.2M1117.41 589.8V597.2M1118.32 589.8V597.2M1119.06 589.8V597.2M1120.01 589.8V597.2M1120.22 589.8V597.2M1120.92 589.8V597.2M1121.49 589.8V597.2M1122.25 589.8V597.2M1122.7 589.8V597.2M1123.68 589.8V597.2M1123.93 589.8V597.2M1124.55 589.8V597.2M1125.32 589.8V597.2M1126.22 589.8V597.2M1127 589.8V597.2M1127.74 589.8V597.2M1128.56 589.8V597.2M1129.47 589.8V597.2M1129.94 589.8V597.2M1130.67 589.8V597.2M1131.57 589.8V597.2M1132.45 589.8V597.2M1132.97 589.8V597.2M1133.78 589.8V597.2M1134.65 589.8V597.2M1135.29 589.8V597.2M1135.98 589.8V597.2M1136.47 589.8V597.2M1137.12 589.8V597.2M1137.8 589.8V597.2M1138.05 589.8V597.2M1138.75 589.8V597.2M1139.72 589.8V597.2M1141.99 589.8V597.2M1142.91 589.8V597.2M1144.31 589.8V597.2M1145.5 589.8V597.2M1146.49 589.8V597.2M1148.03 589.8V597.2M1148.53 589.8V597.2M1149.95 589.8V597.2M1150.38 589.8V597.2M1151.6 589.8V597.2M1152.65 589.8V597.2M1153.35 589.8V597.2M1155.28 589.8V597.2M1155.96 589.8V597.2M1156.87 589.8V597.2M1157.27 589.8V597.2M1157.47 589.8V597.2M1157.9 589.8V597.2M1158.63 589.8V597.2M1158.98 589.8V597.2M1159.31 589.8V597.2M1160.21 589.8V597.2M1160.93 589.8V597.2M1161.47 589.8V597.2M1162.36 589.8V597.2M1162.81 589.8V597.2M1163.53 589.8V597.2M1163.88 589.8V597.2M1164.41 589.8V597.2M1165.24 589.8V597.2M1166.15 589.8V597.2M1168.18 589.8V597.2M1170.27 589.8V597.2M1171.8 589.8V597.2M1173.36 589.8V597.2M1174.72 589.8V597.2M1176.41 589.8V597.2M1177.18 589.8V597.2M1177.8 589.8V597.2M1178.81 589.8V597.2M1179.58 589.8V597.2M1180.26 589.8V597.2M1181.22 589.8V597.2M1182.47 589.8V597.2M1183.53 589.8V597.2M1183.97 589.8V597.2M1184.83 589.8V597.2M1185.79 589.8V597.2M1186.34 589.8V597.2M1186.59 589.8V597.2M1186.81 589.8V597.2M1188.67 589.8V597.2M1189.31 589.8V597.2M1189.75 589.8V597.2M1190.56 589.8V597.2M1190.77 589.8V597.2M1191.07 589.8V597.2M1191.62 589.8V597.2M1191.84 589.8V597.2M1192.68 589.8V597.2M1193.06 589.8V597.2M1193.37 589.8V597.2M1193.6 589.8V597.2M1194.29 589.8V597.2M1194.83 589.8V597.2M1196.23 589.8V597.2M1197.06 589.8V597.2M1198 589.8V597.2M1198.73 589.8V597.2M1199.08 589.8V597.2M1199.65 589.8V597.2M1200.75 589.8V597.2M1201.51 589.8V597.2M1201.84 589.8V597.2M1202.25 589.8V597.2M1202.72 589.8V597.2M1203.46 589.8V597.2M1204.06 589.8V597.2M1204.74 589.8V597.2M1209.83 589.8V597.2M1210.81 589.8V597.2M1211.78 589.8V597.2M1212.76 589.8V597.2M1213.84 589.8V597.2M1215.99 589.8V597.2M1219.41 589.8V597.2M1220.68 589.8V597.2M1221.56 589.8V597.2M1222.53 589.8V597.2M1224.1 589.8V597.2M1228.69 589.8V597.2M1233.09 589.8V597.2M1238.37 589.8V597.2M1239.64 589.8V597.2M1241.79 589.8V597.2M1244.23 589.8V597.2M1246.09 589.8V597.2M1246.87 589.8V597.2M1247.65 589.8V597.2M1249.8 589.8V597.2M1260.06 589.8V597.2M1260.75 589.8V597.2M1261.33 589.8V597.2M1262.51 589.8V597.2M1263.78 589.8V597.2M1265.34 589.8V597.2M1267.49 589.8V597.2M1270.32 589.8V597.2M1270.91 589.8V597.2M1272.18 589.8V597.2M1273.35 589.8V597.2M1280.19 589.8V597.2M1282.34 589.8V597.2M1288.01 589.8V597.2M1293.88 589.8V597.2M1296.03 589.8V597.2M1297.59 589.8V597.2M1303.65 589.8V597.2M1306.48 589.8V597.2M1311.37 589.8V597.2M1313.42 589.8V597.2M1314.3 589.8V597.2M1320.17 589.8V597.2M1338.74 589.8V597.2M1341.67 589.8V597.2M1346.65 589.8V597.2M1352.52 589.8V597.2M1355.35 589.8V597.2M1357.3 589.8V597.2" stroke="#000" stroke-width="1"/>
<rect x="1004" y="353.4" width="367.4" height="243.8" fill="none" stroke="#444" stroke-width="1"/>
<path d="M1004 362.08V588.39M998.7 588.39H1004M998.7 556.06H1004M998.7 523.73H1004M998.7 491.4H1004M998.7 459.07H1004M998.7 426.74H1004M998.7 394.41H1004M998.7 362.08H1004M1017 597.2H1294.5M1017 597.2V603.2M1109.6 597.2V603.2M1201.9 597.2V603.2M1294.5 597.2V603.2" fill="none" stroke="#555" stroke-width="1"/>
<path d="M1371.4 367.2H1376.7M1371.4 475.6H1376.7M1371.4 590.9H1376.7" fill="none" stroke="#777" stroke-width="0.9"/>
<text transform="translate(993.9 593.94) rotate(-90)" style="font-family:'DejaVu Sans', sans-serif;font-size:11.5px;">-3</text>
<text transform="translate(993.9 561.49) rotate(-90)" style="font-family:'DejaVu Sans', sans-serif;font-size:11.5px;">-2</text>
<text transform="translate(993.9 529.22) rotate(-90)" style="font-family:'DejaVu Sans', sans-serif;font-size:11.5px;">-1</text>
<text transform="translate(993.9 495.05) rotate(-90)" style="font-family:'DejaVu Sans', sans-serif;font-size:11.5px;">0</text>
<text transform="translate(993.9 462.84) rotate(-90)" style="font-family:'DejaVu Sans', sans-serif;font-size:11.5px;">1</text>
<text transform="translate(993.9 430.25) rotate(-90)" style="font-family:'DejaVu Sans', sans-serif;font-size:11.5px;">2</text>
<text transform="translate(993.9 398.03) rotate(-90)" style="font-family:'DejaVu Sans', sans-serif;font-size:11.5px;">3</text>
<text transform="translate(993.9 365.7) rotate(-90)" style="font-family:'DejaVu Sans', sans-serif;font-size:11.5px;">4</text>
<text x="1005.35" y="619" style="font-family:'DejaVu Sans', sans-serif;font-size:11.5px;">0</text>
<text x="1094.56" y="619" style="font-family:'DejaVu Sans', sans-serif;font-size:11.5px;">200</text>
<text x="1188.6" y="619" style="font-family:'DejaVu Sans', sans-serif;font-size:11.5px;">400</text>
<text x="1284.19" y="619" style="font-family:'DejaVu Sans', sans-serif;font-size:11.5px;">600</text>
<text transform="translate(971.51 529.25) rotate(-90)" style="font-family:'DejaVu Sans', sans-serif;font-size:14px;">Partial Effect</text>
<text x="1095" y="640" style="font-family:'DejaVu Sans', sans-serif;font-size:14px;">Minutes After the High Tide</text>
<text transform="translate(1401.29 439.47) rotate(90)" style="font-family:'DejaVu Sans', sans-serif;font-size:14px;">Tidal State</text>
<text transform="translate(1383.77 355.42) rotate(90) scale(1 1.12)" style="font-family:'DejaVu Sans', sans-serif;font-size:11.3px;">High</text>
<text transform="translate(1380.74 464.91) rotate(90) scale(1 1.12)" style="font-family:'DejaVu Sans', sans-serif;font-size:11.3px;">Mid</text>
<text transform="translate(1380.08 575.36) rotate(90) scale(1 1.12)" style="font-family:'DejaVu Sans', sans-serif;font-size:11.3px;">Low</text>
<text x="955.97" y="350" style="font-family:'Liberation Sans', Arial, sans-serif;font-size:29px;font-weight:bold;">F</text>
<text x="1075.09" y="372" style="font-family:'DejaVu Sans', sans-serif;font-size:10.85px;font-style:italic;">N. caeruleopunctata</text></g>
<g><path d="M1483.6 414.67 L1485.75 417.37 L1487.9 420.13 L1490.05 422.95 L1492.21 425.84 L1494.36 428.79 L1496.51 431.81 L1498.66 434.9 L1500.81 438.07 L1502.96 441.31 L1505.12 444.63 L1507.27 448.03 L1509.42 451.51 L1511.57 455.07 L1513.72 458.7 L1515.87 462.39 L1518.03 466.13 L1520.18 469.92 L1522.33 473.74 L1524.48 477.59 L1526.63 481.45 L1528.78 485.31 L1530.93 489.17 L1533.09 492.99 L1535.24 496.76 L1537.39 500.44 L1539.54 504.02 L1541.69 507.47 L1543.84 510.76 L1546 513.88 L1548.15 516.81 L1550.3 519.56 L1552.45 522.14 L1554.6 524.55 L1556.75 526.8 L1558.91 528.91 L1561.06 530.88 L1563.21 532.71 L1565.36 534.41 L1567.51 536 L1569.66 537.47 L1571.81 538.81 L1573.97 540.02 L1576.12 541.09 L1578.27 542 L1580.42 542.76 L1582.57 543.35 L1584.72 543.76 L1586.88 543.99 L1589.03 544.03 L1591.18 543.87 L1593.33 543.54 L1595.48 543.03 L1597.63 542.36 L1599.78 541.54 L1601.94 540.59 L1604.09 539.5 L1606.24 538.31 L1608.39 537.01 L1610.54 535.61 L1612.69 534.14 L1614.85 532.58 L1617 530.95 L1619.15 529.25 L1621.3 527.48 L1623.45 525.65 L1625.6 523.77 L1627.76 521.83 L1629.91 519.85 L1632.06 517.83 L1634.21 515.76 L1636.36 513.67 L1638.51 511.53 L1640.66 509.37 L1642.82 507.17 L1644.97 504.94 L1647.12 502.69 L1649.27 500.42 L1651.42 498.12 L1653.57 495.8 L1655.73 493.46 L1657.88 491.1 L1660.03 488.73 L1662.18 486.35 L1664.33 483.95 L1666.48 481.55 L1668.64 479.14 L1670.79 476.73 L1672.94 474.31 L1675.09 471.89 L1677.24 469.47 L1679.39 467.06 L1681.54 464.65 L1683.7 462.25 L1685.85 459.85 L1688 457.47 L1690.15 455.1 L1692.3 452.75 L1694.45 450.41 L1696.61 448.09 L1698.76 445.79 L1700.91 443.5 L1703.06 441.25 L1705.21 439.01 L1707.36 436.8 L1709.52 434.62 L1711.67 432.46 L1713.82 430.33 L1715.97 428.24 L1718.12 426.17 L1720.27 424.14 L1722.42 422.15 L1724.58 420.19 L1726.73 418.27 L1728.88 416.39 L1731.03 414.55 L1733.18 412.75 L1735.33 410.99 L1737.49 409.29 L1739.64 407.62 L1741.79 406.01 L1743.94 404.44 L1746.09 402.93 L1748.24 401.47 L1750.39 400.07 L1752.55 398.72 L1754.7 397.45 L1756.85 396.25 L1759 395.13 L1761.15 394.09 L1763.3 393.14 L1765.46 392.29 L1767.61 391.53 L1769.76 390.88 L1771.91 390.34 L1774.06 389.91 L1776.21 389.6 L1778.37 389.41 L1780.52 389.34 L1782.67 389.38 L1784.82 389.54 L1786.97 389.82 L1789.12 390.21 L1791.27 390.73 L1793.43 391.36 L1795.58 392.12 L1797.73 393 L1799.88 393.99 L1802.03 395.11 L1804.18 396.35 L1806.34 397.71 L1808.49 399.19 L1810.64 400.79 L1812.79 402.52 L1814.94 404.37 L1817.09 406.35 L1819.25 408.44 L1821.4 410.67 L1823.55 413.01 L1825.7 415.49" fill="none" stroke="#222" stroke-width="1"/>
<path d="M1483.6 389.91 L1485.75 393.07 L1487.9 396.28 L1490.05 399.54 L1492.21 402.86 L1494.36 406.24 L1496.51 409.67 L1498.66 413.16 L1500.81 416.72 L1502.96 420.35 L1505.12 424.04 L1507.27 427.8 L1509.42 431.63 L1511.57 435.54 L1513.72 439.5 L1515.87 443.51 L1518.03 447.57 L1520.18 451.66 L1522.33 455.77 L1524.48 459.9 L1526.63 464.03 L1528.78 468.16 L1530.93 472.27 L1533.09 476.33 L1535.24 480.33 L1537.39 484.23 L1539.54 488.02 L1541.69 491.67 L1543.84 495.15 L1546 498.45 L1548.15 501.55 L1550.3 504.45 L1552.45 507.18 L1554.6 509.73 L1556.75 512.11 L1558.91 514.34 L1561.06 516.41 L1563.21 518.34 L1565.36 520.13 L1567.51 521.79 L1569.66 523.32 L1571.81 524.72 L1573.97 525.97 L1576.12 527.07 L1578.27 528.01 L1580.42 528.78 L1582.57 529.37 L1584.72 529.77 L1586.88 529.98 L1589.03 529.98 L1591.18 529.79 L1593.33 529.4 L1595.48 528.82 L1597.63 528.08 L1599.78 527.17 L1601.94 526.12 L1604.09 524.92 L1606.24 523.6 L1608.39 522.16 L1610.54 520.62 L1612.69 518.98 L1614.85 517.24 L1617 515.42 L1619.15 513.51 L1621.3 511.52 L1623.45 509.46 L1625.6 507.33 L1627.76 505.13 L1629.91 502.87 L1632.06 500.55 L1634.21 498.18 L1636.36 495.76 L1638.51 493.29 L1640.66 490.78 L1642.82 488.23 L1644.97 485.64 L1647.12 483.02 L1649.27 480.37 L1651.42 477.7 L1653.57 475 L1655.73 472.29 L1657.88 469.56 L1660.03 466.81 L1662.18 464.06 L1664.33 461.31 L1666.48 458.55 L1668.64 455.8 L1670.79 453.05 L1672.94 450.31 L1675.09 447.58 L1677.24 444.87 L1679.39 442.17 L1681.54 439.5 L1683.7 436.84 L1685.85 434.2 L1688 431.59 L1690.15 429 L1692.3 426.44 L1694.45 423.9 L1696.61 421.39 L1698.76 418.91 L1700.91 416.45 L1703.06 414.03 L1705.21 411.63 L1707.36 409.27 L1709.52 406.94 L1711.67 404.64 L1713.82 402.37 L1715.97 400.14 L1718.12 397.94 L1720.27 395.78 L1722.42 393.66 L1724.58 391.57 L1726.73 389.52 L1728.88 387.52 L1731.03 385.55 L1733.18 383.62 L1735.33 381.74 L1737.49 379.9 L1739.64 378.1 L1741.79 376.36 L1743.94 374.67 L1746.09 373.03 L1748.24 371.46 L1750.39 369.94 L1752.55 368.49 L1754.7 367.11 L1756.85 365.82 L1759 364.61 L1761.15 363.49 L1763.3 362.47 L1765.46 361.55 L1767.61 360.74 L1769.76 360.05 L1771.91 359.49 L1774.06 359.04 L1776.21 358.73 L1778.37 358.56 L1780.52 358.51 L1782.67 358.6 L1784.82 358.83 L1786.97 359.2 L1789.12 359.7 L1791.27 360.35 L1793.43 361.14 L1795.58 362.07 L1797.73 363.15 L1799.88 364.38 L1802.03 365.76 L1804.18 367.29 L1806.34 368.97 L1808.49 370.81 L1810.64 372.8 L1812.79 374.95 L1814.94 377.25 L1817.09 379.72 L1819.25 382.35 L1821.4 385.14 L1823.55 388.1 L1825.7 391.23" fill="none" stroke="#333" stroke-width="1" stroke-dasharray="2 2.3"/>
<path d="M1483.6 439.43 L1485.75 441.67 L1487.9 443.98 L1490.05 446.36 L1492.21 448.81 L1494.36 451.34 L1496.51 453.95 L1498.66 456.64 L1500.81 459.41 L1502.96 462.27 L1505.12 465.22 L1507.27 468.26 L1509.42 471.39 L1511.57 474.6 L1513.72 477.9 L1515.87 481.27 L1518.03 484.7 L1520.18 488.19 L1522.33 491.71 L1524.48 495.28 L1526.63 498.87 L1528.78 502.47 L1530.93 506.08 L1533.09 509.66 L1535.24 513.19 L1537.39 516.66 L1539.54 520.03 L1541.69 523.27 L1543.84 526.38 L1546 529.31 L1548.15 532.07 L1550.3 534.66 L1552.45 537.09 L1554.6 539.37 L1556.75 541.5 L1558.91 543.49 L1561.06 545.34 L1563.21 547.08 L1565.36 548.7 L1567.51 550.21 L1569.66 551.62 L1571.81 552.91 L1573.97 554.07 L1576.12 555.1 L1578.27 556 L1580.42 556.74 L1582.57 557.33 L1584.72 557.76 L1586.88 558.01 L1589.03 558.07 L1591.18 557.96 L1593.33 557.68 L1595.48 557.23 L1597.63 556.64 L1599.78 555.91 L1601.94 555.06 L1604.09 554.09 L1606.24 553.02 L1608.39 551.85 L1610.54 550.61 L1612.69 549.3 L1614.85 547.92 L1617 546.48 L1619.15 544.98 L1621.3 543.44 L1623.45 541.84 L1625.6 540.21 L1627.76 538.54 L1629.91 536.83 L1632.06 535.1 L1634.21 533.35 L1636.36 531.58 L1638.51 529.78 L1640.66 527.96 L1642.82 526.11 L1644.97 524.25 L1647.12 522.36 L1649.27 520.46 L1651.42 518.54 L1653.57 516.59 L1655.73 514.63 L1657.88 512.65 L1660.03 510.65 L1662.18 508.63 L1664.33 506.6 L1666.48 504.55 L1668.64 502.49 L1670.79 500.41 L1672.94 498.31 L1675.09 496.2 L1677.24 494.08 L1679.39 491.95 L1681.54 489.8 L1683.7 487.65 L1685.85 485.5 L1688 483.35 L1690.15 481.2 L1692.3 479.05 L1694.45 476.91 L1696.61 474.78 L1698.76 472.66 L1700.91 470.56 L1703.06 468.46 L1705.21 466.39 L1707.36 464.33 L1709.52 462.29 L1711.67 460.28 L1713.82 458.29 L1715.97 456.33 L1718.12 454.4 L1720.27 452.5 L1722.42 450.64 L1724.58 448.81 L1726.73 447.01 L1728.88 445.26 L1731.03 443.55 L1733.18 441.88 L1735.33 440.25 L1737.49 438.68 L1739.64 437.14 L1741.79 435.66 L1743.94 434.22 L1746.09 432.82 L1748.24 431.48 L1750.39 430.19 L1752.55 428.96 L1754.7 427.79 L1756.85 426.69 L1759 425.65 L1761.15 424.69 L1763.3 423.82 L1765.46 423.02 L1767.61 422.32 L1769.76 421.71 L1771.91 421.19 L1774.06 420.78 L1776.21 420.47 L1778.37 420.27 L1780.52 420.16 L1782.67 420.15 L1784.82 420.25 L1786.97 420.44 L1789.12 420.72 L1791.27 421.11 L1793.43 421.59 L1795.58 422.17 L1797.73 422.84 L1799.88 423.6 L1802.03 424.46 L1804.18 425.41 L1806.34 426.44 L1808.49 427.57 L1810.64 428.79 L1812.79 430.1 L1814.94 431.49 L1817.09 432.97 L1819.25 434.54 L1821.4 436.19 L1823.55 437.93 L1825.7 439.75" fill="none" stroke="#333" stroke-width="1" stroke-dasharray="2 2.3"/>
<path d="M1491.11 363.99 L1492 364.09 L1492.82 364.17 L1493.64 364.29 L1494.46 364.45 L1495.28 364.63 L1496.11 364.85 L1496.93 365.1 L1497.75 365.39 L1498.57 365.7 L1499.39 366.05 L1500.21 366.42 L1501.03 366.83 L1501.85 367.26 L1502.67 367.73 L1503.49 368.22 L1504.32 368.75 L1505.14 369.3 L1505.96 369.88 L1506.78 370.48 L1507.6 371.12 L1508.42 371.78 L1509.24 372.47 L1510.06 373.18 L1510.88 373.92 L1511.71 374.68 L1512.53 375.47 L1513.35 376.29 L1514.17 377.12 L1514.99 377.99 L1515.81 378.87 L1516.63 379.78 L1517.45 380.71 L1518.27 381.67 L1519.09 382.64 L1519.92 383.64 L1520.74 384.66 L1521.56 385.7 L1522.38 386.76 L1523.2 387.84 L1524.02 388.94 L1524.84 390.06 L1525.66 391.19 L1526.48 392.35 L1527.31 393.53 L1528.13 394.72 L1528.95 395.93 L1529.77 397.16 L1530.59 398.4 L1531.41 399.66 L1532.23 400.94 L1533.05 402.23 L1533.87 403.54 L1534.69 404.86 L1535.52 406.2 L1536.34 407.55 L1537.16 408.91 L1537.98 410.29 L1538.8 411.68 L1539.62 413.09 L1540.44 414.5 L1541.26 415.93 L1542.08 417.37 L1542.91 418.82 L1543.73 420.28 L1544.55 421.75 L1545.37 423.23 L1546.19 424.73 L1547.01 426.23 L1547.83 427.74 L1548.65 429.25 L1549.47 430.78 L1550.29 432.31 L1551.12 433.86 L1551.94 435.4 L1552.76 436.96 L1553.58 438.52 L1554.4 440.09 L1555.22 441.66 L1556.04 443.24 L1556.86 444.82 L1557.68 446.41 L1558.51 448 L1559.33 449.59 L1560.15 451.19 L1560.97 452.79 L1561.79 454.4 L1562.61 456 L1563.43 457.61 L1564.25 459.22 L1565.07 460.83 L1565.89 462.44 L1566.72 464.05 L1567.54 465.66 L1568.36 467.27 L1569.18 468.88 L1570 470.49 L1570.82 472.1 L1571.64 473.7 L1572.46 475.3 L1573.28 476.9 L1574.11 478.5 L1574.93 480.09 L1575.75 481.68 L1576.57 483.27 L1577.39 484.85 L1578.21 486.43 L1579.03 488 L1579.85 489.57 L1580.67 491.14 L1581.49 492.7 L1582.32 494.25 L1583.14 495.79 L1583.96 497.33 L1584.78 498.87 L1585.6 500.4 L1586.42 501.92 L1587.24 503.43 L1588.06 504.93 L1588.88 506.43 L1589.71 507.92 L1590.53 509.4 L1591.35 510.87 L1592.17 512.33 L1592.99 513.79 L1593.81 515.23 L1594.63 516.67 L1595.45 518.09 L1596.27 519.51 L1597.09 520.91 L1597.92 522.3 L1598.74 523.68 L1599.56 525.05 L1600.38 526.41 L1601.2 527.76 L1602.02 529.09 L1602.84 530.41 L1603.66 531.72 L1604.48 533.02 L1605.31 534.3 L1606.13 535.57 L1606.95 536.82 L1607.77 538.06 L1608.59 539.29 L1609.41 540.5 L1610.23 541.69 L1611.05 542.87 L1611.87 544.04 L1612.69 545.19 L1613.52 546.32 L1614.34 547.44 L1615.16 548.54 L1615.98 549.62 L1616.8 550.69 L1617.62 551.73 L1618.44 552.76 L1619.26 553.78 L1620.08 554.77 L1620.91 555.75 L1621.73 556.7 L1622.55 557.64 L1623.37 558.56 L1624.19 559.46 L1625.01 560.34 L1625.83 561.19 L1626.65 562.03 L1627.47 562.85 L1628.29 563.64 L1629.12 564.42 L1629.94 565.17 L1630.76 565.9 L1631.58 566.61 L1632.4 567.3 L1633.22 567.96 L1634.04 568.6 L1634.86 569.22 L1635.68 569.81 L1636.51 570.38 L1637.33 570.93 L1638.15 571.45 L1638.97 571.95 L1639.79 572.42 L1640.61 572.86 L1641.43 573.29 L1642.25 573.68 L1643.07 574.05 L1643.89 574.39 L1644.72 574.71 L1645.54 575 L1646.36 575.26 L1647.18 575.5 L1648 575.7 L1648.82 575.88 L1649.64 576.04 L1650.46 576.16 L1651.28 576.25 L1652.11 576.32 L1652.93 576.35 L1653.75 576.36 L1654.57 576.33 L1655.39 576.28 L1656.21 576.2 L1657.03 576.08 L1657.85 575.94 L1658.67 575.77 L1659.49 575.57 L1660.32 575.35 L1661.14 575.09 L1661.96 574.81 L1662.78 574.5 L1663.6 574.17 L1664.42 573.8 L1665.24 573.42 L1666.06 573 L1666.88 572.56 L1667.71 572.1 L1668.53 571.61 L1669.35 571.09 L1670.17 570.55 L1670.99 569.99 L1671.81 569.4 L1672.63 568.79 L1673.45 568.16 L1674.27 567.5 L1675.09 566.82 L1675.92 566.12 L1676.74 565.4 L1677.56 564.65 L1678.38 563.89 L1679.2 563.1 L1680.02 562.29 L1680.84 561.46 L1681.66 560.61 L1682.48 559.75 L1683.31 558.86 L1684.13 557.95 L1684.95 557.03 L1685.77 556.08 L1686.59 555.12 L1687.41 554.14 L1688.23 553.14 L1689.05 552.13 L1689.87 551.09 L1690.69 550.04 L1691.52 548.98 L1692.34 547.9 L1693.16 546.8 L1693.98 545.69 L1694.8 544.56 L1695.62 543.42 L1696.44 542.26 L1697.26 541.09 L1698.08 539.9 L1698.91 538.7 L1699.73 537.49 L1700.55 536.26 L1701.37 535.03 L1702.19 533.78 L1703.01 532.51 L1703.83 531.24 L1704.65 529.95 L1705.47 528.65 L1706.29 527.35 L1707.12 526.03 L1707.94 524.7 L1708.76 523.36 L1709.58 522.01 L1710.4 520.65 L1711.22 519.29 L1712.04 517.91 L1712.86 516.53 L1713.68 515.13 L1714.51 513.73 L1715.33 512.32 L1716.15 510.91 L1716.97 509.49 L1717.79 508.06 L1718.61 506.62 L1719.43 505.18 L1720.25 503.74 L1721.07 502.29 L1721.89 500.83 L1722.72 499.37 L1723.54 497.9 L1724.36 496.43 L1725.18 494.96 L1726 493.48 L1726.82 492 L1727.64 490.52 L1728.46 489.03 L1729.28 487.54 L1730.11 486.05 L1730.93 484.56 L1731.75 483.06 L1732.57 481.57 L1733.39 480.07 L1734.21 478.58 L1735.03 477.08 L1735.85 475.59 L1736.67 474.09 L1737.49 472.6 L1738.32 471.1 L1739.14 469.61 L1739.96 468.12 L1740.78 466.63 L1741.6 465.14 L1742.42 463.66 L1743.24 462.18 L1744.06 460.7 L1744.88 459.22 L1745.71 457.75 L1746.53 456.27 L1747.35 454.81 L1748.17 453.34 L1748.99 451.88 L1749.81 450.43 L1750.63 448.98 L1751.45 447.53 L1752.27 446.09 L1753.09 444.65 L1753.92 443.22 L1754.74 441.79 L1755.56 440.37 L1756.38 438.96 L1757.2 437.55 L1758.02 436.14 L1758.84 434.75 L1759.66 433.36 L1760.48 431.97 L1761.31 430.6 L1762.13 429.23 L1762.95 427.87 L1763.77 426.51 L1764.59 425.17 L1765.41 423.83 L1766.23 422.5 L1767.05 421.18 L1767.87 419.87 L1768.69 418.57 L1769.52 417.27 L1770.34 415.99 L1771.16 414.72 L1771.98 413.45 L1772.8 412.2 L1773.62 410.95 L1774.44 409.72 L1775.26 408.49 L1776.08 407.28 L1776.91 406.08 L1777.73 404.89 L1778.55 403.71 L1779.37 402.55 L1780.19 401.39 L1781.01 400.25 L1781.83 399.12 L1782.65 398 L1783.47 396.9 L1784.29 395.81 L1785.12 394.73 L1785.94 393.66 L1786.76 392.61 L1787.58 391.57 L1788.4 390.55 L1789.22 389.54 L1790.04 388.55 L1790.86 387.57 L1791.68 386.6 L1792.51 385.65 L1793.33 384.72 L1794.15 383.8 L1794.97 382.9 L1795.79 382.01 L1796.61 381.14 L1797.43 380.29 L1798.25 379.45 L1799.07 378.63 L1799.89 377.83 L1800.72 377.04 L1801.54 376.27 L1802.36 375.52 L1803.18 374.79 L1804 374.07 L1804.82 373.37 L1805.64 372.7 L1806.46 372.04 L1807.28 371.4 L1808.11 370.78 L1808.93 370.17 L1809.75 369.59 L1810.57 369.03 L1811.39 368.49 L1812.21 367.97 L1813.03 367.46 L1813.85 366.98 L1814.67 366.52 L1815.49 366.09 L1816.32 365.67 L1817.14 365.27 L1817.96 364.9 L1818.78 364.55 L1819.6 364.22 L1821.27 363.54" fill="none" stroke="#b2000e" stroke-width="2.1" stroke-dasharray="1.8 15.39" stroke-linecap="round"/>
<path d="M1483.6 588.6V596M1484.15 588.6V596M1484.79 588.6V596M1485.71 588.6V596M1486.27 588.6V596M1486.87 588.6V596M1487.53 588.6V596M1487.87 588.6V596M1488.47 588.6V596M1489.16 588.6V596M1491.79 588.6V596M1492.53 588.6V596M1492.76 588.6V596M1493.73 588.6V596M1494.68 588.6V596M1495.39 588.6V596M1497.8 588.6V596M1498.19 588.6V596M1498.41 588.6V596M1498.97 588.6V596M1499.97 588.6V596M1501.52 588.6V596M1502.63 588.6V596M1503.9 588.6V596M1504.49 588.6V596M1505.21 588.6V596M1505.76 588.6V596M1506.18 588.6V596M1507.94 588.6V596M1509.7 588.6V596M1511.25 588.6V596M1512.01 588.6V596M1512.45 588.6V596M1512.83 588.6V596M1513.25 588.6V596M1513.5 588.6V596M1514.3 588.6V596M1514.81 588.6V596M1515.68 588.6V596M1516.18 588.6V596M1517.12 588.6V596M1517.99 588.6V596M1518.18 588.6V596M1518.55 588.6V596M1519.46 588.6V596M1520.02 588.6V596M1521.76 588.6V596M1522.7 588.6V596M1523.2 588.6V596M1524.46 588.6V596M1525.92 588.6V596M1526.33 588.6V596M1526.59 588.6V596M1527.05 588.6V596M1528.01 588.6V596M1528.8 588.6V596M1529.09 588.6V596M1529.48 588.6V596M1529.75 588.6V596M1530 588.6V596M1530.82 588.6V596M1531.16 588.6V596M1531.79 588.6V596M1532.34 588.6V596M1533 588.6V596M1534.4 588.6V596M1534.97 588.6V596M1536.25 588.6V596M1536.54 588.6V596M1537.06 588.6V596M1537.43 588.6V596M1537.83 588.6V596M1538.79 588.6V596M1539.62 588.6V596M1540.06 588.6V596M1540.95 588.6V596M1541.31 588.6V596M1541.82 588.6V596M1542.69 588.6V596M1543.39 588.6V596M1543.66 588.6V596M1544.64 588.6V596M1545.32 588.6V596M1546.07 588.6V596M1547.53 588.6V596M1548.37 588.6V596M1548.8 588.6V596M1549.06 588.6V596M1549.32 588.6V596M1549.98 588.6V596M1550.37 588.6V596M1551.03 588.6V596M1551.52 588.6V596M1552.08 588.6V596M1555.13 588.6V596M1555.47 588.6V596M1555.79 588.6V596M1556.7 588.6V596M1557.54 588.6V596M1557.93 588.6V596M1558.27 588.6V596M1559.05 588.6V596M1559.99 588.6V596M1560.34 588.6V596M1561.28 588.6V596M1562.17 588.6V596M1562.84 588.6V596M1563.37 588.6V596M1563.65 588.6V596M1563.88 588.6V596M1564.83 588.6V596M1565.21 588.6V596M1565.96 588.6V596M1566.36 588.6V596M1567.21 588.6V596M1568.42 588.6V596M1569.22 588.6V596M1569.85 588.6V596M1571.23 588.6V596M1571.72 588.6V596M1572.1 588.6V596M1572.73 588.6V596M1573.6 588.6V596M1574.28 588.6V596M1574.7 588.6V596M1575.61 588.6V596M1575.97 588.6V596M1576.18 588.6V596M1576.59 588.6V596M1577.13 588.6V596M1577.38 588.6V596M1577.71 588.6V596M1578.2 588.6V596M1578.85 588.6V596M1579.15 588.6V596M1579.63 588.6V596M1580.52 588.6V596M1581.49 588.6V596M1582.2 588.6V596M1582.94 588.6V596M1583.6 588.6V596M1583.91 588.6V596M1584.13 588.6V596M1584.34 588.6V596M1585.25 588.6V596M1586 588.6V596M1586.95 588.6V596M1587.17 588.6V596M1587.86 588.6V596M1588.44 588.6V596M1589.21 588.6V596M1589.66 588.6V596M1590.64 588.6V596M1590.89 588.6V596M1591.52 588.6V596M1592.3 588.6V596M1593.2 588.6V596M1593.98 588.6V596M1594.73 588.6V596M1595.55 588.6V596M1596.46 588.6V596M1596.93 588.6V596M1597.67 588.6V596M1598.57 588.6V596M1599.46 588.6V596M1599.98 588.6V596M1600.8 588.6V596M1601.67 588.6V596M1602.32 588.6V596M1603.01 588.6V596M1603.5 588.6V596M1604.16 588.6V596M1604.83 588.6V596M1605.09 588.6V596M1605.79 588.6V596M1606.77 588.6V596M1609.05 588.6V596M1609.98 588.6V596M1611.38 588.6V596M1612.58 588.6V596M1613.57 588.6V596M1615.12 588.6V596M1615.63 588.6V596M1617.05 588.6V596M1617.49 588.6V596M1618.71 588.6V596M1619.76 588.6V596M1620.47 588.6V596M1622.41 588.6V596M1623.09 588.6V596M1624.01 588.6V596M1624.41 588.6V596M1624.61 588.6V596M1625.05 588.6V596M1625.78 588.6V596M1626.13 588.6V596M1626.46 588.6V596M1627.37 588.6V596M1628.09 588.6V596M1628.63 588.6V596M1629.53 588.6V596M1629.98 588.6V596M1630.7 588.6V596M1631.05 588.6V596M1631.59 588.6V596M1632.42 588.6V596M1633.33 588.6V596M1635.38 588.6V596M1637.48 588.6V596M1639.02 588.6V596M1640.58 588.6V596M1641.95 588.6V596M1643.65 588.6V596M1644.43 588.6V596M1645.05 588.6V596M1646.07 588.6V596M1646.84 588.6V596M1647.52 588.6V596M1648.49 588.6V596M1649.74 588.6V596M1650.81 588.6V596M1651.26 588.6V596M1652.11 588.6V596M1653.08 588.6V596M1653.63 588.6V596M1653.89 588.6V596M1654.11 588.6V596M1655.97 588.6V596M1656.62 588.6V596M1657.06 588.6V596M1657.88 588.6V596M1658.09 588.6V596M1658.39 588.6V596M1658.95 588.6V596M1659.16 588.6V596M1660.01 588.6V596M1660.39 588.6V596M1660.7 588.6V596M1660.93 588.6V596M1661.63 588.6V596M1662.17 588.6V596M1663.58 588.6V596M1664.41 588.6V596M1665.36 588.6V596M1666.09 588.6V596M1666.44 588.6V596M1667.01 588.6V596M1668.12 588.6V596M1668.88 588.6V596M1669.22 588.6V596M1669.63 588.6V596M1670.1 588.6V596M1670.84 588.6V596M1671.45 588.6V596M1672.13 588.6V596M1677.25 588.6V596M1678.23 588.6V596M1679.21 588.6V596M1680.19 588.6V596M1681.28 588.6V596M1683.44 588.6V596M1686.88 588.6V596M1688.15 588.6V596M1689.04 588.6V596M1690.02 588.6V596M1691.59 588.6V596M1696.21 588.6V596M1700.63 588.6V596M1705.94 588.6V596M1707.21 588.6V596M1709.37 588.6V596M1711.83 588.6V596M1713.7 588.6V596M1714.48 588.6V596M1715.27 588.6V596M1717.43 588.6V596M1727.75 588.6V596M1728.43 588.6V596M1729.02 588.6V596M1730.2 588.6V596M1731.48 588.6V596M1733.05 588.6V596M1735.21 588.6V596M1738.06 588.6V596M1738.65 588.6V596M1739.93 588.6V596M1741.11 588.6V596M1747.99 588.6V596M1750.15 588.6V596M1755.85 588.6V596M1761.74 588.6V596M1763.9 588.6V596M1765.47 588.6V596M1771.57 588.6V596M1774.41 588.6V596M1779.33 588.6V596M1781.39 588.6V596M1782.27 588.6V596M1788.17 588.6V596M1806.84 588.6V596M1809.78 588.6V596M1814.79 588.6V596M1820.69 588.6V596M1823.54 588.6V596M1825.5 588.6V596" stroke="#000" stroke-width="1"/>
<rect x="1470.4" y="352" width="368.2" height="244" fill="none" stroke="#444" stroke-width="1"/>
<path d="M1470.4 361.3V586.8M1465.1 586.8H1470.4M1465.1 541.7H1470.4M1465.1 496.6H1470.4M1465.1 451.5H1470.4M1465.1 406.4H1470.4M1465.1 361.3H1470.4M1483.5 596H1761.5M1483.5 596V602M1576.2 596V602M1668.6 596V602M1761.5 596V602" fill="none" stroke="#555" stroke-width="1"/>
<path d="M1838.6 368.1H1843.9M1838.6 475.4H1843.9M1838.6 592.5H1843.9" fill="none" stroke="#777" stroke-width="0.9"/>
<text transform="translate(1459.8 592.23) rotate(-90)" style="font-family:'DejaVu Sans', sans-serif;font-size:11.5px;">-2</text>
<text transform="translate(1459.8 547.19) rotate(-90)" style="font-family:'DejaVu Sans', sans-serif;font-size:11.5px;">-1</text>
<text transform="translate(1459.8 500.25) rotate(-90)" style="font-family:'DejaVu Sans', sans-serif;font-size:11.5px;">0</text>
<text transform="translate(1459.8 455.27) rotate(-90)" style="font-family:'DejaVu Sans', sans-serif;font-size:11.5px;">1</text>
<text transform="translate(1459.8 409.91) rotate(-90)" style="font-family:'DejaVu Sans', sans-serif;font-size:11.5px;">2</text>
<text transform="translate(1459.8 364.92) rotate(-90)" style="font-family:'DejaVu Sans', sans-serif;font-size:11.5px;">3</text>
<text x="1479.45" y="619" style="font-family:'DejaVu Sans', sans-serif;font-size:11.5px;">0</text>
<text x="1565.56" y="619" style="font-family:'DejaVu Sans', sans-serif;font-size:11.5px;">200</text>
<text x="1656.1" y="619" style="font-family:'DejaVu Sans', sans-serif;font-size:11.5px;">400</text>
<text x="1751.49" y="619" style="font-family:'DejaVu Sans', sans-serif;font-size:11.5px;">600</text>
<text transform="translate(1442.91 529.25) rotate(-90)" style="font-family:'DejaVu Sans', sans-serif;font-size:14px;">Partial Effect</text>
<text x="1561.9" y="640" style="font-family:'DejaVu Sans', sans-serif;font-size:14px;">Minutes After the High Tide</text>
<text transform="translate(1869.09 439.47) rotate(90)" style="font-family:'DejaVu Sans', sans-serif;font-size:14px;">Tidal State</text>
<text transform="translate(1851.37 355.42) rotate(90) scale(1 1.12)" style="font-family:'DejaVu Sans', sans-serif;font-size:11.3px;">High</text>
<text transform="translate(1848.29 464.81) rotate(90) scale(1 1.12)" style="font-family:'DejaVu Sans', sans-serif;font-size:11.3px;">Mid</text>
<text transform="translate(1847.93 574.96) rotate(90) scale(1 1.12)" style="font-family:'DejaVu Sans', sans-serif;font-size:11.3px;">Low</text>
<text x="1420.1" y="350" style="font-family:'Liberation Sans', Arial, sans-serif;font-size:29px;font-weight:bold;">G</text>
<text x="1560.18" y="372" style="font-family:'DejaVu Sans', sans-serif;font-size:11px;font-style:italic;">M. alfredi</text></g>
</svg>
</body></html>
